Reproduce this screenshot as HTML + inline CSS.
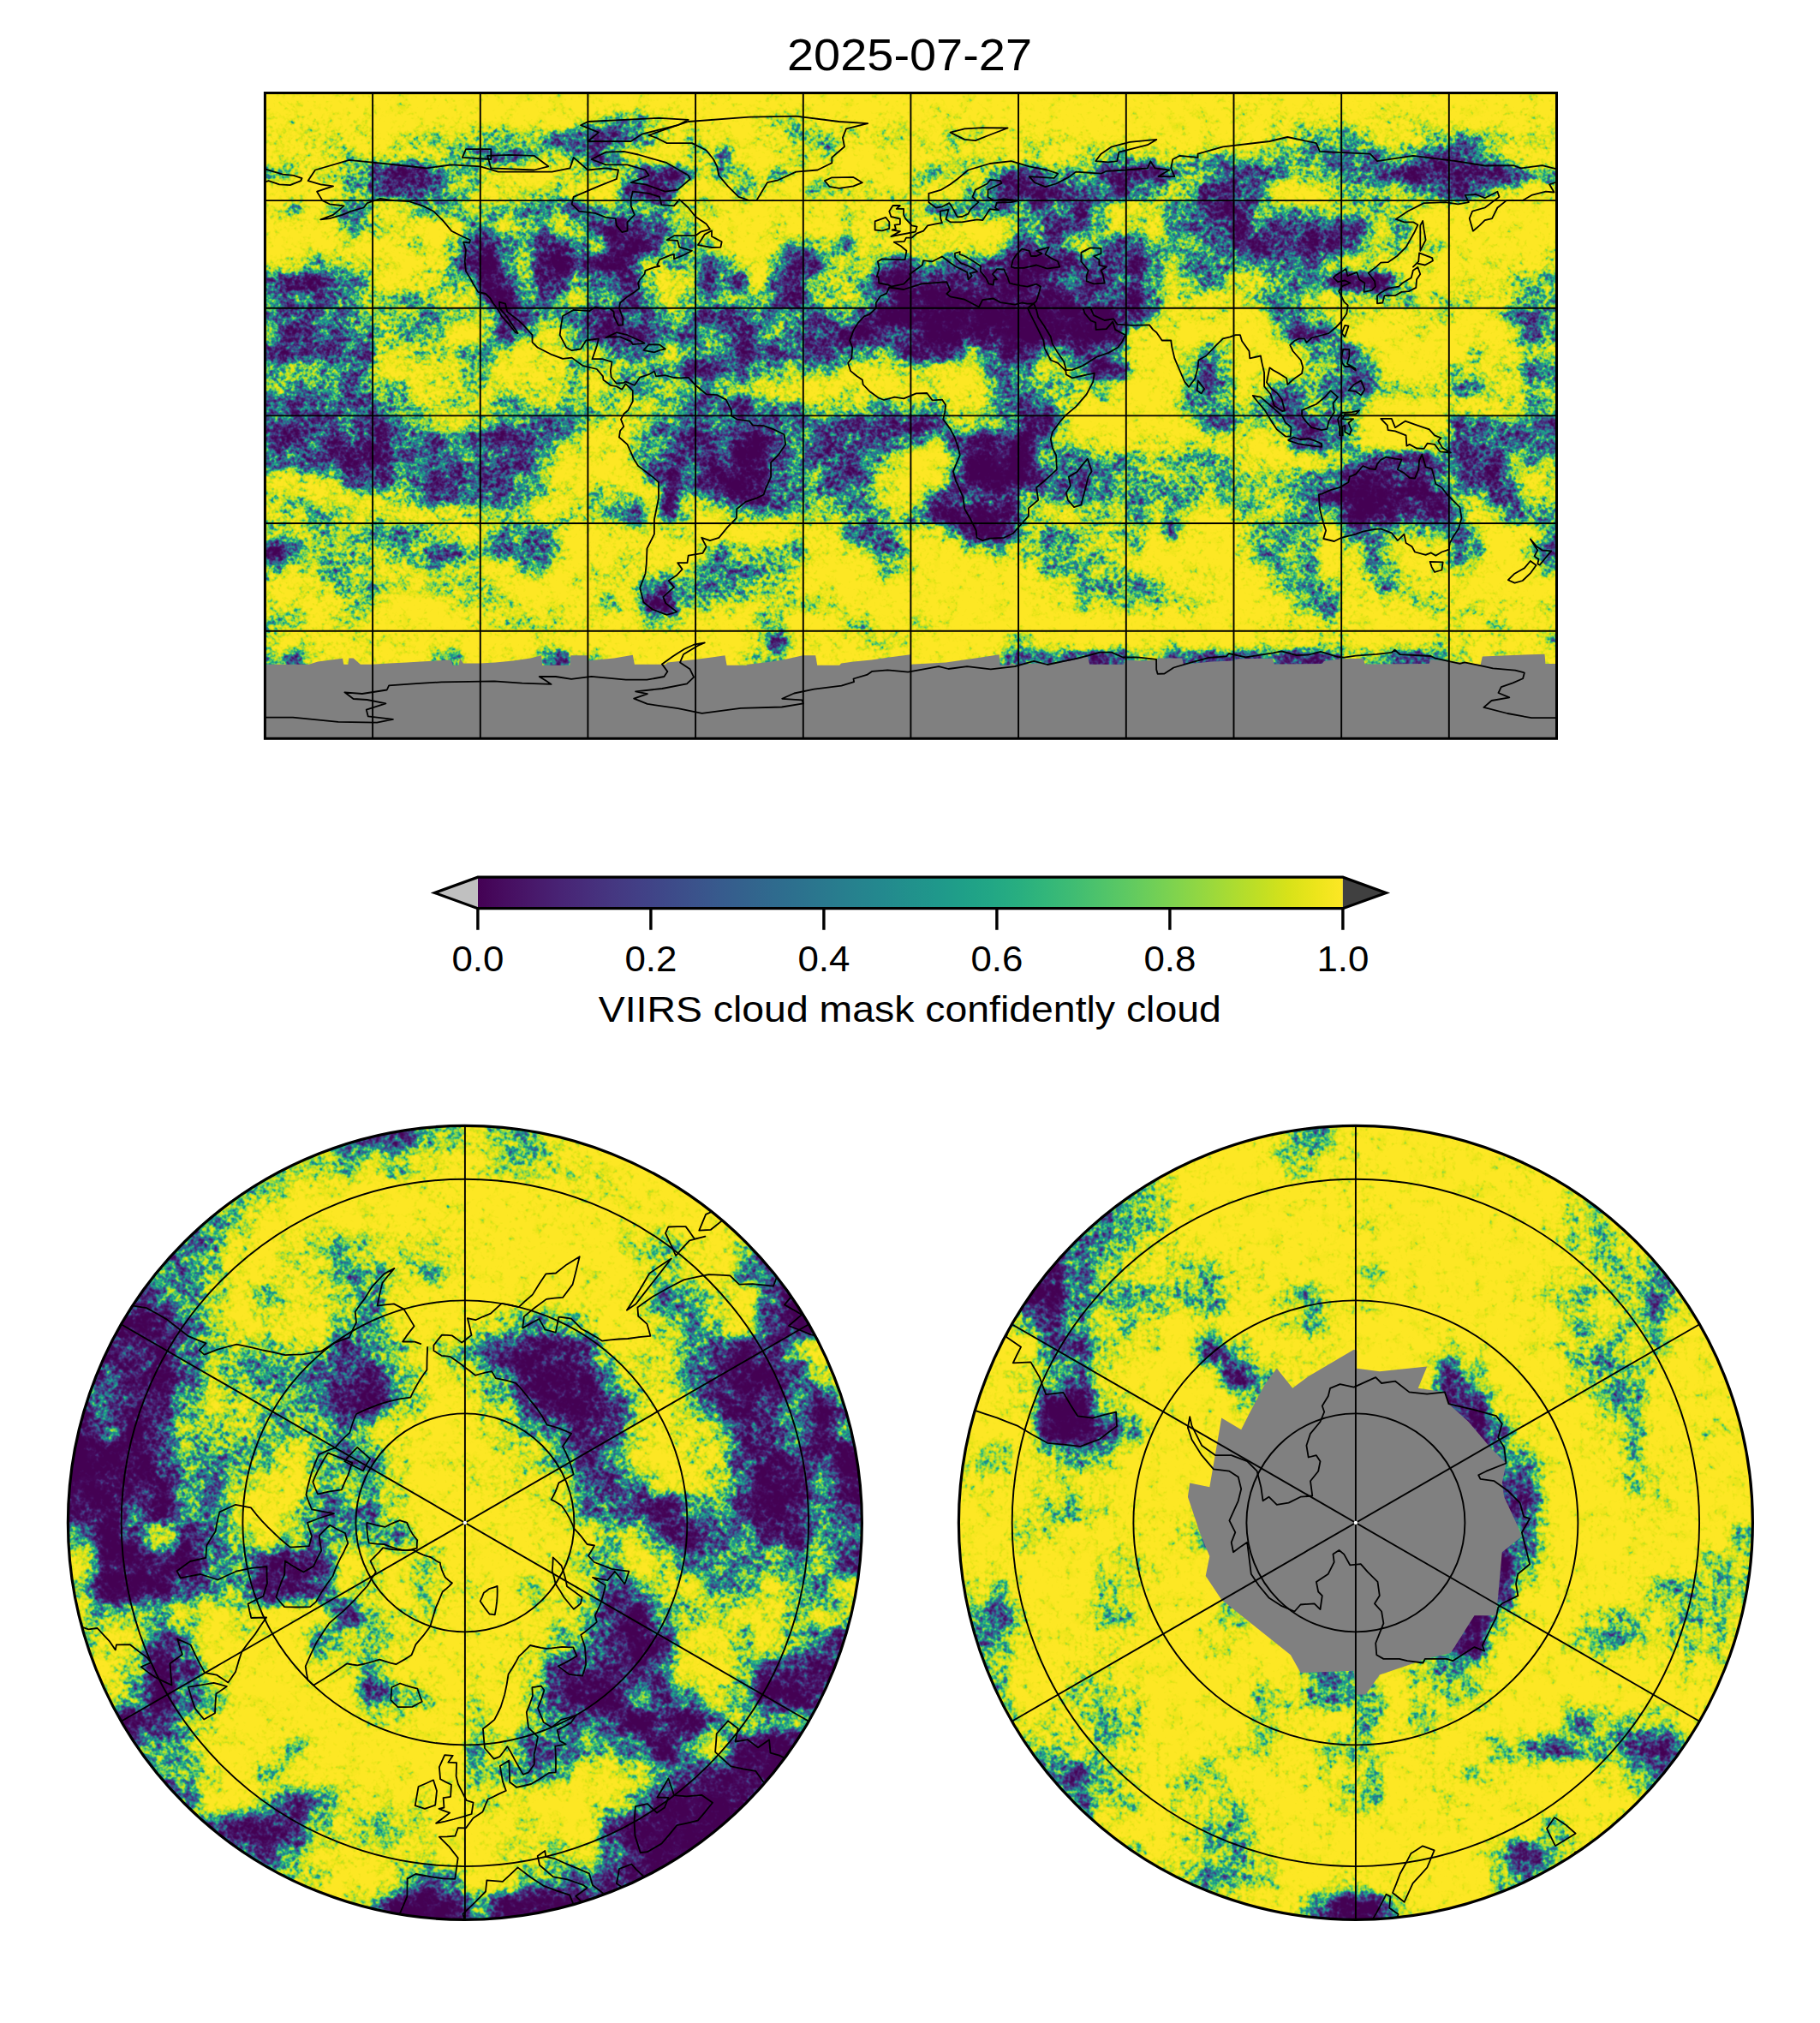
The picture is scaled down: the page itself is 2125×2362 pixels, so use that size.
<!DOCTYPE html>
<html><head><meta charset="utf-8"><title>2025-07-27</title>
<style>html,body{margin:0;padding:0;background:#fff}svg{display:block}text{font-family:"Liberation Sans",sans-serif;fill:#000}</style>
</head><body>
<svg width="2125" height="2362" viewBox="0 0 2125 2362">
<rect width="2125" height="2362" fill="#fff"/>
<defs>
<filter id="fw" filterUnits="userSpaceOnUse" x="249.39999999999998" y="48.5" width="1628.1" height="873.8" color-interpolation-filters="sRGB">
<feGaussianBlur in="SourceGraphic" stdDeviation="6" result="b"/>
<feTurbulence type="fractalNoise" baseFrequency="0.2" numOctaves="2" seed="7" result="t"/>
<feColorMatrix in="t" type="matrix" values="1 0 0 0 0 1 0 0 0 0 1 0 0 0 0 0 0 0 0 1" result="n"/>
<feTurbulence type="fractalNoise" baseFrequency="0.05" numOctaves="3" seed="12" result="t2"/>
<feColorMatrix in="t2" type="matrix" values="1 0 0 0 0 1 0 0 0 0 1 0 0 0 0 0 0 0 0 1" result="n2"/>
<feComposite in="b" in2="n" operator="arithmetic" k1="0" k2="1" k3="0.7" k4="-0.35" result="m1"/>
<feComposite in="m1" in2="n2" operator="arithmetic" k1="0" k2="1" k3="0.55" k4="-0.275" result="m"/>
<feComponentTransfer in="m"><feFuncR type="table" tableValues="0.267 0.267 0.267 0.267 0.267 0.269 0.269 0.269 0.270 0.270 0.271 0.271 0.273 0.273 0.274 0.275 0.276 0.277 0.278 0.279 0.280 0.281 0.281 0.282 0.283 0.283 0.283 0.283 0.282 0.280 0.278 0.274 0.271 0.265 0.259 0.250 0.243 0.234 0.222 0.212 0.201 0.191 0.181 0.171 0.161 0.150 0.142 0.132 0.124 0.120 0.121 0.130 0.150 0.176 0.208 0.246 0.289 0.328 0.378 0.422 0.459 0.506 0.546 0.586 0.616 0.658 0.689 0.720 0.741 0.773 0.794 0.815 0.835 0.856 0.866 0.886 0.896 0.906 0.916 0.926 0.936 0.946 0.955 0.955 0.965 0.965 0.974 0.974 0.984 0.984 0.984 0.993 0.993 0.993 0.993 0.993"/><feFuncG type="table" tableValues="0.005 0.005 0.005 0.005 0.005 0.010 0.010 0.010 0.015 0.015 0.020 0.020 0.026 0.026 0.031 0.038 0.044 0.050 0.056 0.062 0.068 0.079 0.084 0.095 0.105 0.116 0.126 0.141 0.151 0.166 0.180 0.200 0.214 0.233 0.252 0.274 0.292 0.314 0.339 0.360 0.384 0.407 0.430 0.453 0.479 0.504 0.526 0.552 0.578 0.604 0.626 0.651 0.677 0.698 0.719 0.739 0.758 0.774 0.792 0.806 0.816 0.829 0.838 0.847 0.853 0.860 0.865 0.870 0.873 0.878 0.881 0.883 0.886 0.889 0.890 0.892 0.894 0.895 0.896 0.897 0.899 0.900 0.901 0.901 0.902 0.902 0.904 0.904 0.905 0.905 0.905 0.906 0.906 0.906 0.906 0.906"/><feFuncB type="table" tableValues="0.329 0.329 0.329 0.329 0.329 0.335 0.335 0.335 0.341 0.341 0.347 0.347 0.353 0.353 0.359 0.365 0.370 0.376 0.381 0.387 0.392 0.402 0.407 0.417 0.427 0.436 0.445 0.458 0.465 0.476 0.487 0.499 0.507 0.517 0.525 0.533 0.539 0.544 0.549 0.552 0.554 0.556 0.557 0.558 0.558 0.557 0.556 0.553 0.548 0.541 0.533 0.522 0.507 0.491 0.473 0.452 0.428 0.407 0.378 0.352 0.330 0.300 0.276 0.250 0.230 0.203 0.183 0.163 0.150 0.131 0.120 0.110 0.103 0.097 0.096 0.095 0.096 0.098 0.101 0.104 0.108 0.113 0.118 0.118 0.124 0.124 0.130 0.130 0.137 0.137 0.137 0.144 0.144 0.144 0.144 0.144"/></feComponentTransfer>
</filter>
<filter id="fwm" filterUnits="userSpaceOnUse" x="249.39999999999998" y="48.5" width="1628.1" height="873.8" color-interpolation-filters="sRGB">
<feGaussianBlur in="SourceGraphic" stdDeviation="5" result="b"/>
<feTurbulence type="fractalNoise" baseFrequency="0.05" numOctaves="4" seed="11" result="t"/>
<feColorMatrix in="t" type="matrix" values="0 0 0 0 0 0 0 0 0 0 0 0 0 0 0 1 0 0 0 0" result="n"/>
<feComposite in="b" in2="n" operator="arithmetic" k1="0" k2="1" k3="0.6" k4="-0.3" result="m"/>
<feComponentTransfer in="m" result="a"><feFuncA type="linear" slope="40" intercept="-19.5"/></feComponentTransfer>
<feFlood flood-color="#808080"/><feComposite in2="a" operator="in"/>
</filter>
<filter id="fn" filterUnits="userSpaceOnUse" x="19.399999999999977" y="1254.4" width="1047.0" height="1047.0" color-interpolation-filters="sRGB">
<feGaussianBlur in="SourceGraphic" stdDeviation="8" result="b"/>
<feTurbulence type="fractalNoise" baseFrequency="0.18" numOctaves="2" seed="21" result="t"/>
<feColorMatrix in="t" type="matrix" values="1 0 0 0 0 1 0 0 0 0 1 0 0 0 0 0 0 0 0 1" result="n"/>
<feTurbulence type="fractalNoise" baseFrequency="0.05" numOctaves="3" seed="26" result="t2"/>
<feColorMatrix in="t2" type="matrix" values="1 0 0 0 0 1 0 0 0 0 1 0 0 0 0 0 0 0 0 1" result="n2"/>
<feComposite in="b" in2="n" operator="arithmetic" k1="0" k2="1" k3="0.7" k4="-0.35" result="m1"/>
<feComposite in="m1" in2="n2" operator="arithmetic" k1="0" k2="1" k3="0.55" k4="-0.275" result="m"/>
<feComponentTransfer in="m"><feFuncR type="table" tableValues="0.267 0.267 0.267 0.267 0.267 0.269 0.269 0.269 0.270 0.270 0.271 0.271 0.273 0.273 0.274 0.275 0.276 0.277 0.278 0.279 0.280 0.281 0.281 0.282 0.283 0.283 0.283 0.283 0.282 0.280 0.278 0.274 0.271 0.265 0.259 0.250 0.243 0.234 0.222 0.212 0.201 0.191 0.181 0.171 0.161 0.150 0.142 0.132 0.124 0.120 0.121 0.130 0.150 0.176 0.208 0.246 0.289 0.328 0.378 0.422 0.459 0.506 0.546 0.586 0.616 0.658 0.689 0.720 0.741 0.773 0.794 0.815 0.835 0.856 0.866 0.886 0.896 0.906 0.916 0.926 0.936 0.946 0.955 0.955 0.965 0.965 0.974 0.974 0.984 0.984 0.984 0.993 0.993 0.993 0.993 0.993"/><feFuncG type="table" tableValues="0.005 0.005 0.005 0.005 0.005 0.010 0.010 0.010 0.015 0.015 0.020 0.020 0.026 0.026 0.031 0.038 0.044 0.050 0.056 0.062 0.068 0.079 0.084 0.095 0.105 0.116 0.126 0.141 0.151 0.166 0.180 0.200 0.214 0.233 0.252 0.274 0.292 0.314 0.339 0.360 0.384 0.407 0.430 0.453 0.479 0.504 0.526 0.552 0.578 0.604 0.626 0.651 0.677 0.698 0.719 0.739 0.758 0.774 0.792 0.806 0.816 0.829 0.838 0.847 0.853 0.860 0.865 0.870 0.873 0.878 0.881 0.883 0.886 0.889 0.890 0.892 0.894 0.895 0.896 0.897 0.899 0.900 0.901 0.901 0.902 0.902 0.904 0.904 0.905 0.905 0.905 0.906 0.906 0.906 0.906 0.906"/><feFuncB type="table" tableValues="0.329 0.329 0.329 0.329 0.329 0.335 0.335 0.335 0.341 0.341 0.347 0.347 0.353 0.353 0.359 0.365 0.370 0.376 0.381 0.387 0.392 0.402 0.407 0.417 0.427 0.436 0.445 0.458 0.465 0.476 0.487 0.499 0.507 0.517 0.525 0.533 0.539 0.544 0.549 0.552 0.554 0.556 0.557 0.558 0.558 0.557 0.556 0.553 0.548 0.541 0.533 0.522 0.507 0.491 0.473 0.452 0.428 0.407 0.378 0.352 0.330 0.300 0.276 0.250 0.230 0.203 0.183 0.163 0.150 0.131 0.120 0.110 0.103 0.097 0.096 0.095 0.096 0.098 0.101 0.104 0.108 0.113 0.118 0.118 0.124 0.124 0.130 0.130 0.137 0.137 0.137 0.144 0.144 0.144 0.144 0.144"/></feComponentTransfer>
</filter>
<filter id="fnm" filterUnits="userSpaceOnUse" x="19.399999999999977" y="1254.4" width="1047.0" height="1047.0" color-interpolation-filters="sRGB">
<feGaussianBlur in="SourceGraphic" stdDeviation="6" result="b"/>
<feTurbulence type="fractalNoise" baseFrequency="0.05" numOctaves="4" seed="22" result="t"/>
<feColorMatrix in="t" type="matrix" values="0 0 0 0 0 0 0 0 0 0 0 0 0 0 0 1 0 0 0 0" result="n"/>
<feComposite in="b" in2="n" operator="arithmetic" k1="0" k2="1" k3="0.6" k4="-0.3" result="m"/>
<feComponentTransfer in="m" result="a"><feFuncA type="linear" slope="40" intercept="-19.5"/></feComponentTransfer>
<feFlood flood-color="#808080"/><feComposite in2="a" operator="in"/>
</filter>
<filter id="fs" filterUnits="userSpaceOnUse" x="1059.4" y="1254.4" width="1047.0" height="1047.0" color-interpolation-filters="sRGB">
<feGaussianBlur in="SourceGraphic" stdDeviation="8" result="b"/>
<feTurbulence type="fractalNoise" baseFrequency="0.18" numOctaves="2" seed="33" result="t"/>
<feColorMatrix in="t" type="matrix" values="1 0 0 0 0 1 0 0 0 0 1 0 0 0 0 0 0 0 0 1" result="n"/>
<feTurbulence type="fractalNoise" baseFrequency="0.05" numOctaves="3" seed="38" result="t2"/>
<feColorMatrix in="t2" type="matrix" values="1 0 0 0 0 1 0 0 0 0 1 0 0 0 0 0 0 0 0 1" result="n2"/>
<feComposite in="b" in2="n" operator="arithmetic" k1="0" k2="1" k3="0.7" k4="-0.35" result="m1"/>
<feComposite in="m1" in2="n2" operator="arithmetic" k1="0" k2="1" k3="0.55" k4="-0.275" result="m"/>
<feComponentTransfer in="m"><feFuncR type="table" tableValues="0.267 0.267 0.267 0.267 0.267 0.269 0.269 0.269 0.270 0.270 0.271 0.271 0.273 0.273 0.274 0.275 0.276 0.277 0.278 0.279 0.280 0.281 0.281 0.282 0.283 0.283 0.283 0.283 0.282 0.280 0.278 0.274 0.271 0.265 0.259 0.250 0.243 0.234 0.222 0.212 0.201 0.191 0.181 0.171 0.161 0.150 0.142 0.132 0.124 0.120 0.121 0.130 0.150 0.176 0.208 0.246 0.289 0.328 0.378 0.422 0.459 0.506 0.546 0.586 0.616 0.658 0.689 0.720 0.741 0.773 0.794 0.815 0.835 0.856 0.866 0.886 0.896 0.906 0.916 0.926 0.936 0.946 0.955 0.955 0.965 0.965 0.974 0.974 0.984 0.984 0.984 0.993 0.993 0.993 0.993 0.993"/><feFuncG type="table" tableValues="0.005 0.005 0.005 0.005 0.005 0.010 0.010 0.010 0.015 0.015 0.020 0.020 0.026 0.026 0.031 0.038 0.044 0.050 0.056 0.062 0.068 0.079 0.084 0.095 0.105 0.116 0.126 0.141 0.151 0.166 0.180 0.200 0.214 0.233 0.252 0.274 0.292 0.314 0.339 0.360 0.384 0.407 0.430 0.453 0.479 0.504 0.526 0.552 0.578 0.604 0.626 0.651 0.677 0.698 0.719 0.739 0.758 0.774 0.792 0.806 0.816 0.829 0.838 0.847 0.853 0.860 0.865 0.870 0.873 0.878 0.881 0.883 0.886 0.889 0.890 0.892 0.894 0.895 0.896 0.897 0.899 0.900 0.901 0.901 0.902 0.902 0.904 0.904 0.905 0.905 0.905 0.906 0.906 0.906 0.906 0.906"/><feFuncB type="table" tableValues="0.329 0.329 0.329 0.329 0.329 0.335 0.335 0.335 0.341 0.341 0.347 0.347 0.353 0.353 0.359 0.365 0.370 0.376 0.381 0.387 0.392 0.402 0.407 0.417 0.427 0.436 0.445 0.458 0.465 0.476 0.487 0.499 0.507 0.517 0.525 0.533 0.539 0.544 0.549 0.552 0.554 0.556 0.557 0.558 0.558 0.557 0.556 0.553 0.548 0.541 0.533 0.522 0.507 0.491 0.473 0.452 0.428 0.407 0.378 0.352 0.330 0.300 0.276 0.250 0.230 0.203 0.183 0.163 0.150 0.131 0.120 0.110 0.103 0.097 0.096 0.095 0.096 0.098 0.101 0.104 0.108 0.113 0.118 0.118 0.124 0.124 0.130 0.130 0.137 0.137 0.137 0.144 0.144 0.144 0.144 0.144"/></feComponentTransfer>
</filter>
<filter id="fsm" filterUnits="userSpaceOnUse" x="1059.4" y="1254.4" width="1047.0" height="1047.0" color-interpolation-filters="sRGB">
<feGaussianBlur in="SourceGraphic" stdDeviation="6" result="b"/>
<feTurbulence type="fractalNoise" baseFrequency="0.05" numOctaves="4" seed="34" result="t"/>
<feColorMatrix in="t" type="matrix" values="0 0 0 0 0 0 0 0 0 0 0 0 0 0 0 1 0 0 0 0" result="n"/>
<feComposite in="b" in2="n" operator="arithmetic" k1="0" k2="1" k3="0.6" k4="-0.3" result="m"/>
<feComponentTransfer in="m" result="a"><feFuncA type="linear" slope="40" intercept="-19.5"/></feComponentTransfer>
<feFlood flood-color="#808080"/><feComposite in2="a" operator="in"/>
</filter>
<clipPath id="cw"><rect x="309.4" y="108.5" width="1508.1" height="753.8"/></clipPath>
<clipPath id="cn"><circle cx="542.9" cy="1777.9" r="463.5"/></clipPath>
<clipPath id="cs"><circle cx="1582.9" cy="1777.9" r="463.5"/></clipPath>
<linearGradient id="vg" x1="0" x2="1" y1="0" y2="0"><stop offset="0.0000" stop-color="rgb(68,1,84)"/><stop offset="0.0312" stop-color="rgb(71,13,96)"/><stop offset="0.0625" stop-color="rgb(72,24,106)"/><stop offset="0.0938" stop-color="rgb(72,35,116)"/><stop offset="0.1250" stop-color="rgb(71,45,123)"/><stop offset="0.1562" stop-color="rgb(69,55,129)"/><stop offset="0.1875" stop-color="rgb(66,64,134)"/><stop offset="0.2188" stop-color="rgb(62,73,137)"/><stop offset="0.2500" stop-color="rgb(59,82,139)"/><stop offset="0.2812" stop-color="rgb(55,91,141)"/><stop offset="0.3125" stop-color="rgb(51,99,141)"/><stop offset="0.3438" stop-color="rgb(47,107,142)"/><stop offset="0.3750" stop-color="rgb(44,114,142)"/><stop offset="0.4062" stop-color="rgb(41,122,142)"/><stop offset="0.4375" stop-color="rgb(38,130,142)"/><stop offset="0.4688" stop-color="rgb(35,137,142)"/><stop offset="0.5000" stop-color="rgb(33,145,140)"/><stop offset="0.5312" stop-color="rgb(31,152,139)"/><stop offset="0.5625" stop-color="rgb(31,160,136)"/><stop offset="0.5938" stop-color="rgb(34,167,133)"/><stop offset="0.6250" stop-color="rgb(40,174,128)"/><stop offset="0.6562" stop-color="rgb(50,182,122)"/><stop offset="0.6875" stop-color="rgb(63,188,115)"/><stop offset="0.7188" stop-color="rgb(78,195,107)"/><stop offset="0.7500" stop-color="rgb(94,201,98)"/><stop offset="0.7812" stop-color="rgb(112,207,87)"/><stop offset="0.8125" stop-color="rgb(132,212,75)"/><stop offset="0.8438" stop-color="rgb(152,216,62)"/><stop offset="0.8750" stop-color="rgb(173,220,48)"/><stop offset="0.9062" stop-color="rgb(194,223,35)"/><stop offset="0.9375" stop-color="rgb(216,226,25)"/><stop offset="0.9688" stop-color="rgb(236,229,27)"/><stop offset="1.0000" stop-color="rgb(253,231,37)"/></linearGradient>
</defs>
<g clip-path="url(#cw)">
<g filter="url(#fw)"><path fill="rgb(0,0,0)" d="M1189.1 296.9h42.4v21.4h-42.4zM560.8 317.9h21.4v21.4h-21.4zM1042.5 317.9h21.4v21.4h-21.4zM1063.4 338.8h42.4v21.4h-42.4zM1168.2 338.8h21.4v21.4h-21.4zM1021.6 359.8h42.4v21.4h-42.4zM1105.3 359.8h189.0v21.4h-189.0zM1084.4 380.7h42.4v21.4h-42.4zM1168.2 380.7h42.4v21.4h-42.4zM1252.0 380.7h42.4v21.4h-42.4zM874.9 506.3h21.4v21.4h-21.4zM1126.3 527.3h63.3v21.4h-63.3zM1126.3 548.2h63.3v21.4h-63.3zM1566.2 569.2h42.4v21.4h-42.4zM1587.1 590.1h21.4v21.4h-21.4z"/>
<path fill="rgb(20,20,20)" d="M456.0 192.3h21.4v21.4h-21.4zM749.3 213.2h21.4v21.4h-21.4zM707.4 255.1h21.4v21.4h-21.4zM728.3 276.0h21.4v21.4h-21.4zM560.8 296.9h21.4v21.4h-21.4zM644.5 296.9h21.4v21.4h-21.4zM686.4 296.9h42.4v21.4h-42.4zM916.8 296.9h21.4v21.4h-21.4zM1168.2 296.9h21.4v21.4h-21.4zM1021.6 317.9h21.4v21.4h-21.4zM1189.1 317.9h21.4v21.4h-21.4zM1566.2 317.9h21.4v21.4h-21.4zM1608.0 317.9h21.4v21.4h-21.4zM560.8 338.8h42.4v21.4h-42.4zM1042.5 338.8h21.4v21.4h-21.4zM1105.3 338.8h21.4v21.4h-21.4zM1147.2 338.8h21.4v21.4h-21.4zM1210.1 338.8h42.4v21.4h-42.4zM1314.8 338.8h21.4v21.4h-21.4zM1063.4 359.8h42.4v21.4h-42.4zM1293.9 359.8h21.4v21.4h-21.4zM1000.6 380.7h21.4v21.4h-21.4zM1126.3 380.7h42.4v21.4h-42.4zM1210.1 380.7h42.4v21.4h-42.4zM1084.4 401.6h21.4v21.4h-21.4zM854.0 506.3h21.4v21.4h-21.4zM1189.1 506.3h21.4v21.4h-21.4zM854.0 527.3h42.4v21.4h-42.4zM1189.1 527.3h21.4v21.4h-21.4zM833.0 548.2h42.4v21.4h-42.4zM1189.1 548.2h21.4v21.4h-21.4zM1587.1 548.2h21.4v21.4h-21.4zM854.0 569.2h21.4v21.4h-21.4zM1545.2 569.2h21.4v21.4h-21.4zM1608.0 569.2h63.3v21.4h-63.3zM1084.4 590.1h105.2v21.4h-105.2zM1566.2 590.1h21.4v21.4h-21.4zM1608.0 590.1h21.4v21.4h-21.4zM1126.3 611.0h42.4v21.4h-42.4zM267.5 632.0h63.3v21.4h-63.3z"/>
<path fill="rgb(46,46,46)" d="M686.4 150.4h21.4v21.4h-21.4zM435.1 192.3h21.4v21.4h-21.4zM477.0 192.3h21.4v21.4h-21.4zM749.3 192.3h42.4v21.4h-42.4zM1293.9 192.3h63.3v21.4h-63.3zM1629.0 192.3h126.2v21.4h-126.2zM728.3 213.2h21.4v21.4h-21.4zM1168.2 213.2h63.3v21.4h-63.3zM1419.5 213.2h21.4v21.4h-21.4zM1252.0 234.1h21.4v21.4h-21.4zM1419.5 234.1h42.4v21.4h-42.4zM728.3 255.1h21.4v21.4h-21.4zM1231.0 255.1h21.4v21.4h-21.4zM560.8 276.0h21.4v21.4h-21.4zM623.6 276.0h42.4v21.4h-42.4zM707.4 276.0h21.4v21.4h-21.4zM1461.4 276.0h21.4v21.4h-21.4zM1524.3 276.0h42.4v21.4h-42.4zM539.8 296.9h21.4v21.4h-21.4zM623.6 296.9h21.4v21.4h-21.4zM1042.5 296.9h21.4v21.4h-21.4zM1231.0 296.9h21.4v21.4h-21.4zM351.3 317.9h21.4v21.4h-21.4zM644.5 317.9h21.4v21.4h-21.4zM916.8 317.9h21.4v21.4h-21.4zM1084.4 317.9h42.4v21.4h-42.4zM1147.2 317.9h42.4v21.4h-42.4zM1272.9 317.9h21.4v21.4h-21.4zM1587.1 317.9h21.4v21.4h-21.4zM728.3 338.8h21.4v21.4h-21.4zM1126.3 338.8h21.4v21.4h-21.4zM1189.1 338.8h21.4v21.4h-21.4zM581.7 359.8h21.4v21.4h-21.4zM707.4 359.8h21.4v21.4h-21.4zM707.4 380.7h21.4v21.4h-21.4zM979.7 380.7h21.4v21.4h-21.4zM1063.4 380.7h21.4v21.4h-21.4zM1293.9 380.7h21.4v21.4h-21.4zM1063.4 401.6h21.4v21.4h-21.4zM1168.2 401.6h42.4v21.4h-42.4zM1272.9 422.6h21.4v21.4h-21.4zM435.1 485.4h21.4v21.4h-21.4zM1042.5 485.4h42.4v21.4h-42.4zM1189.1 485.4h42.4v21.4h-42.4zM414.1 506.3h42.4v21.4h-42.4zM1126.3 506.3h63.3v21.4h-63.3zM393.2 527.3h63.3v21.4h-63.3zM1649.9 527.3h21.4v21.4h-21.4zM770.2 548.2h21.4v21.4h-21.4zM812.1 548.2h21.4v21.4h-21.4zM874.9 548.2h21.4v21.4h-21.4zM1566.2 548.2h21.4v21.4h-21.4zM1608.0 548.2h21.4v21.4h-21.4zM1649.9 548.2h21.4v21.4h-21.4zM1712.8 548.2h42.4v21.4h-42.4zM770.2 569.2h21.4v21.4h-21.4zM874.9 569.2h21.4v21.4h-21.4zM1670.9 569.2h21.4v21.4h-21.4zM770.2 590.1h21.4v21.4h-21.4zM1670.9 590.1h21.4v21.4h-21.4zM749.3 694.8h42.4v21.4h-42.4zM1272.9 757.6h21.4v21.4h-21.4zM1272.9 778.5h21.4v21.4h-21.4zM1272.9 799.5h21.4v21.4h-21.4zM1272.9 820.4h21.4v21.4h-21.4zM1272.9 841.4h21.4v63.3h-21.4z"/>
<path fill="rgb(76,76,76)" d="M707.4 150.4h21.4v21.4h-21.4zM581.7 171.3h21.4v21.4h-21.4zM686.4 171.3h21.4v21.4h-21.4zM1670.9 171.3h42.4v21.4h-42.4zM1168.2 192.3h42.4v21.4h-42.4zM1440.5 192.3h42.4v21.4h-42.4zM1608.0 192.3h21.4v21.4h-21.4zM1754.7 192.3h21.4v21.4h-21.4zM435.1 213.2h63.3v21.4h-63.3zM770.2 213.2h21.4v21.4h-21.4zM1231.0 213.2h21.4v21.4h-21.4zM1293.9 213.2h21.4v21.4h-21.4zM1398.6 213.2h21.4v21.4h-21.4zM1440.5 213.2h21.4v21.4h-21.4zM1691.8 213.2h21.4v21.4h-21.4zM665.5 234.1h21.4v21.4h-21.4zM1210.1 234.1h21.4v21.4h-21.4zM1398.6 234.1h21.4v21.4h-21.4zM686.4 255.1h21.4v21.4h-21.4zM749.3 255.1h21.4v21.4h-21.4zM1252.0 255.1h21.4v21.4h-21.4zM1419.5 255.1h42.4v21.4h-42.4zM1482.4 255.1h105.2v21.4h-105.2zM539.8 276.0h21.4v21.4h-21.4zM749.3 276.0h21.4v21.4h-21.4zM1189.1 276.0h21.4v21.4h-21.4zM1293.9 276.0h42.4v21.4h-42.4zM1419.5 276.0h42.4v21.4h-42.4zM1482.4 276.0h42.4v21.4h-42.4zM1566.2 276.0h21.4v21.4h-21.4zM665.5 296.9h21.4v21.4h-21.4zM728.3 296.9h21.4v21.4h-21.4zM937.8 296.9h21.4v21.4h-21.4zM1147.2 296.9h21.4v21.4h-21.4zM1252.0 296.9h21.4v21.4h-21.4zM1293.9 296.9h42.4v21.4h-42.4zM267.5 317.9h84.3v21.4h-84.3zM372.2 317.9h21.4v21.4h-21.4zM581.7 317.9h21.4v21.4h-21.4zM623.6 317.9h21.4v21.4h-21.4zM728.3 317.9h21.4v21.4h-21.4zM812.1 317.9h21.4v21.4h-21.4zM854.0 317.9h21.4v21.4h-21.4zM1063.4 317.9h21.4v21.4h-21.4zM1126.3 317.9h21.4v21.4h-21.4zM1210.1 317.9h21.4v21.4h-21.4zM1314.8 317.9h21.4v21.4h-21.4zM1545.2 317.9h21.4v21.4h-21.4zM330.3 338.8h21.4v21.4h-21.4zM623.6 338.8h21.4v21.4h-21.4zM895.9 338.8h42.4v21.4h-42.4zM1252.0 338.8h63.3v21.4h-63.3zM330.3 359.8h42.4v21.4h-42.4zM602.6 359.8h21.4v21.4h-21.4zM686.4 359.8h21.4v21.4h-21.4zM812.1 359.8h63.3v21.4h-63.3zM937.8 359.8h21.4v21.4h-21.4zM1000.6 359.8h21.4v21.4h-21.4zM1314.8 359.8h21.4v21.4h-21.4zM330.3 380.7h42.4v21.4h-42.4zM581.7 380.7h21.4v21.4h-21.4zM686.4 380.7h21.4v21.4h-21.4zM728.3 380.7h42.4v21.4h-42.4zM791.2 380.7h21.4v21.4h-21.4zM854.0 380.7h21.4v21.4h-21.4zM937.8 380.7h42.4v21.4h-42.4zM1021.6 380.7h42.4v21.4h-42.4zM1503.3 380.7h42.4v21.4h-42.4zM1775.6 380.7h21.4v21.4h-21.4zM267.5 401.6h126.2v21.4h-126.2zM414.1 401.6h21.4v21.4h-21.4zM854.0 401.6h63.3v21.4h-63.3zM937.8 401.6h42.4v21.4h-42.4zM1042.5 401.6h21.4v21.4h-21.4zM1105.3 401.6h21.4v21.4h-21.4zM1252.0 401.6h42.4v21.4h-42.4zM791.2 422.6h42.4v21.4h-42.4zM1293.9 422.6h21.4v21.4h-21.4zM1398.6 422.6h21.4v21.4h-21.4zM1566.2 422.6h21.4v21.4h-21.4zM330.3 464.5h21.4v21.4h-21.4zM854.0 464.5h21.4v21.4h-21.4zM1189.1 464.5h42.4v21.4h-42.4zM1482.4 464.5h21.4v21.4h-21.4zM267.5 485.4h105.2v21.4h-105.2zM414.1 485.4h21.4v21.4h-21.4zM623.6 485.4h21.4v21.4h-21.4zM812.1 485.4h21.4v21.4h-21.4zM854.0 485.4h42.4v21.4h-42.4zM958.7 485.4h84.3v21.4h-84.3zM1084.4 485.4h21.4v21.4h-21.4zM1503.3 485.4h42.4v21.4h-42.4zM1691.8 485.4h21.4v21.4h-21.4zM1796.6 485.4h63.3v21.4h-63.3zM267.5 506.3h84.3v21.4h-84.3zM372.2 506.3h42.4v21.4h-42.4zM497.9 506.3h21.4v21.4h-21.4zM560.8 506.3h63.3v21.4h-63.3zM791.2 506.3h42.4v21.4h-42.4zM895.9 506.3h21.4v21.4h-21.4zM958.7 506.3h42.4v21.4h-42.4zM1021.6 506.3h21.4v21.4h-21.4zM1105.3 506.3h21.4v21.4h-21.4zM1503.3 506.3h42.4v21.4h-42.4zM1691.8 506.3h21.4v21.4h-21.4zM351.3 527.3h42.4v21.4h-42.4zM581.7 527.3h42.4v21.4h-42.4zM791.2 527.3h63.3v21.4h-63.3zM979.7 527.3h21.4v21.4h-21.4zM1587.1 527.3h63.3v21.4h-63.3zM1712.8 527.3h42.4v21.4h-42.4zM414.1 548.2h42.4v21.4h-42.4zM497.9 548.2h84.3v21.4h-84.3zM979.7 548.2h21.4v21.4h-21.4zM1210.1 548.2h21.4v21.4h-21.4zM1252.0 548.2h21.4v21.4h-21.4zM1629.0 548.2h21.4v21.4h-21.4zM497.9 569.2h21.4v21.4h-21.4zM560.8 569.2h21.4v21.4h-21.4zM833.0 569.2h21.4v21.4h-21.4zM1084.4 569.2h42.4v21.4h-42.4zM1147.2 569.2h42.4v21.4h-42.4zM1524.3 569.2h21.4v21.4h-21.4zM1733.7 569.2h42.4v21.4h-42.4zM728.3 590.1h21.4v21.4h-21.4zM1629.0 590.1h42.4v21.4h-42.4zM1000.6 611.0h21.4v21.4h-21.4zM1168.2 611.0h21.4v21.4h-21.4zM623.6 632.0h21.4v21.4h-21.4zM1021.6 632.0h21.4v21.4h-21.4zM1796.6 632.0h63.3v21.4h-63.3zM770.2 673.8h21.4v21.4h-21.4zM895.9 736.7h21.4v21.4h-21.4zM644.5 757.6h21.4v21.4h-21.4zM1293.9 757.6h21.4v21.4h-21.4zM1398.6 757.6h42.4v21.4h-42.4zM1482.4 757.6h63.3v21.4h-63.3zM1629.0 757.6h42.4v21.4h-42.4zM644.5 778.5h21.4v21.4h-21.4zM1293.9 778.5h21.4v21.4h-21.4zM1398.6 778.5h42.4v21.4h-42.4zM1482.4 778.5h63.3v21.4h-63.3zM1629.0 778.5h42.4v21.4h-42.4zM644.5 799.5h21.4v21.4h-21.4zM1293.9 799.5h21.4v21.4h-21.4zM1398.6 799.5h42.4v21.4h-42.4zM1482.4 799.5h63.3v21.4h-63.3zM1629.0 799.5h42.4v21.4h-42.4zM644.5 820.4h21.4v21.4h-21.4zM1293.9 820.4h21.4v21.4h-21.4zM1398.6 820.4h42.4v21.4h-42.4zM1482.4 820.4h63.3v21.4h-63.3zM1629.0 820.4h42.4v21.4h-42.4zM644.5 841.4h21.4v63.3h-21.4zM1293.9 841.4h21.4v63.3h-21.4zM1398.6 841.4h42.4v63.3h-42.4zM1482.4 841.4h63.3v63.3h-63.3zM1629.0 841.4h42.4v63.3h-42.4z"/>
<path fill="rgb(110,110,110)" d="M644.5 150.4h42.4v21.4h-42.4zM728.3 150.4h21.4v21.4h-21.4zM560.8 171.3h21.4v21.4h-21.4zM602.6 171.3h21.4v21.4h-21.4zM833.0 171.3h21.4v21.4h-21.4zM1545.2 171.3h63.3v21.4h-63.3zM1649.9 171.3h21.4v21.4h-21.4zM1712.8 171.3h21.4v21.4h-21.4zM497.9 192.3h21.4v21.4h-21.4zM791.2 192.3h21.4v21.4h-21.4zM833.0 192.3h21.4v21.4h-21.4zM1210.1 192.3h21.4v21.4h-21.4zM1272.9 192.3h21.4v21.4h-21.4zM1356.7 192.3h21.4v21.4h-21.4zM1419.5 192.3h21.4v21.4h-21.4zM1482.4 192.3h21.4v21.4h-21.4zM1566.2 192.3h42.4v21.4h-42.4zM497.9 213.2h21.4v21.4h-21.4zM1147.2 213.2h21.4v21.4h-21.4zM1252.0 213.2h42.4v21.4h-42.4zM1314.8 213.2h21.4v21.4h-21.4zM1649.9 213.2h42.4v21.4h-42.4zM1712.8 213.2h21.4v21.4h-21.4zM414.1 234.1h21.4v21.4h-21.4zM623.6 234.1h42.4v21.4h-42.4zM1084.4 234.1h21.4v21.4h-21.4zM1126.3 234.1h63.3v21.4h-63.3zM1377.6 234.1h21.4v21.4h-21.4zM1210.1 255.1h21.4v21.4h-21.4zM1377.6 255.1h42.4v21.4h-42.4zM1461.4 255.1h21.4v21.4h-21.4zM581.7 276.0h42.4v21.4h-42.4zM791.2 276.0h21.4v21.4h-21.4zM916.8 276.0h21.4v21.4h-21.4zM979.7 276.0h21.4v21.4h-21.4zM1210.1 276.0h42.4v21.4h-42.4zM1398.6 276.0h21.4v21.4h-21.4zM812.1 296.9h21.4v21.4h-21.4zM1021.6 296.9h21.4v21.4h-21.4zM1105.3 296.9h42.4v21.4h-42.4zM1272.9 296.9h21.4v21.4h-21.4zM1335.7 296.9h21.4v21.4h-21.4zM1377.6 296.9h42.4v21.4h-42.4zM1461.4 296.9h84.3v21.4h-84.3zM393.2 317.9h21.4v21.4h-21.4zM539.8 317.9h21.4v21.4h-21.4zM707.4 317.9h21.4v21.4h-21.4zM833.0 317.9h21.4v21.4h-21.4zM895.9 317.9h21.4v21.4h-21.4zM1231.0 317.9h42.4v21.4h-42.4zM1293.9 317.9h21.4v21.4h-21.4zM1398.6 317.9h21.4v21.4h-21.4zM351.3 338.8h63.3v21.4h-63.3zM686.4 338.8h42.4v21.4h-42.4zM1021.6 338.8h21.4v21.4h-21.4zM1482.4 338.8h21.4v21.4h-21.4zM393.2 359.8h21.4v21.4h-21.4zM497.9 359.8h21.4v21.4h-21.4zM665.5 359.8h21.4v21.4h-21.4zM728.3 359.8h42.4v21.4h-42.4zM874.9 359.8h21.4v21.4h-21.4zM958.7 359.8h21.4v21.4h-21.4zM1482.4 359.8h42.4v21.4h-42.4zM1775.6 359.8h21.4v21.4h-21.4zM372.2 380.7h42.4v21.4h-42.4zM665.5 380.7h21.4v21.4h-21.4zM770.2 380.7h21.4v21.4h-21.4zM874.9 380.7h21.4v21.4h-21.4zM916.8 380.7h21.4v21.4h-21.4zM1545.2 380.7h21.4v21.4h-21.4zM393.2 401.6h21.4v21.4h-21.4zM728.3 401.6h21.4v21.4h-21.4zM812.1 401.6h42.4v21.4h-42.4zM916.8 401.6h21.4v21.4h-21.4zM979.7 401.6h42.4v21.4h-42.4zM1398.6 401.6h21.4v21.4h-21.4zM1566.2 401.6h21.4v21.4h-21.4zM393.2 422.6h42.4v21.4h-42.4zM770.2 422.6h21.4v21.4h-21.4zM833.0 422.6h63.3v21.4h-63.3zM1147.2 422.6h42.4v21.4h-42.4zM1587.1 422.6h21.4v21.4h-21.4zM1775.6 422.6h84.3v21.4h-84.3zM351.3 443.5h84.3v21.4h-84.3zM812.1 443.5h21.4v21.4h-21.4zM1168.2 443.5h42.4v21.4h-42.4zM1398.6 443.5h21.4v21.4h-21.4zM1482.4 443.5h42.4v21.4h-42.4zM1545.2 443.5h63.3v21.4h-63.3zM1691.8 443.5h21.4v21.4h-21.4zM267.5 464.5h63.3v21.4h-63.3zM351.3 464.5h105.2v21.4h-105.2zM791.2 464.5h63.3v21.4h-63.3zM874.9 464.5h63.3v21.4h-63.3zM1021.6 464.5h21.4v21.4h-21.4zM1168.2 464.5h21.4v21.4h-21.4zM1419.5 464.5h21.4v21.4h-21.4zM1503.3 464.5h21.4v21.4h-21.4zM372.2 485.4h42.4v21.4h-42.4zM456.0 485.4h21.4v21.4h-21.4zM560.8 485.4h63.3v21.4h-63.3zM644.5 485.4h21.4v21.4h-21.4zM770.2 485.4h42.4v21.4h-42.4zM895.9 485.4h21.4v21.4h-21.4zM937.8 485.4h21.4v21.4h-21.4zM1398.6 485.4h42.4v21.4h-42.4zM1545.2 485.4h21.4v21.4h-21.4zM1712.8 485.4h84.3v21.4h-84.3zM351.3 506.3h21.4v21.4h-21.4zM477.0 506.3h21.4v21.4h-21.4zM539.8 506.3h21.4v21.4h-21.4zM623.6 506.3h21.4v21.4h-21.4zM770.2 506.3h21.4v21.4h-21.4zM833.0 506.3h21.4v21.4h-21.4zM937.8 506.3h21.4v21.4h-21.4zM1000.6 506.3h21.4v21.4h-21.4zM1210.1 506.3h21.4v21.4h-21.4zM1545.2 506.3h21.4v21.4h-21.4zM1712.8 506.3h147.1v21.4h-147.1zM267.5 527.3h84.3v21.4h-84.3zM456.0 527.3h126.2v21.4h-126.2zM749.3 527.3h42.4v21.4h-42.4zM895.9 527.3h84.3v21.4h-84.3zM1000.6 527.3h21.4v21.4h-21.4zM1231.0 527.3h42.4v21.4h-42.4zM1670.9 527.3h42.4v21.4h-42.4zM393.2 548.2h21.4v21.4h-21.4zM456.0 548.2h42.4v21.4h-42.4zM581.7 548.2h21.4v21.4h-21.4zM749.3 548.2h21.4v21.4h-21.4zM791.2 548.2h21.4v21.4h-21.4zM895.9 548.2h42.4v21.4h-42.4zM958.7 548.2h21.4v21.4h-21.4zM1000.6 548.2h21.4v21.4h-21.4zM1105.3 548.2h21.4v21.4h-21.4zM1231.0 548.2h21.4v21.4h-21.4zM1524.3 548.2h21.4v21.4h-21.4zM477.0 569.2h21.4v21.4h-21.4zM518.9 569.2h42.4v21.4h-42.4zM581.7 569.2h21.4v21.4h-21.4zM895.9 569.2h42.4v21.4h-42.4zM979.7 569.2h21.4v21.4h-21.4zM1126.3 569.2h21.4v21.4h-21.4zM1231.0 569.2h42.4v21.4h-42.4zM1314.8 569.2h21.4v21.4h-21.4zM707.4 590.1h21.4v21.4h-21.4zM1691.8 590.1h21.4v21.4h-21.4zM1754.7 590.1h42.4v21.4h-42.4zM435.1 611.0h42.4v21.4h-42.4zM602.6 611.0h42.4v21.4h-42.4zM1021.6 611.0h21.4v21.4h-21.4zM1105.3 611.0h21.4v21.4h-21.4zM1356.7 611.0h21.4v21.4h-21.4zM1566.2 611.0h21.4v21.4h-21.4zM1691.8 611.0h21.4v21.4h-21.4zM330.3 632.0h21.4v21.4h-21.4zM497.9 632.0h42.4v21.4h-42.4zM560.8 632.0h63.3v21.4h-63.3zM833.0 632.0h21.4v21.4h-21.4zM1587.1 632.0h21.4v21.4h-21.4zM1691.8 632.0h21.4v21.4h-21.4zM833.0 652.9h21.4v21.4h-21.4zM1587.1 652.9h21.4v21.4h-21.4zM749.3 673.8h21.4v21.4h-21.4zM812.1 673.8h21.4v21.4h-21.4zM1314.8 673.8h21.4v21.4h-21.4zM1608.0 673.8h21.4v21.4h-21.4zM1545.2 694.8h21.4v21.4h-21.4zM330.3 757.6h21.4v21.4h-21.4zM1189.1 757.6h84.3v21.4h-84.3zM1356.7 757.6h42.4v21.4h-42.4zM1440.5 757.6h42.4v21.4h-42.4zM1545.2 757.6h21.4v21.4h-21.4zM1608.0 757.6h21.4v21.4h-21.4zM330.3 778.5h21.4v21.4h-21.4zM1189.1 778.5h84.3v21.4h-84.3zM1356.7 778.5h42.4v21.4h-42.4zM1440.5 778.5h42.4v21.4h-42.4zM1545.2 778.5h21.4v21.4h-21.4zM1608.0 778.5h21.4v21.4h-21.4zM330.3 799.5h21.4v21.4h-21.4zM1189.1 799.5h84.3v21.4h-84.3zM1356.7 799.5h42.4v21.4h-42.4zM1440.5 799.5h42.4v21.4h-42.4zM1545.2 799.5h21.4v21.4h-21.4zM1608.0 799.5h21.4v21.4h-21.4zM330.3 820.4h21.4v21.4h-21.4zM1189.1 820.4h84.3v21.4h-84.3zM1356.7 820.4h42.4v21.4h-42.4zM1440.5 820.4h42.4v21.4h-42.4zM1545.2 820.4h21.4v21.4h-21.4zM1608.0 820.4h21.4v21.4h-21.4zM330.3 841.4h21.4v63.3h-21.4zM1189.1 841.4h84.3v63.3h-84.3zM1356.7 841.4h42.4v63.3h-42.4zM1440.5 841.4h42.4v63.3h-42.4zM1545.2 841.4h21.4v63.3h-21.4zM1608.0 841.4h21.4v63.3h-21.4z"/>
<path fill="rgb(143,143,143)" d="M707.4 129.4h42.4v21.4h-42.4zM581.7 150.4h21.4v21.4h-21.4zM623.6 150.4h21.4v21.4h-21.4zM937.8 150.4h21.4v21.4h-21.4zM1524.3 150.4h21.4v21.4h-21.4zM1566.2 150.4h21.4v21.4h-21.4zM1670.9 150.4h63.3v21.4h-63.3zM539.8 171.3h21.4v21.4h-21.4zM665.5 171.3h21.4v21.4h-21.4zM707.4 171.3h21.4v21.4h-21.4zM1293.9 171.3h21.4v21.4h-21.4zM1419.5 171.3h21.4v21.4h-21.4zM1482.4 171.3h63.3v21.4h-63.3zM1608.0 171.3h42.4v21.4h-42.4zM267.5 192.3h84.3v21.4h-84.3zM414.1 192.3h21.4v21.4h-21.4zM518.9 192.3h42.4v21.4h-42.4zM728.3 192.3h21.4v21.4h-21.4zM895.9 192.3h21.4v21.4h-21.4zM1084.4 192.3h21.4v21.4h-21.4zM1231.0 192.3h42.4v21.4h-42.4zM1377.6 192.3h42.4v21.4h-42.4zM1503.3 192.3h21.4v21.4h-21.4zM1545.2 192.3h21.4v21.4h-21.4zM1775.6 192.3h84.3v21.4h-84.3zM414.1 213.2h21.4v21.4h-21.4zM854.0 213.2h21.4v21.4h-21.4zM937.8 213.2h21.4v21.4h-21.4zM1335.7 213.2h21.4v21.4h-21.4zM1461.4 213.2h21.4v21.4h-21.4zM1733.7 213.2h21.4v21.4h-21.4zM330.3 234.1h21.4v21.4h-21.4zM393.2 234.1h21.4v21.4h-21.4zM497.9 234.1h42.4v21.4h-42.4zM602.6 234.1h21.4v21.4h-21.4zM686.4 234.1h42.4v21.4h-42.4zM770.2 234.1h21.4v21.4h-21.4zM1105.3 234.1h21.4v21.4h-21.4zM1189.1 234.1h21.4v21.4h-21.4zM1231.0 234.1h21.4v21.4h-21.4zM1272.9 234.1h21.4v21.4h-21.4zM1356.7 234.1h21.4v21.4h-21.4zM1461.4 234.1h21.4v21.4h-21.4zM1587.1 234.1h21.4v21.4h-21.4zM393.2 255.1h42.4v21.4h-42.4zM539.8 255.1h42.4v21.4h-42.4zM623.6 255.1h21.4v21.4h-21.4zM770.2 255.1h21.4v21.4h-21.4zM1189.1 255.1h21.4v21.4h-21.4zM1356.7 255.1h21.4v21.4h-21.4zM1587.1 255.1h21.4v21.4h-21.4zM1629.0 255.1h21.4v21.4h-21.4zM665.5 276.0h21.4v21.4h-21.4zM770.2 276.0h21.4v21.4h-21.4zM937.8 276.0h21.4v21.4h-21.4zM1168.2 276.0h21.4v21.4h-21.4zM1272.9 276.0h21.4v21.4h-21.4zM1335.7 276.0h21.4v21.4h-21.4zM351.3 296.9h42.4v21.4h-42.4zM518.9 296.9h21.4v21.4h-21.4zM581.7 296.9h21.4v21.4h-21.4zM791.2 296.9h21.4v21.4h-21.4zM833.0 296.9h21.4v21.4h-21.4zM895.9 296.9h21.4v21.4h-21.4zM1084.4 296.9h21.4v21.4h-21.4zM1419.5 296.9h42.4v21.4h-42.4zM414.1 317.9h21.4v21.4h-21.4zM665.5 317.9h42.4v21.4h-42.4zM937.8 317.9h21.4v21.4h-21.4zM1000.6 317.9h21.4v21.4h-21.4zM1335.7 317.9h21.4v21.4h-21.4zM1377.6 317.9h21.4v21.4h-21.4zM1482.4 317.9h63.3v21.4h-63.3zM1775.6 317.9h84.3v21.4h-84.3zM267.5 338.8h63.3v21.4h-63.3zM477.0 338.8h21.4v21.4h-21.4zM602.6 338.8h21.4v21.4h-21.4zM644.5 338.8h21.4v21.4h-21.4zM749.3 338.8h21.4v21.4h-21.4zM812.1 338.8h63.3v21.4h-63.3zM937.8 338.8h21.4v21.4h-21.4zM1000.6 338.8h21.4v21.4h-21.4zM1335.7 338.8h21.4v21.4h-21.4zM1461.4 338.8h21.4v21.4h-21.4zM1503.3 338.8h21.4v21.4h-21.4zM1608.0 338.8h21.4v21.4h-21.4zM1775.6 338.8h84.3v21.4h-84.3zM267.5 359.8h63.3v21.4h-63.3zM372.2 359.8h21.4v21.4h-21.4zM414.1 359.8h21.4v21.4h-21.4zM456.0 359.8h42.4v21.4h-42.4zM623.6 359.8h42.4v21.4h-42.4zM770.2 359.8h42.4v21.4h-42.4zM895.9 359.8h42.4v21.4h-42.4zM979.7 359.8h21.4v21.4h-21.4zM1335.7 359.8h21.4v21.4h-21.4zM1524.3 359.8h21.4v21.4h-21.4zM1754.7 359.8h21.4v21.4h-21.4zM1796.6 359.8h63.3v21.4h-63.3zM267.5 380.7h63.3v21.4h-63.3zM414.1 380.7h21.4v21.4h-21.4zM456.0 380.7h21.4v21.4h-21.4zM560.8 380.7h21.4v21.4h-21.4zM602.6 380.7h21.4v21.4h-21.4zM812.1 380.7h42.4v21.4h-42.4zM895.9 380.7h21.4v21.4h-21.4zM1796.6 380.7h63.3v21.4h-63.3zM477.0 401.6h21.4v21.4h-21.4zM539.8 401.6h42.4v21.4h-42.4zM707.4 401.6h21.4v21.4h-21.4zM749.3 401.6h21.4v21.4h-21.4zM791.2 401.6h21.4v21.4h-21.4zM1147.2 401.6h21.4v21.4h-21.4zM1210.1 401.6h42.4v21.4h-42.4zM1293.9 401.6h21.4v21.4h-21.4zM1524.3 401.6h42.4v21.4h-42.4zM1775.6 401.6h21.4v21.4h-21.4zM267.5 422.6h63.3v21.4h-63.3zM372.2 422.6h21.4v21.4h-21.4zM539.8 422.6h21.4v21.4h-21.4zM728.3 422.6h42.4v21.4h-42.4zM895.9 422.6h21.4v21.4h-21.4zM937.8 422.6h21.4v21.4h-21.4zM1189.1 422.6h21.4v21.4h-21.4zM1252.0 422.6h21.4v21.4h-21.4zM1419.5 422.6h21.4v21.4h-21.4zM1545.2 422.6h21.4v21.4h-21.4zM267.5 443.5h84.3v21.4h-84.3zM456.0 443.5h21.4v21.4h-21.4zM728.3 443.5h42.4v21.4h-42.4zM791.2 443.5h21.4v21.4h-21.4zM833.0 443.5h21.4v21.4h-21.4zM1147.2 443.5h21.4v21.4h-21.4zM1272.9 443.5h21.4v21.4h-21.4zM1377.6 443.5h21.4v21.4h-21.4zM1419.5 443.5h21.4v21.4h-21.4zM1524.3 443.5h21.4v21.4h-21.4zM1608.0 443.5h21.4v21.4h-21.4zM1712.8 443.5h21.4v21.4h-21.4zM456.0 464.5h21.4v21.4h-21.4zM581.7 464.5h42.4v21.4h-42.4zM644.5 464.5h42.4v21.4h-42.4zM1063.4 464.5h42.4v21.4h-42.4zM1147.2 464.5h21.4v21.4h-21.4zM1377.6 464.5h42.4v21.4h-42.4zM1461.4 464.5h21.4v21.4h-21.4zM1545.2 464.5h42.4v21.4h-42.4zM1796.6 464.5h63.3v21.4h-63.3zM477.0 485.4h21.4v21.4h-21.4zM665.5 485.4h21.4v21.4h-21.4zM749.3 485.4h21.4v21.4h-21.4zM833.0 485.4h21.4v21.4h-21.4zM916.8 485.4h21.4v21.4h-21.4zM1168.2 485.4h21.4v21.4h-21.4zM1566.2 485.4h21.4v21.4h-21.4zM456.0 506.3h21.4v21.4h-21.4zM518.9 506.3h21.4v21.4h-21.4zM749.3 506.3h21.4v21.4h-21.4zM916.8 506.3h21.4v21.4h-21.4zM1042.5 506.3h42.4v21.4h-42.4zM1566.2 506.3h21.4v21.4h-21.4zM623.6 527.3h21.4v21.4h-21.4zM1021.6 527.3h21.4v21.4h-21.4zM1105.3 527.3h21.4v21.4h-21.4zM1272.9 527.3h63.3v21.4h-63.3zM1356.7 527.3h84.3v21.4h-84.3zM1566.2 527.3h21.4v21.4h-21.4zM1754.7 527.3h42.4v21.4h-42.4zM602.6 548.2h21.4v21.4h-21.4zM937.8 548.2h21.4v21.4h-21.4zM1272.9 548.2h84.3v21.4h-84.3zM1398.6 548.2h42.4v21.4h-42.4zM1503.3 548.2h21.4v21.4h-21.4zM1545.2 548.2h21.4v21.4h-21.4zM1670.9 548.2h42.4v21.4h-42.4zM1754.7 548.2h21.4v21.4h-21.4zM602.6 569.2h21.4v21.4h-21.4zM686.4 569.2h21.4v21.4h-21.4zM812.1 569.2h21.4v21.4h-21.4zM937.8 569.2h42.4v21.4h-42.4zM1000.6 569.2h21.4v21.4h-21.4zM1210.1 569.2h21.4v21.4h-21.4zM1272.9 569.2h42.4v21.4h-42.4zM1335.7 569.2h63.3v21.4h-63.3zM1440.5 569.2h21.4v21.4h-21.4zM1503.3 569.2h21.4v21.4h-21.4zM351.3 590.1h42.4v21.4h-42.4zM854.0 590.1h84.3v21.4h-84.3zM979.7 590.1h63.3v21.4h-63.3zM1063.4 590.1h21.4v21.4h-21.4zM1314.8 590.1h21.4v21.4h-21.4zM1356.7 590.1h21.4v21.4h-21.4zM1440.5 590.1h21.4v21.4h-21.4zM1503.3 590.1h42.4v21.4h-42.4zM1796.6 590.1h63.3v21.4h-63.3zM372.2 611.0h21.4v21.4h-21.4zM477.0 611.0h42.4v21.4h-42.4zM581.7 611.0h21.4v21.4h-21.4zM979.7 611.0h21.4v21.4h-21.4zM1210.1 611.0h42.4v21.4h-42.4zM1461.4 611.0h63.3v21.4h-63.3zM1587.1 611.0h42.4v21.4h-42.4zM1649.9 611.0h42.4v21.4h-42.4zM1712.8 611.0h21.4v21.4h-21.4zM1796.6 611.0h63.3v21.4h-63.3zM456.0 632.0h21.4v21.4h-21.4zM895.9 632.0h42.4v21.4h-42.4zM1000.6 632.0h21.4v21.4h-21.4zM1042.5 632.0h21.4v21.4h-21.4zM1147.2 632.0h21.4v21.4h-21.4zM1210.1 632.0h42.4v21.4h-42.4zM1461.4 632.0h63.3v21.4h-63.3zM1712.8 632.0h21.4v21.4h-21.4zM267.5 652.9h63.3v21.4h-63.3zM372.2 652.9h42.4v21.4h-42.4zM477.0 652.9h42.4v21.4h-42.4zM602.6 652.9h42.4v21.4h-42.4zM812.1 652.9h21.4v21.4h-21.4zM854.0 652.9h63.3v21.4h-63.3zM1210.1 652.9h63.3v21.4h-63.3zM1482.4 652.9h63.3v21.4h-63.3zM1608.0 652.9h21.4v21.4h-21.4zM1691.8 652.9h21.4v21.4h-21.4zM1796.6 652.9h63.3v21.4h-63.3zM393.2 673.8h21.4v21.4h-21.4zM435.1 673.8h21.4v21.4h-21.4zM791.2 673.8h21.4v21.4h-21.4zM833.0 673.8h42.4v21.4h-42.4zM1252.0 673.8h63.3v21.4h-63.3zM1335.7 673.8h21.4v21.4h-21.4zM1503.3 673.8h63.3v21.4h-63.3zM791.2 694.8h21.4v21.4h-21.4zM1293.9 694.8h21.4v21.4h-21.4zM1524.3 694.8h21.4v21.4h-21.4zM267.5 715.7h63.3v21.4h-63.3zM518.9 757.6h21.4v21.4h-21.4zM623.6 757.6h21.4v21.4h-21.4zM895.9 757.6h21.4v21.4h-21.4zM1168.2 757.6h21.4v21.4h-21.4zM1314.8 757.6h42.4v21.4h-42.4zM1587.1 757.6h21.4v21.4h-21.4zM1670.9 757.6h21.4v21.4h-21.4zM518.9 778.5h21.4v21.4h-21.4zM623.6 778.5h21.4v21.4h-21.4zM895.9 778.5h21.4v21.4h-21.4zM1168.2 778.5h21.4v21.4h-21.4zM1314.8 778.5h42.4v21.4h-42.4zM1587.1 778.5h21.4v21.4h-21.4zM1670.9 778.5h21.4v21.4h-21.4zM518.9 799.5h21.4v21.4h-21.4zM623.6 799.5h21.4v21.4h-21.4zM895.9 799.5h21.4v21.4h-21.4zM1168.2 799.5h21.4v21.4h-21.4zM1314.8 799.5h42.4v21.4h-42.4zM1587.1 799.5h21.4v21.4h-21.4zM1670.9 799.5h21.4v21.4h-21.4zM518.9 820.4h21.4v21.4h-21.4zM623.6 820.4h21.4v21.4h-21.4zM895.9 820.4h21.4v21.4h-21.4zM1168.2 820.4h21.4v21.4h-21.4zM1314.8 820.4h42.4v21.4h-42.4zM1587.1 820.4h21.4v21.4h-21.4zM1670.9 820.4h21.4v21.4h-21.4zM518.9 841.4h21.4v63.3h-21.4zM623.6 841.4h21.4v63.3h-21.4zM895.9 841.4h21.4v63.3h-21.4zM1168.2 841.4h21.4v63.3h-21.4zM1314.8 841.4h42.4v63.3h-42.4zM1587.1 841.4h21.4v63.3h-21.4zM1670.9 841.4h21.4v63.3h-21.4z"/>
<path fill="rgb(176,176,176)" d="M686.4 129.4h21.4v21.4h-21.4zM749.3 129.4h21.4v21.4h-21.4zM895.9 129.4h42.4v21.4h-42.4zM477.0 150.4h42.4v21.4h-42.4zM539.8 150.4h42.4v21.4h-42.4zM602.6 150.4h21.4v21.4h-21.4zM749.3 150.4h21.4v21.4h-21.4zM916.8 150.4h21.4v21.4h-21.4zM958.7 150.4h21.4v21.4h-21.4zM1105.3 150.4h42.4v21.4h-42.4zM1503.3 150.4h21.4v21.4h-21.4zM1545.2 150.4h21.4v21.4h-21.4zM1587.1 150.4h21.4v21.4h-21.4zM1733.7 150.4h42.4v21.4h-42.4zM393.2 171.3h21.4v21.4h-21.4zM518.9 171.3h21.4v21.4h-21.4zM623.6 171.3h42.4v21.4h-42.4zM812.1 171.3h21.4v21.4h-21.4zM937.8 171.3h21.4v21.4h-21.4zM1272.9 171.3h21.4v21.4h-21.4zM1314.8 171.3h42.4v21.4h-42.4zM1398.6 171.3h21.4v21.4h-21.4zM1461.4 171.3h21.4v21.4h-21.4zM1733.7 171.3h21.4v21.4h-21.4zM393.2 192.3h21.4v21.4h-21.4zM665.5 192.3h63.3v21.4h-63.3zM854.0 192.3h21.4v21.4h-21.4zM1063.4 192.3h21.4v21.4h-21.4zM1105.3 192.3h21.4v21.4h-21.4zM1147.2 192.3h21.4v21.4h-21.4zM1524.3 192.3h21.4v21.4h-21.4zM393.2 213.2h21.4v21.4h-21.4zM518.9 213.2h42.4v21.4h-42.4zM623.6 213.2h42.4v21.4h-42.4zM874.9 213.2h21.4v21.4h-21.4zM958.7 213.2h21.4v21.4h-21.4zM1126.3 213.2h21.4v21.4h-21.4zM1356.7 213.2h42.4v21.4h-42.4zM1545.2 213.2h105.2v21.4h-105.2zM1754.7 213.2h21.4v21.4h-21.4zM477.0 234.1h21.4v21.4h-21.4zM539.8 234.1h63.3v21.4h-63.3zM728.3 234.1h42.4v21.4h-42.4zM791.2 234.1h42.4v21.4h-42.4zM1063.4 234.1h21.4v21.4h-21.4zM1335.7 234.1h21.4v21.4h-21.4zM1482.4 234.1h105.2v21.4h-105.2zM1608.0 234.1h42.4v21.4h-42.4zM602.6 255.1h21.4v21.4h-21.4zM665.5 255.1h21.4v21.4h-21.4zM791.2 255.1h21.4v21.4h-21.4zM1272.9 255.1h21.4v21.4h-21.4zM1314.8 255.1h21.4v21.4h-21.4zM1608.0 255.1h21.4v21.4h-21.4zM518.9 276.0h21.4v21.4h-21.4zM686.4 276.0h21.4v21.4h-21.4zM812.1 276.0h21.4v21.4h-21.4zM958.7 276.0h21.4v21.4h-21.4zM1356.7 276.0h42.4v21.4h-42.4zM1587.1 276.0h63.3v21.4h-63.3zM1670.9 276.0h21.4v21.4h-21.4zM393.2 296.9h21.4v21.4h-21.4zM602.6 296.9h21.4v21.4h-21.4zM749.3 296.9h42.4v21.4h-42.4zM854.0 296.9h21.4v21.4h-21.4zM958.7 296.9h21.4v21.4h-21.4zM1000.6 296.9h21.4v21.4h-21.4zM1063.4 296.9h21.4v21.4h-21.4zM1356.7 296.9h21.4v21.4h-21.4zM1545.2 296.9h21.4v21.4h-21.4zM1587.1 296.9h21.4v21.4h-21.4zM497.9 317.9h42.4v21.4h-42.4zM602.6 317.9h21.4v21.4h-21.4zM749.3 317.9h21.4v21.4h-21.4zM958.7 317.9h42.4v21.4h-42.4zM1356.7 317.9h21.4v21.4h-21.4zM1419.5 317.9h21.4v21.4h-21.4zM1461.4 317.9h21.4v21.4h-21.4zM1629.0 317.9h21.4v21.4h-21.4zM414.1 338.8h63.3v21.4h-63.3zM497.9 338.8h21.4v21.4h-21.4zM791.2 338.8h21.4v21.4h-21.4zM874.9 338.8h21.4v21.4h-21.4zM958.7 338.8h42.4v21.4h-42.4zM1524.3 338.8h21.4v21.4h-21.4zM1566.2 338.8h42.4v21.4h-42.4zM1629.0 338.8h21.4v21.4h-21.4zM1670.9 338.8h63.3v21.4h-63.3zM1754.7 338.8h21.4v21.4h-21.4zM435.1 359.8h21.4v21.4h-21.4zM518.9 359.8h21.4v21.4h-21.4zM560.8 359.8h21.4v21.4h-21.4zM435.1 380.7h21.4v21.4h-21.4zM477.0 380.7h42.4v21.4h-42.4zM644.5 380.7h21.4v21.4h-21.4zM435.1 401.6h21.4v21.4h-21.4zM497.9 401.6h42.4v21.4h-42.4zM665.5 401.6h42.4v21.4h-42.4zM1021.6 401.6h21.4v21.4h-21.4zM1126.3 401.6h21.4v21.4h-21.4zM1377.6 401.6h21.4v21.4h-21.4zM1419.5 401.6h21.4v21.4h-21.4zM1587.1 401.6h21.4v21.4h-21.4zM1712.8 401.6h21.4v21.4h-21.4zM1796.6 401.6h63.3v21.4h-63.3zM330.3 422.6h42.4v21.4h-42.4zM518.9 422.6h21.4v21.4h-21.4zM560.8 422.6h21.4v21.4h-21.4zM665.5 422.6h21.4v21.4h-21.4zM707.4 422.6h21.4v21.4h-21.4zM916.8 422.6h21.4v21.4h-21.4zM958.7 422.6h21.4v21.4h-21.4zM1063.4 422.6h21.4v21.4h-21.4zM1231.0 422.6h21.4v21.4h-21.4zM1314.8 422.6h21.4v21.4h-21.4zM1377.6 422.6h21.4v21.4h-21.4zM1524.3 422.6h21.4v21.4h-21.4zM1691.8 422.6h42.4v21.4h-42.4zM435.1 443.5h21.4v21.4h-21.4zM539.8 443.5h21.4v21.4h-21.4zM644.5 443.5h42.4v21.4h-42.4zM707.4 443.5h21.4v21.4h-21.4zM770.2 443.5h21.4v21.4h-21.4zM854.0 443.5h21.4v21.4h-21.4zM1210.1 443.5h63.3v21.4h-63.3zM1629.0 443.5h63.3v21.4h-63.3zM1733.7 443.5h21.4v21.4h-21.4zM1775.6 443.5h84.3v21.4h-84.3zM477.0 464.5h42.4v21.4h-42.4zM560.8 464.5h21.4v21.4h-21.4zM623.6 464.5h21.4v21.4h-21.4zM686.4 464.5h63.3v21.4h-63.3zM770.2 464.5h21.4v21.4h-21.4zM937.8 464.5h84.3v21.4h-84.3zM1042.5 464.5h21.4v21.4h-21.4zM1231.0 464.5h21.4v21.4h-21.4zM1440.5 464.5h21.4v21.4h-21.4zM1524.3 464.5h21.4v21.4h-21.4zM1775.6 464.5h21.4v21.4h-21.4zM497.9 485.4h21.4v21.4h-21.4zM539.8 485.4h21.4v21.4h-21.4zM1105.3 485.4h63.3v21.4h-63.3zM1231.0 485.4h21.4v21.4h-21.4zM1440.5 485.4h63.3v21.4h-63.3zM644.5 506.3h21.4v21.4h-21.4zM728.3 506.3h21.4v21.4h-21.4zM1231.0 506.3h21.4v21.4h-21.4zM1670.9 506.3h21.4v21.4h-21.4zM728.3 527.3h21.4v21.4h-21.4zM1210.1 527.3h21.4v21.4h-21.4zM1335.7 527.3h21.4v21.4h-21.4zM1796.6 527.3h63.3v21.4h-63.3zM372.2 548.2h21.4v21.4h-21.4zM623.6 548.2h21.4v21.4h-21.4zM1356.7 548.2h42.4v21.4h-42.4zM1440.5 548.2h63.3v21.4h-63.3zM267.5 569.2h84.3v21.4h-84.3zM414.1 569.2h21.4v21.4h-21.4zM456.0 569.2h21.4v21.4h-21.4zM623.6 569.2h21.4v21.4h-21.4zM707.4 569.2h42.4v21.4h-42.4zM791.2 569.2h21.4v21.4h-21.4zM1063.4 569.2h21.4v21.4h-21.4zM1189.1 569.2h21.4v21.4h-21.4zM1398.6 569.2h42.4v21.4h-42.4zM1461.4 569.2h42.4v21.4h-42.4zM1691.8 569.2h42.4v21.4h-42.4zM1796.6 569.2h63.3v21.4h-63.3zM330.3 590.1h21.4v21.4h-21.4zM393.2 590.1h21.4v21.4h-21.4zM435.1 590.1h21.4v21.4h-21.4zM560.8 590.1h63.3v21.4h-63.3zM686.4 590.1h21.4v21.4h-21.4zM791.2 590.1h21.4v21.4h-21.4zM937.8 590.1h42.4v21.4h-42.4zM1042.5 590.1h21.4v21.4h-21.4zM1189.1 590.1h21.4v21.4h-21.4zM1252.0 590.1h63.3v21.4h-63.3zM1335.7 590.1h21.4v21.4h-21.4zM1482.4 590.1h21.4v21.4h-21.4zM1545.2 590.1h21.4v21.4h-21.4zM267.5 611.0h105.2v21.4h-105.2zM393.2 611.0h42.4v21.4h-42.4zM560.8 611.0h21.4v21.4h-21.4zM1042.5 611.0h21.4v21.4h-21.4zM1189.1 611.0h21.4v21.4h-21.4zM1252.0 611.0h84.3v21.4h-84.3zM1524.3 611.0h21.4v21.4h-21.4zM1629.0 611.0h21.4v21.4h-21.4zM351.3 632.0h105.2v21.4h-105.2zM477.0 632.0h21.4v21.4h-21.4zM539.8 632.0h21.4v21.4h-21.4zM812.1 632.0h21.4v21.4h-21.4zM854.0 632.0h42.4v21.4h-42.4zM1126.3 632.0h21.4v21.4h-21.4zM1189.1 632.0h21.4v21.4h-21.4zM1252.0 632.0h42.4v21.4h-42.4zM1314.8 632.0h21.4v21.4h-21.4zM1524.3 632.0h21.4v21.4h-21.4zM1608.0 632.0h21.4v21.4h-21.4zM1775.6 632.0h21.4v21.4h-21.4zM351.3 652.9h21.4v21.4h-21.4zM414.1 652.9h21.4v21.4h-21.4zM518.9 652.9h21.4v21.4h-21.4zM916.8 652.9h21.4v21.4h-21.4zM1021.6 652.9h42.4v21.4h-42.4zM1272.9 652.9h42.4v21.4h-42.4zM1461.4 652.9h21.4v21.4h-21.4zM372.2 673.8h21.4v21.4h-21.4zM414.1 673.8h21.4v21.4h-21.4zM497.9 673.8h84.3v21.4h-84.3zM874.9 673.8h42.4v21.4h-42.4zM1482.4 673.8h21.4v21.4h-21.4zM1629.0 673.8h21.4v21.4h-21.4zM414.1 694.8h21.4v21.4h-21.4zM539.8 694.8h63.3v21.4h-63.3zM686.4 694.8h42.4v21.4h-42.4zM812.1 694.8h63.3v21.4h-63.3zM895.9 694.8h63.3v21.4h-63.3zM1252.0 694.8h21.4v21.4h-21.4zM1314.8 694.8h84.3v21.4h-84.3zM1503.3 694.8h21.4v21.4h-21.4zM1649.9 694.8h42.4v21.4h-42.4zM330.3 715.7h21.4v21.4h-21.4zM393.2 715.7h42.4v21.4h-42.4zM602.6 715.7h42.4v21.4h-42.4zM749.3 715.7h42.4v21.4h-42.4zM874.9 715.7h42.4v21.4h-42.4zM1000.6 715.7h21.4v21.4h-21.4zM1063.4 715.7h21.4v21.4h-21.4zM1524.3 715.7h42.4v21.4h-42.4zM916.8 736.7h21.4v21.4h-21.4zM1021.6 736.7h21.4v21.4h-21.4zM1168.2 736.7h42.4v21.4h-42.4zM1670.9 736.7h21.4v21.4h-21.4zM1796.6 736.7h63.3v21.4h-63.3zM267.5 757.6h63.3v21.4h-63.3zM351.3 757.6h21.4v21.4h-21.4zM497.9 757.6h21.4v21.4h-21.4zM686.4 757.6h21.4v21.4h-21.4zM874.9 757.6h21.4v21.4h-21.4zM1566.2 757.6h21.4v21.4h-21.4zM267.5 778.5h63.3v21.4h-63.3zM351.3 778.5h21.4v21.4h-21.4zM497.9 778.5h21.4v21.4h-21.4zM686.4 778.5h21.4v21.4h-21.4zM874.9 778.5h21.4v21.4h-21.4zM1566.2 778.5h21.4v21.4h-21.4zM267.5 799.5h63.3v21.4h-63.3zM351.3 799.5h21.4v21.4h-21.4zM497.9 799.5h21.4v21.4h-21.4zM686.4 799.5h21.4v21.4h-21.4zM874.9 799.5h21.4v21.4h-21.4zM1566.2 799.5h21.4v21.4h-21.4zM267.5 820.4h63.3v21.4h-63.3zM351.3 820.4h21.4v21.4h-21.4zM497.9 820.4h21.4v21.4h-21.4zM686.4 820.4h21.4v21.4h-21.4zM874.9 820.4h21.4v21.4h-21.4zM1566.2 820.4h21.4v21.4h-21.4zM267.5 841.4h63.3v63.3h-63.3zM351.3 841.4h21.4v63.3h-21.4zM497.9 841.4h21.4v63.3h-21.4zM686.4 841.4h21.4v63.3h-21.4zM874.9 841.4h21.4v63.3h-21.4zM1566.2 841.4h21.4v63.3h-21.4z"/>
<path fill="rgb(207,207,207)" d="M330.3 129.4h21.4v21.4h-21.4zM665.5 129.4h21.4v21.4h-21.4zM770.2 129.4h21.4v21.4h-21.4zM874.9 129.4h21.4v21.4h-21.4zM958.7 129.4h21.4v21.4h-21.4zM1503.3 129.4h63.3v21.4h-63.3zM1608.0 129.4h63.3v21.4h-63.3zM351.3 150.4h63.3v21.4h-63.3zM456.0 150.4h21.4v21.4h-21.4zM518.9 150.4h21.4v21.4h-21.4zM770.2 150.4h63.3v21.4h-63.3zM895.9 150.4h21.4v21.4h-21.4zM979.7 150.4h105.2v21.4h-105.2zM1189.1 150.4h63.3v21.4h-63.3zM1335.7 150.4h21.4v21.4h-21.4zM1482.4 150.4h21.4v21.4h-21.4zM1608.0 150.4h21.4v21.4h-21.4zM1649.9 150.4h21.4v21.4h-21.4zM1775.6 150.4h84.3v21.4h-84.3zM351.3 171.3h42.4v21.4h-42.4zM414.1 171.3h105.2v21.4h-105.2zM791.2 171.3h21.4v21.4h-21.4zM916.8 171.3h21.4v21.4h-21.4zM958.7 171.3h21.4v21.4h-21.4zM1105.3 171.3h63.3v21.4h-63.3zM1189.1 171.3h21.4v21.4h-21.4zM1252.0 171.3h21.4v21.4h-21.4zM1356.7 171.3h42.4v21.4h-42.4zM1440.5 171.3h21.4v21.4h-21.4zM372.2 192.3h21.4v21.4h-21.4zM560.8 192.3h21.4v21.4h-21.4zM812.1 192.3h21.4v21.4h-21.4zM874.9 192.3h21.4v21.4h-21.4zM916.8 192.3h21.4v21.4h-21.4zM1126.3 192.3h21.4v21.4h-21.4zM560.8 213.2h63.3v21.4h-63.3zM707.4 213.2h21.4v21.4h-21.4zM979.7 213.2h105.2v21.4h-105.2zM372.2 234.1h21.4v21.4h-21.4zM1042.5 234.1h21.4v21.4h-21.4zM1649.9 234.1h21.4v21.4h-21.4zM435.1 255.1h63.3v21.4h-63.3zM518.9 255.1h21.4v21.4h-21.4zM581.7 255.1h21.4v21.4h-21.4zM644.5 255.1h21.4v21.4h-21.4zM895.9 255.1h21.4v21.4h-21.4zM979.7 255.1h21.4v21.4h-21.4zM1021.6 255.1h42.4v21.4h-42.4zM1084.4 255.1h42.4v21.4h-42.4zM1168.2 255.1h21.4v21.4h-21.4zM1293.9 255.1h21.4v21.4h-21.4zM1335.7 255.1h21.4v21.4h-21.4zM477.0 276.0h21.4v21.4h-21.4zM833.0 276.0h21.4v21.4h-21.4zM895.9 276.0h21.4v21.4h-21.4zM1000.6 276.0h21.4v21.4h-21.4zM1063.4 276.0h21.4v21.4h-21.4zM1105.3 276.0h21.4v21.4h-21.4zM1252.0 276.0h21.4v21.4h-21.4zM1649.9 276.0h21.4v21.4h-21.4zM330.3 296.9h21.4v21.4h-21.4zM414.1 296.9h21.4v21.4h-21.4zM497.9 296.9h21.4v21.4h-21.4zM979.7 296.9h21.4v21.4h-21.4zM1566.2 296.9h21.4v21.4h-21.4zM1733.7 296.9h21.4v21.4h-21.4zM1796.6 296.9h63.3v21.4h-63.3zM435.1 317.9h21.4v21.4h-21.4zM477.0 317.9h21.4v21.4h-21.4zM791.2 317.9h21.4v21.4h-21.4zM1754.7 317.9h21.4v21.4h-21.4zM518.9 338.8h42.4v21.4h-42.4zM665.5 338.8h21.4v21.4h-21.4zM770.2 338.8h21.4v21.4h-21.4zM1356.7 338.8h105.2v21.4h-105.2zM1545.2 338.8h21.4v21.4h-21.4zM1649.9 338.8h21.4v21.4h-21.4zM1733.7 338.8h21.4v21.4h-21.4zM539.8 359.8h21.4v21.4h-21.4zM1356.7 359.8h21.4v21.4h-21.4zM1545.2 359.8h42.4v21.4h-42.4zM1649.9 359.8h42.4v21.4h-42.4zM1419.5 380.7h21.4v21.4h-21.4zM1482.4 380.7h21.4v21.4h-21.4zM1566.2 380.7h21.4v21.4h-21.4zM1649.9 380.7h21.4v21.4h-21.4zM1754.7 380.7h21.4v21.4h-21.4zM456.0 401.6h21.4v21.4h-21.4zM581.7 401.6h21.4v21.4h-21.4zM644.5 401.6h21.4v21.4h-21.4zM1503.3 401.6h21.4v21.4h-21.4zM497.9 422.6h21.4v21.4h-21.4zM644.5 422.6h21.4v21.4h-21.4zM686.4 422.6h21.4v21.4h-21.4zM1042.5 422.6h21.4v21.4h-21.4zM1084.4 422.6h21.4v21.4h-21.4zM1210.1 422.6h21.4v21.4h-21.4zM1754.7 422.6h21.4v21.4h-21.4zM477.0 443.5h21.4v21.4h-21.4zM518.9 443.5h21.4v21.4h-21.4zM560.8 443.5h84.3v21.4h-84.3zM686.4 443.5h21.4v21.4h-21.4zM874.9 443.5h21.4v21.4h-21.4zM979.7 443.5h21.4v21.4h-21.4zM1293.9 443.5h21.4v21.4h-21.4zM1461.4 443.5h21.4v21.4h-21.4zM1754.7 443.5h21.4v21.4h-21.4zM518.9 464.5h42.4v21.4h-42.4zM749.3 464.5h21.4v21.4h-21.4zM1105.3 464.5h42.4v21.4h-42.4zM1356.7 464.5h21.4v21.4h-21.4zM1587.1 464.5h21.4v21.4h-21.4zM1691.8 464.5h21.4v21.4h-21.4zM1754.7 464.5h21.4v21.4h-21.4zM518.9 485.4h21.4v21.4h-21.4zM686.4 485.4h63.3v21.4h-63.3zM665.5 506.3h21.4v21.4h-21.4zM1084.4 506.3h21.4v21.4h-21.4zM1252.0 506.3h42.4v21.4h-42.4zM1356.7 506.3h84.3v21.4h-84.3zM1440.5 527.3h42.4v21.4h-42.4zM1545.2 527.3h21.4v21.4h-21.4zM267.5 548.2h63.3v21.4h-63.3zM351.3 548.2h21.4v21.4h-21.4zM1021.6 548.2h21.4v21.4h-21.4zM1796.6 548.2h63.3v21.4h-63.3zM351.3 569.2h21.4v21.4h-21.4zM435.1 569.2h21.4v21.4h-21.4zM644.5 569.2h21.4v21.4h-21.4zM1021.6 569.2h21.4v21.4h-21.4zM1775.6 569.2h21.4v21.4h-21.4zM267.5 590.1h63.3v21.4h-63.3zM414.1 590.1h21.4v21.4h-21.4zM497.9 590.1h63.3v21.4h-63.3zM644.5 590.1h42.4v21.4h-42.4zM749.3 590.1h21.4v21.4h-21.4zM833.0 590.1h21.4v21.4h-21.4zM1210.1 590.1h42.4v21.4h-42.4zM1377.6 590.1h21.4v21.4h-21.4zM1461.4 590.1h21.4v21.4h-21.4zM1733.7 590.1h21.4v21.4h-21.4zM518.9 611.0h21.4v21.4h-21.4zM644.5 611.0h21.4v21.4h-21.4zM728.3 611.0h84.3v21.4h-84.3zM937.8 611.0h21.4v21.4h-21.4zM1063.4 611.0h21.4v21.4h-21.4zM1335.7 611.0h21.4v21.4h-21.4zM1377.6 611.0h21.4v21.4h-21.4zM1440.5 611.0h21.4v21.4h-21.4zM644.5 632.0h21.4v21.4h-21.4zM937.8 632.0h21.4v21.4h-21.4zM1168.2 632.0h21.4v21.4h-21.4zM1293.9 632.0h21.4v21.4h-21.4zM1440.5 632.0h21.4v21.4h-21.4zM1566.2 632.0h21.4v21.4h-21.4zM330.3 652.9h21.4v21.4h-21.4zM435.1 652.9h42.4v21.4h-42.4zM539.8 652.9h42.4v21.4h-42.4zM707.4 652.9h42.4v21.4h-42.4zM770.2 652.9h42.4v21.4h-42.4zM1189.1 652.9h21.4v21.4h-21.4zM1670.9 652.9h21.4v21.4h-21.4zM1712.8 652.9h21.4v21.4h-21.4zM456.0 673.8h21.4v21.4h-21.4zM665.5 673.8h84.3v21.4h-84.3zM916.8 673.8h21.4v21.4h-21.4zM1231.0 673.8h21.4v21.4h-21.4zM1356.7 673.8h21.4v21.4h-21.4zM1587.1 673.8h21.4v21.4h-21.4zM1649.9 673.8h21.4v21.4h-21.4zM267.5 694.8h84.3v21.4h-84.3zM393.2 694.8h21.4v21.4h-21.4zM435.1 694.8h21.4v21.4h-21.4zM518.9 694.8h21.4v21.4h-21.4zM728.3 694.8h21.4v21.4h-21.4zM874.9 694.8h21.4v21.4h-21.4zM958.7 694.8h21.4v21.4h-21.4zM1272.9 694.8h21.4v21.4h-21.4zM1398.6 694.8h21.4v21.4h-21.4zM1608.0 694.8h42.4v21.4h-42.4zM1691.8 694.8h42.4v21.4h-42.4zM1796.6 694.8h63.3v21.4h-63.3zM351.3 715.7h21.4v21.4h-21.4zM581.7 715.7h21.4v21.4h-21.4zM644.5 715.7h21.4v21.4h-21.4zM979.7 715.7h21.4v21.4h-21.4zM1670.9 715.7h42.4v21.4h-42.4zM1733.7 715.7h21.4v21.4h-21.4zM267.5 736.7h63.3v21.4h-63.3zM414.1 736.7h21.4v21.4h-21.4zM623.6 736.7h21.4v21.4h-21.4zM874.9 736.7h21.4v21.4h-21.4zM1000.6 736.7h21.4v21.4h-21.4zM1042.5 736.7h21.4v21.4h-21.4zM1482.4 736.7h21.4v21.4h-21.4zM1524.3 736.7h42.4v21.4h-42.4zM1733.7 736.7h42.4v21.4h-42.4zM372.2 757.6h21.4v21.4h-21.4zM1691.8 757.6h21.4v21.4h-21.4zM372.2 778.5h21.4v21.4h-21.4zM1691.8 778.5h21.4v21.4h-21.4zM372.2 799.5h21.4v21.4h-21.4zM1691.8 799.5h21.4v21.4h-21.4zM372.2 820.4h21.4v21.4h-21.4zM1691.8 820.4h21.4v21.4h-21.4zM372.2 841.4h21.4v63.3h-21.4zM1691.8 841.4h21.4v63.3h-21.4z"/>
<path fill="rgb(237,237,237)" d="M1419.5 66.6h63.3v63.3h-63.3zM267.5 129.4h63.3v21.4h-63.3zM351.3 129.4h84.3v21.4h-84.3zM518.9 129.4h42.4v21.4h-42.4zM791.2 129.4h21.4v21.4h-21.4zM937.8 129.4h21.4v21.4h-21.4zM1021.6 129.4h126.2v21.4h-126.2zM1377.6 129.4h126.2v21.4h-126.2zM1566.2 129.4h42.4v21.4h-42.4zM1670.9 129.4h21.4v21.4h-21.4zM1754.7 129.4h105.2v21.4h-105.2zM267.5 150.4h84.3v21.4h-84.3zM414.1 150.4h42.4v21.4h-42.4zM833.0 150.4h21.4v21.4h-21.4zM874.9 150.4h21.4v21.4h-21.4zM1084.4 150.4h21.4v21.4h-21.4zM1147.2 150.4h42.4v21.4h-42.4zM1252.0 150.4h21.4v21.4h-21.4zM1293.9 150.4h42.4v21.4h-42.4zM1398.6 150.4h84.3v21.4h-84.3zM1629.0 150.4h21.4v21.4h-21.4zM267.5 171.3h84.3v21.4h-84.3zM728.3 171.3h63.3v21.4h-63.3zM854.0 171.3h21.4v21.4h-21.4zM895.9 171.3h21.4v21.4h-21.4zM1042.5 171.3h63.3v21.4h-63.3zM1168.2 171.3h21.4v21.4h-21.4zM1210.1 171.3h42.4v21.4h-42.4zM1754.7 171.3h105.2v21.4h-105.2zM351.3 192.3h21.4v21.4h-21.4zM581.7 192.3h21.4v21.4h-21.4zM644.5 192.3h21.4v21.4h-21.4zM937.8 192.3h63.3v21.4h-63.3zM1042.5 192.3h21.4v21.4h-21.4zM372.2 213.2h21.4v21.4h-21.4zM665.5 213.2h42.4v21.4h-42.4zM791.2 213.2h21.4v21.4h-21.4zM833.0 213.2h21.4v21.4h-21.4zM1084.4 213.2h42.4v21.4h-42.4zM1482.4 213.2h21.4v21.4h-21.4zM1524.3 213.2h21.4v21.4h-21.4zM1775.6 213.2h84.3v21.4h-84.3zM267.5 234.1h63.3v21.4h-63.3zM351.3 234.1h21.4v21.4h-21.4zM435.1 234.1h42.4v21.4h-42.4zM833.0 234.1h21.4v21.4h-21.4zM979.7 234.1h63.3v21.4h-63.3zM1293.9 234.1h42.4v21.4h-42.4zM1670.9 234.1h63.3v21.4h-63.3zM1796.6 234.1h63.3v21.4h-63.3zM267.5 255.1h84.3v21.4h-84.3zM372.2 255.1h21.4v21.4h-21.4zM812.1 255.1h21.4v21.4h-21.4zM916.8 255.1h21.4v21.4h-21.4zM958.7 255.1h21.4v21.4h-21.4zM1000.6 255.1h21.4v21.4h-21.4zM1063.4 255.1h21.4v21.4h-21.4zM1649.9 255.1h21.4v21.4h-21.4zM351.3 276.0h21.4v21.4h-21.4zM393.2 276.0h84.3v21.4h-84.3zM854.0 276.0h21.4v21.4h-21.4zM1021.6 276.0h42.4v21.4h-42.4zM1084.4 276.0h21.4v21.4h-21.4zM1147.2 276.0h21.4v21.4h-21.4zM1754.7 276.0h21.4v21.4h-21.4zM1796.6 276.0h63.3v21.4h-63.3zM267.5 296.9h63.3v21.4h-63.3zM435.1 296.9h21.4v21.4h-21.4zM1608.0 296.9h126.2v21.4h-126.2zM1754.7 296.9h42.4v21.4h-42.4zM456.0 317.9h21.4v21.4h-21.4zM770.2 317.9h21.4v21.4h-21.4zM874.9 317.9h21.4v21.4h-21.4zM1440.5 317.9h21.4v21.4h-21.4zM1712.8 317.9h42.4v21.4h-42.4zM1398.6 359.8h42.4v21.4h-42.4zM1461.4 359.8h21.4v21.4h-21.4zM1587.1 359.8h21.4v21.4h-21.4zM1629.0 359.8h21.4v21.4h-21.4zM1691.8 359.8h21.4v21.4h-21.4zM1733.7 359.8h21.4v21.4h-21.4zM518.9 380.7h42.4v21.4h-42.4zM623.6 380.7h21.4v21.4h-21.4zM1314.8 380.7h42.4v21.4h-42.4zM1398.6 380.7h21.4v21.4h-21.4zM1712.8 380.7h21.4v21.4h-21.4zM602.6 401.6h42.4v21.4h-42.4zM770.2 401.6h21.4v21.4h-21.4zM1314.8 401.6h21.4v21.4h-21.4zM1356.7 401.6h21.4v21.4h-21.4zM1733.7 401.6h42.4v21.4h-42.4zM435.1 422.6h21.4v21.4h-21.4zM477.0 422.6h21.4v21.4h-21.4zM581.7 422.6h63.3v21.4h-63.3zM979.7 422.6h63.3v21.4h-63.3zM1105.3 422.6h42.4v21.4h-42.4zM1440.5 422.6h42.4v21.4h-42.4zM1503.3 422.6h21.4v21.4h-21.4zM1608.0 422.6h21.4v21.4h-21.4zM1670.9 422.6h21.4v21.4h-21.4zM1733.7 422.6h21.4v21.4h-21.4zM497.9 443.5h21.4v21.4h-21.4zM895.9 443.5h84.3v21.4h-84.3zM1000.6 443.5h105.2v21.4h-105.2zM1126.3 443.5h21.4v21.4h-21.4zM1356.7 443.5h21.4v21.4h-21.4zM1440.5 443.5h21.4v21.4h-21.4zM1252.0 464.5h21.4v21.4h-21.4zM1608.0 464.5h21.4v21.4h-21.4zM1670.9 464.5h21.4v21.4h-21.4zM1712.8 464.5h42.4v21.4h-42.4zM1377.6 485.4h21.4v21.4h-21.4zM1587.1 485.4h21.4v21.4h-21.4zM1670.9 485.4h21.4v21.4h-21.4zM686.4 506.3h42.4v21.4h-42.4zM1293.9 506.3h63.3v21.4h-63.3zM1440.5 506.3h21.4v21.4h-21.4zM1482.4 506.3h21.4v21.4h-21.4zM1587.1 506.3h21.4v21.4h-21.4zM1649.9 506.3h21.4v21.4h-21.4zM644.5 527.3h63.3v21.4h-63.3zM1042.5 527.3h21.4v21.4h-21.4zM1482.4 527.3h21.4v21.4h-21.4zM1524.3 527.3h21.4v21.4h-21.4zM330.3 548.2h21.4v21.4h-21.4zM644.5 548.2h63.3v21.4h-63.3zM728.3 548.2h21.4v21.4h-21.4zM1063.4 548.2h42.4v21.4h-42.4zM1775.6 548.2h21.4v21.4h-21.4zM372.2 569.2h42.4v21.4h-42.4zM665.5 569.2h21.4v21.4h-21.4zM749.3 569.2h21.4v21.4h-21.4zM1042.5 569.2h21.4v21.4h-21.4zM456.0 590.1h42.4v21.4h-42.4zM623.6 590.1h21.4v21.4h-21.4zM812.1 590.1h21.4v21.4h-21.4zM1398.6 590.1h42.4v21.4h-42.4zM1712.8 590.1h21.4v21.4h-21.4zM539.8 611.0h21.4v21.4h-21.4zM686.4 611.0h42.4v21.4h-42.4zM916.8 611.0h21.4v21.4h-21.4zM958.7 611.0h21.4v21.4h-21.4zM1084.4 611.0h21.4v21.4h-21.4zM1775.6 611.0h21.4v21.4h-21.4zM686.4 632.0h105.2v21.4h-105.2zM979.7 632.0h21.4v21.4h-21.4zM1105.3 632.0h21.4v21.4h-21.4zM1335.7 632.0h21.4v21.4h-21.4zM1629.0 632.0h21.4v21.4h-21.4zM1670.9 632.0h21.4v21.4h-21.4zM581.7 652.9h21.4v21.4h-21.4zM644.5 652.9h21.4v21.4h-21.4zM686.4 652.9h21.4v21.4h-21.4zM749.3 652.9h21.4v21.4h-21.4zM937.8 652.9h21.4v21.4h-21.4zM1000.6 652.9h21.4v21.4h-21.4zM1063.4 652.9h21.4v21.4h-21.4zM1314.8 652.9h21.4v21.4h-21.4zM1398.6 652.9h21.4v21.4h-21.4zM1440.5 652.9h21.4v21.4h-21.4zM1545.2 652.9h42.4v21.4h-42.4zM1629.0 652.9h21.4v21.4h-21.4zM267.5 673.8h63.3v21.4h-63.3zM351.3 673.8h21.4v21.4h-21.4zM477.0 673.8h21.4v21.4h-21.4zM581.7 673.8h21.4v21.4h-21.4zM937.8 673.8h21.4v21.4h-21.4zM1021.6 673.8h63.3v21.4h-63.3zM1210.1 673.8h21.4v21.4h-21.4zM1377.6 673.8h63.3v21.4h-63.3zM1461.4 673.8h21.4v21.4h-21.4zM1670.9 673.8h21.4v21.4h-21.4zM351.3 694.8h42.4v21.4h-42.4zM602.6 694.8h42.4v21.4h-42.4zM979.7 694.8h21.4v21.4h-21.4zM1210.1 694.8h42.4v21.4h-42.4zM1419.5 694.8h21.4v21.4h-21.4zM1482.4 694.8h21.4v21.4h-21.4zM1566.2 694.8h21.4v21.4h-21.4zM1733.7 694.8h63.3v21.4h-63.3zM372.2 715.7h21.4v21.4h-21.4zM539.8 715.7h21.4v21.4h-21.4zM665.5 715.7h84.3v21.4h-84.3zM791.2 715.7h42.4v21.4h-42.4zM958.7 715.7h21.4v21.4h-21.4zM1021.6 715.7h42.4v21.4h-42.4zM1084.4 715.7h21.4v21.4h-21.4zM1335.7 715.7h21.4v21.4h-21.4zM1482.4 715.7h42.4v21.4h-42.4zM1566.2 715.7h21.4v21.4h-21.4zM1712.8 715.7h21.4v21.4h-21.4zM1754.7 715.7h105.2v21.4h-105.2zM330.3 736.7h84.3v21.4h-84.3zM456.0 736.7h84.3v21.4h-84.3zM581.7 736.7h21.4v21.4h-21.4zM644.5 736.7h21.4v21.4h-21.4zM686.4 736.7h21.4v21.4h-21.4zM791.2 736.7h42.4v21.4h-42.4zM958.7 736.7h42.4v21.4h-42.4zM1147.2 736.7h21.4v21.4h-21.4zM1210.1 736.7h21.4v21.4h-21.4zM1356.7 736.7h42.4v21.4h-42.4zM1461.4 736.7h21.4v21.4h-21.4zM1503.3 736.7h21.4v21.4h-21.4zM1566.2 736.7h21.4v21.4h-21.4zM1649.9 736.7h21.4v21.4h-21.4zM1691.8 736.7h42.4v21.4h-42.4zM1775.6 736.7h21.4v21.4h-21.4zM393.2 757.6h21.4v21.4h-21.4zM435.1 757.6h63.3v21.4h-63.3zM581.7 757.6h21.4v21.4h-21.4zM665.5 757.6h21.4v21.4h-21.4zM833.0 757.6h42.4v21.4h-42.4zM916.8 757.6h21.4v21.4h-21.4zM958.7 757.6h84.3v21.4h-84.3zM1147.2 757.6h21.4v21.4h-21.4zM1712.8 757.6h147.1v21.4h-147.1zM393.2 778.5h21.4v21.4h-21.4zM435.1 778.5h63.3v21.4h-63.3zM581.7 778.5h21.4v21.4h-21.4zM665.5 778.5h21.4v21.4h-21.4zM833.0 778.5h42.4v21.4h-42.4zM916.8 778.5h21.4v21.4h-21.4zM958.7 778.5h84.3v21.4h-84.3zM1147.2 778.5h21.4v21.4h-21.4zM1712.8 778.5h147.1v21.4h-147.1zM393.2 799.5h21.4v21.4h-21.4zM435.1 799.5h63.3v21.4h-63.3zM581.7 799.5h21.4v21.4h-21.4zM665.5 799.5h21.4v21.4h-21.4zM833.0 799.5h42.4v21.4h-42.4zM916.8 799.5h21.4v21.4h-21.4zM958.7 799.5h84.3v21.4h-84.3zM1147.2 799.5h21.4v21.4h-21.4zM1712.8 799.5h147.1v21.4h-147.1zM393.2 820.4h21.4v21.4h-21.4zM435.1 820.4h63.3v21.4h-63.3zM581.7 820.4h21.4v21.4h-21.4zM665.5 820.4h21.4v21.4h-21.4zM833.0 820.4h42.4v21.4h-42.4zM916.8 820.4h21.4v21.4h-21.4zM958.7 820.4h84.3v21.4h-84.3zM1147.2 820.4h21.4v21.4h-21.4zM1712.8 820.4h147.1v21.4h-147.1zM393.2 841.4h21.4v63.3h-21.4zM435.1 841.4h63.3v63.3h-63.3zM581.7 841.4h21.4v63.3h-21.4zM665.5 841.4h21.4v63.3h-21.4zM833.0 841.4h42.4v63.3h-42.4zM916.8 841.4h21.4v63.3h-21.4zM958.7 841.4h84.3v63.3h-84.3zM1147.2 841.4h21.4v63.3h-21.4zM1712.8 841.4h147.1v63.3h-147.1z"/>
<path fill="rgb(255,255,255)" d="M267.5 66.6h1152.5v63.3h-1152.5zM1482.4 66.6h377.5v63.3h-377.5zM435.1 129.4h84.3v21.4h-84.3zM560.8 129.4h105.2v21.4h-105.2zM812.1 129.4h63.3v21.4h-63.3zM979.7 129.4h42.4v21.4h-42.4zM1147.2 129.4h230.9v21.4h-230.9zM1691.8 129.4h63.3v21.4h-63.3zM854.0 150.4h21.4v21.4h-21.4zM1272.9 150.4h21.4v21.4h-21.4zM1356.7 150.4h42.4v21.4h-42.4zM874.9 171.3h21.4v21.4h-21.4zM979.7 171.3h63.3v21.4h-63.3zM602.6 192.3h42.4v21.4h-42.4zM1000.6 192.3h42.4v21.4h-42.4zM267.5 213.2h105.2v21.4h-105.2zM812.1 213.2h21.4v21.4h-21.4zM895.9 213.2h42.4v21.4h-42.4zM1503.3 213.2h21.4v21.4h-21.4zM854.0 234.1h126.2v21.4h-126.2zM1733.7 234.1h63.3v21.4h-63.3zM351.3 255.1h21.4v21.4h-21.4zM497.9 255.1h21.4v21.4h-21.4zM833.0 255.1h63.3v21.4h-63.3zM937.8 255.1h21.4v21.4h-21.4zM1126.3 255.1h42.4v21.4h-42.4zM1670.9 255.1h189.0v21.4h-189.0zM267.5 276.0h84.3v21.4h-84.3zM372.2 276.0h21.4v21.4h-21.4zM497.9 276.0h21.4v21.4h-21.4zM874.9 276.0h21.4v21.4h-21.4zM1126.3 276.0h21.4v21.4h-21.4zM1691.8 276.0h63.3v21.4h-63.3zM1775.6 276.0h21.4v21.4h-21.4zM456.0 296.9h42.4v21.4h-42.4zM874.9 296.9h21.4v21.4h-21.4zM1649.9 317.9h63.3v21.4h-63.3zM1377.6 359.8h21.4v21.4h-21.4zM1440.5 359.8h21.4v21.4h-21.4zM1608.0 359.8h21.4v21.4h-21.4zM1712.8 359.8h21.4v21.4h-21.4zM1356.7 380.7h42.4v21.4h-42.4zM1440.5 380.7h42.4v21.4h-42.4zM1587.1 380.7h63.3v21.4h-63.3zM1670.9 380.7h42.4v21.4h-42.4zM1733.7 380.7h21.4v21.4h-21.4zM1335.7 401.6h21.4v21.4h-21.4zM1440.5 401.6h63.3v21.4h-63.3zM1608.0 401.6h105.2v21.4h-105.2zM456.0 422.6h21.4v21.4h-21.4zM1335.7 422.6h42.4v21.4h-42.4zM1482.4 422.6h21.4v21.4h-21.4zM1629.0 422.6h42.4v21.4h-42.4zM1105.3 443.5h21.4v21.4h-21.4zM1314.8 443.5h42.4v21.4h-42.4zM1272.9 464.5h84.3v21.4h-84.3zM1629.0 464.5h42.4v21.4h-42.4zM1252.0 485.4h126.2v21.4h-126.2zM1608.0 485.4h63.3v21.4h-63.3zM1461.4 506.3h21.4v21.4h-21.4zM1608.0 506.3h42.4v21.4h-42.4zM707.4 527.3h21.4v21.4h-21.4zM1063.4 527.3h42.4v21.4h-42.4zM1503.3 527.3h21.4v21.4h-21.4zM707.4 548.2h21.4v21.4h-21.4zM1042.5 548.2h21.4v21.4h-21.4zM665.5 611.0h21.4v21.4h-21.4zM812.1 611.0h105.2v21.4h-105.2zM1398.6 611.0h42.4v21.4h-42.4zM1545.2 611.0h21.4v21.4h-21.4zM1733.7 611.0h42.4v21.4h-42.4zM665.5 632.0h21.4v21.4h-21.4zM791.2 632.0h21.4v21.4h-21.4zM958.7 632.0h21.4v21.4h-21.4zM1063.4 632.0h42.4v21.4h-42.4zM1356.7 632.0h84.3v21.4h-84.3zM1545.2 632.0h21.4v21.4h-21.4zM1649.9 632.0h21.4v21.4h-21.4zM1733.7 632.0h42.4v21.4h-42.4zM665.5 652.9h21.4v21.4h-21.4zM958.7 652.9h42.4v21.4h-42.4zM1084.4 652.9h105.2v21.4h-105.2zM1335.7 652.9h63.3v21.4h-63.3zM1419.5 652.9h21.4v21.4h-21.4zM1649.9 652.9h21.4v21.4h-21.4zM1733.7 652.9h63.3v21.4h-63.3zM330.3 673.8h21.4v21.4h-21.4zM602.6 673.8h63.3v21.4h-63.3zM958.7 673.8h63.3v21.4h-63.3zM1084.4 673.8h126.2v21.4h-126.2zM1440.5 673.8h21.4v21.4h-21.4zM1566.2 673.8h21.4v21.4h-21.4zM1691.8 673.8h168.1v21.4h-168.1zM456.0 694.8h63.3v21.4h-63.3zM644.5 694.8h42.4v21.4h-42.4zM1000.6 694.8h210.0v21.4h-210.0zM1440.5 694.8h42.4v21.4h-42.4zM1587.1 694.8h21.4v21.4h-21.4zM435.1 715.7h105.2v21.4h-105.2zM560.8 715.7h21.4v21.4h-21.4zM833.0 715.7h42.4v21.4h-42.4zM916.8 715.7h42.4v21.4h-42.4zM1105.3 715.7h230.9v21.4h-230.9zM1356.7 715.7h126.2v21.4h-126.2zM1587.1 715.7h84.3v21.4h-84.3zM435.1 736.7h21.4v21.4h-21.4zM539.8 736.7h42.4v21.4h-42.4zM602.6 736.7h21.4v21.4h-21.4zM665.5 736.7h21.4v21.4h-21.4zM707.4 736.7h84.3v21.4h-84.3zM833.0 736.7h42.4v21.4h-42.4zM937.8 736.7h21.4v21.4h-21.4zM1063.4 736.7h84.3v21.4h-84.3zM1231.0 736.7h126.2v21.4h-126.2zM1398.6 736.7h63.3v21.4h-63.3zM1587.1 736.7h63.3v21.4h-63.3zM414.1 757.6h21.4v21.4h-21.4zM539.8 757.6h42.4v21.4h-42.4zM602.6 757.6h21.4v21.4h-21.4zM707.4 757.6h126.2v21.4h-126.2zM937.8 757.6h21.4v21.4h-21.4zM1042.5 757.6h105.2v21.4h-105.2zM414.1 778.5h21.4v21.4h-21.4zM539.8 778.5h42.4v21.4h-42.4zM602.6 778.5h21.4v21.4h-21.4zM707.4 778.5h126.2v21.4h-126.2zM937.8 778.5h21.4v21.4h-21.4zM1042.5 778.5h105.2v21.4h-105.2zM414.1 799.5h21.4v21.4h-21.4zM539.8 799.5h42.4v21.4h-42.4zM602.6 799.5h21.4v21.4h-21.4zM707.4 799.5h126.2v21.4h-126.2zM937.8 799.5h21.4v21.4h-21.4zM1042.5 799.5h105.2v21.4h-105.2zM414.1 820.4h21.4v21.4h-21.4zM539.8 820.4h42.4v21.4h-42.4zM602.6 820.4h21.4v21.4h-21.4zM707.4 820.4h126.2v21.4h-126.2zM937.8 820.4h21.4v21.4h-21.4zM1042.5 820.4h105.2v21.4h-105.2zM414.1 841.4h21.4v63.3h-21.4zM539.8 841.4h42.4v63.3h-42.4zM602.6 841.4h21.4v63.3h-21.4zM707.4 841.4h126.2v63.3h-126.2zM937.8 841.4h21.4v63.3h-21.4zM1042.5 841.4h105.2v63.3h-105.2z"/></g>
<path fill="#808080" d="M304.4 775.7L309.0 775.7L360.8 775.7L371.1 772.6L400.1 768.8L401.2 775.7L406.4 775.7L407.4 768.4L412.6 768.4L420.9 775.7L434.5 775.7L454.0 774.6L474.7 773.6L495.4 772.2L526.5 770.5L528.6 776.7L535.8 776.7L536.9 768.4L541.0 774.6L560.3 774.6L578.3 773.6L599.0 771.5L619.7 768.4L632.1 765.3L633.2 776.7L665.3 776.7L666.3 765.3L686.0 765.3L686.0 771.5L717.1 768.4L738.8 764.7L740.9 775.7L777.1 775.7L779.2 773.6L811.5 770.1L831.0 767.4L846.5 765.3L848.6 776.7L871.4 776.7L873.5 775.7L893.1 773.6L913.9 770.5L937.3 765.3L952.2 765.3L954.2 776.7L980.1 776.7L982.2 774.6L996.7 772.6L1017.4 770.5L1038.1 767.4L1063.0 764.3L1063.0 775.7L1104.4 773.6L1125.1 770.5L1145.9 767.4L1166.6 764.3L1167.6 776.7L1179.0 776.7L1180.0 774.6L1188.5 776.7L1208.0 774.6L1228.7 775.1L1249.4 771.5L1270.1 766.8L1272.2 775.7L1311.6 775.7L1314.3 770.5L1332.3 771.5L1350.9 770.5L1352.0 768.4L1379.9 768.4L1382.0 775.7L1394.4 774.6L1415.1 772.6L1440.0 771.5L1440.0 770.9L1446.2 769.3L1485.7 768.8L1487.8 775.5L1543.8 775.1L1545.9 772.0L1565.9 769.3L1591.6 768.8L1593.7 775.5L1668.5 775.1L1670.5 769.9L1691.9 772.0L1710.0 774.0L1728.7 776.1L1730.8 766.4L1772.3 764.7L1803.5 763.7L1804.5 775.1L1818.0 775.1L1822.5 775.1L1822.5 867.3L304.4 867.3z"/>
</g>
<g clip-path="url(#cw)" fill="none" stroke="#000" stroke-width="1.8" stroke-linejoin="round"><path d="M359.7 211.1L368.0 198.5L407.8 186.8L472.8 193.5L497.9 196.4L527.2 192.3L560.8 194.3L581.7 200.6L611.0 200.6L644.5 200.6L665.5 196.4L669.7 183.9L686.4 198.5L707.4 196.4L722.0 198.5L719.9 209.0L699.0 217.4L669.7 229.9L667.6 238.3L676.0 246.7L694.8 248.8L707.4 253.8L718.7 255.1L719.9 263.4L726.2 271.0L732.5 269.7L732.5 259.3L740.9 250.9L736.7 240.4L736.7 232.0L738.8 223.7L757.6 225.8L770.2 229.9L772.3 239.2L787.0 240.4L793.2 232.9L803.7 242.5L812.1 253.0L824.7 261.4L828.9 267.6L818.4 270.6L812.1 275.2L787.0 275.2L778.6 280.2L791.2 281.0L793.2 288.6L807.9 292.8L797.4 298.2L787.0 302.4L787.0 296.9L782.8 297.8L770.2 303.2L767.3 309.5L770.2 310.8L763.9 312.0L753.5 315.8L752.6 320.0L747.2 326.3L745.1 330.5L746.3 336.7L740.9 340.9L732.5 346.4L724.1 353.5L722.9 359.8L727.5 372.3L727.1 379.4L722.0 379.9L717.0 369.4L716.6 364.0L711.6 359.8L705.3 360.6L694.8 358.5L688.5 363.1L682.2 362.7L669.7 361.9L657.1 369.0L655.0 380.7L653.7 391.2L661.3 405.8L667.6 409.2L678.0 407.5L684.3 397.5L699.0 395.4L696.9 403.7L694.0 412.1L691.5 419.2L703.2 419.2L714.5 422.6L712.8 433.1L713.7 440.2L719.9 447.7L728.3 446.9L730.4 445.6L738.8 449.0L740.9 449.8L747.2 440.6L757.6 437.2L763.9 433.5L766.0 439.3L776.5 438.1L787.0 441.0L795.3 441.4L803.7 440.6L812.1 449.8L824.7 460.3L837.2 461.1L847.7 466.6L854.0 479.1L854.0 485.4L860.3 489.6L874.9 491.7L879.1 496.7L891.7 497.1L902.2 500.9L915.6 507.2L917.2 518.9L908.5 531.5L900.1 539.8L900.1 556.6L893.8 571.2L891.7 577.5L883.3 581.7L870.7 585.9L860.3 594.3L859.9 604.8L849.8 615.2L839.3 627.8L828.9 631.1L819.2 627.8L824.7 638.3L820.5 645.8L803.7 648.7L802.5 657.1L791.2 657.1L796.6 664.6L789.9 671.8L780.7 678.0L787.0 685.6L774.4 696.9L777.3 704.4L790.3 714.5L778.6 717.8L761.8 711.5L751.4 703.2L747.2 686.4L753.5 669.7L754.7 659.2L755.5 640.3L763.9 623.6L763.9 606.8L769.0 581.7L769.0 562.9L761.8 556.6L745.1 544.0L740.0 535.7L732.5 518.9L722.9 510.5L724.1 503.0L728.3 498.0L725.0 489.6L728.3 483.3L733.3 479.1L738.8 468.6L738.8 456.1L730.4 448.1L726.2 454.8L719.9 451.1L712.8 449.8L704.4 443.5L704.0 439.3L696.9 431.0L680.1 426.8L667.6 417.6L657.1 418.8L644.5 414.2L627.8 405.8L621.5 399.6L621.5 391.2L611.0 379.4L604.7 373.6L592.2 364.0L590.1 354.7L583.0 352.6L583.4 359.8L592.2 370.2L600.5 382.8L604.7 389.1L601.4 387.8L594.3 378.6L585.9 369.4L581.7 361.9L575.4 353.5L572.5 348.5L567.0 343.0L558.2 340.9L552.4 331.3L550.3 327.1L544.0 316.6L542.7 305.3L544.0 291.9L541.1 282.7L548.2 283.5L549.0 280.2L539.8 276.0L527.2 269.7L516.8 257.2L506.3 246.7L493.7 240.4L477.0 235.0L460.2 234.1L443.5 232.0L428.8 237.1L424.6 242.5L409.9 246.7L399.5 250.9L384.8 255.1L374.3 256.3L389.0 250.9L401.6 240.4L384.8 238.3L376.4 234.1L370.1 223.7L389.0 217.4L374.3 215.3z"/><path d="M757.6 157.9L778.6 150.4L803.7 142.0L874.9 136.6L929.4 135.7L979.7 142.0L1013.2 144.1L988.0 150.4L983.9 160.8L986.0 171.3L971.3 183.9L971.3 190.2L954.5 198.5L929.4 200.6L908.5 210.3L895.9 213.2L883.3 234.1L874.9 234.1L862.4 229.9L849.8 217.4L839.3 204.8L837.2 194.3L833.0 186.0L824.7 175.5L807.9 167.1L778.6 167.1L766.0 160.8z"/><path d="M1038.3 335.5L1055.1 338.0L1076.0 331.3L1105.3 329.2L1109.5 338.8L1105.3 343.0L1109.5 346.4L1126.3 349.7L1143.0 358.5L1147.2 350.1L1159.8 348.5L1168.2 353.1L1184.9 355.6L1193.3 353.5L1199.6 354.7L1207.1 354.3L1200.0 359.8L1203.8 368.1L1212.2 384.9L1218.4 397.5L1219.7 406.7L1226.8 420.5L1235.2 423.8L1244.4 433.1L1244.8 437.2L1252.0 441.4L1264.5 438.5L1277.9 435.6L1276.3 445.6L1268.7 460.3L1256.2 474.9L1243.6 485.4L1237.3 492.9L1228.9 504.2L1226.8 512.6L1228.9 523.1L1233.1 531.5L1233.9 548.2L1222.6 558.7L1210.1 569.2L1212.2 583.8L1200.9 593.4L1200.9 602.7L1193.3 611.0L1182.8 622.8L1172.4 627.8L1155.6 628.6L1147.2 631.1L1140.5 627.8L1139.7 619.4L1132.6 605.2L1126.3 594.3L1124.2 579.6L1115.8 560.8L1112.9 550.3L1120.8 531.5L1118.7 522.3L1114.6 510.5L1109.5 500.9L1101.2 489.6L1103.2 481.2L1104.1 472.8L1099.9 466.6L1088.6 467.4L1082.3 459.0L1069.7 459.4L1055.1 465.3L1044.6 463.6L1032.0 467.0L1025.7 464.5L1015.3 456.9L1007.7 449.0L1006.9 443.5L1000.6 439.3L993.1 433.1L990.1 423.8L994.3 418.4L995.2 405.8L992.2 397.5L996.4 386.1L1001.5 377.4L1009.0 369.4L1015.3 366.9L1022.8 359.8L1022.8 353.5L1027.8 345.9L1035.0 342.6z"/><path d="M1270.0 535.7L1274.6 550.3L1270.8 556.6L1262.4 589.3L1254.1 592.2L1246.9 583.8L1244.8 575.4L1249.9 567.1L1247.8 556.6L1257.4 551.1L1264.5 541.9z"/><path d="M1025.7 323.3L1026.2 330.5L1037.1 332.5L1040.4 334.6L1055.1 331.7L1063.4 323.3L1062.2 320.0L1076.9 309.5L1078.1 304.1L1088.6 305.3L1099.9 299.5L1107.4 305.3L1115.0 310.8L1129.2 317.9L1130.5 326.3L1134.7 322.1L1132.6 319.1L1140.9 317.1L1138.9 315.0L1130.5 310.4L1122.1 307.4L1115.0 300.3L1115.0 295.7L1120.8 294.0L1120.4 296.9L1126.3 299.0L1136.8 305.3L1145.1 310.8L1144.7 316.6L1151.4 325.0L1154.4 331.3L1159.8 332.5L1160.6 326.3L1164.0 326.3L1159.0 320.0L1161.9 316.6L1164.0 314.1L1172.4 314.5L1173.6 317.9L1176.6 324.2L1178.7 330.5L1182.8 331.7L1191.2 333.4L1199.6 334.6L1210.1 331.7L1215.1 334.6L1213.4 340.9L1210.1 351.4L1207.1 354.3L1210.1 361.9L1212.2 370.2L1219.3 380.7L1226.8 393.3L1228.9 401.6L1235.2 412.1L1242.3 422.6L1244.8 432.2L1252.0 431.8L1264.5 426.8L1281.3 416.3L1293.9 412.1L1305.2 405.8L1309.8 399.6L1314.0 391.2L1302.2 384.9L1299.3 375.7L1291.8 384.1L1279.6 384.9L1279.2 376.5L1273.7 374.4L1266.6 366.0L1264.5 359.8L1272.9 358.9L1277.1 368.1L1289.7 374.0L1300.1 372.3L1304.3 378.6L1321.1 379.9L1342.0 379.4L1346.2 384.9L1350.4 388.2L1356.7 397.5L1367.2 397.5L1368.4 405.8L1371.4 418.4L1376.8 431.0L1383.1 445.6L1388.1 451.9L1391.0 447.7L1395.2 442.3L1398.6 428.9L1399.4 420.5L1408.2 415.5L1419.5 403.7L1427.9 395.4L1436.3 393.3L1442.6 391.2L1448.0 391.2L1450.1 398.3L1458.5 410.0L1459.3 418.4L1471.9 415.5L1473.2 422.6L1476.1 435.1L1476.1 451.1L1483.6 460.3L1487.8 473.7L1497.0 480.0L1500.0 479.5L1496.6 466.6L1491.6 459.4L1484.5 454.0L1479.0 446.5L1482.4 429.3L1486.6 432.2L1494.1 436.4L1502.1 441.4L1503.3 449.0L1510.9 442.3L1520.1 436.0L1521.3 428.9L1518.8 420.5L1509.6 410.0L1506.2 402.9L1510.9 398.3L1516.7 395.4L1523.0 395.4L1525.5 400.0L1531.4 394.5L1541.0 392.0L1551.5 389.1L1559.9 382.0L1565.3 376.5L1572.4 366.0L1573.7 356.4L1569.5 352.6L1563.2 340.1L1567.4 333.8L1576.6 330.5L1570.3 327.5L1562.0 329.2L1556.9 324.2L1559.9 321.2L1571.6 314.1L1573.3 322.1L1584.2 317.9L1587.1 326.3L1593.4 330.5L1592.5 340.9L1601.8 338.8L1605.9 334.6L1605.1 328.4L1597.6 318.7L1606.8 311.6L1612.2 306.6L1620.6 306.2L1631.1 299.0L1641.6 288.6L1651.2 271.8L1655.4 262.6L1649.9 259.3L1639.5 259.3L1629.8 255.9L1643.6 246.7L1662.5 237.1L1687.6 236.2L1702.3 238.3L1714.9 236.2L1710.7 227.9L1723.2 227.0L1733.7 231.2L1748.4 223.7L1750.5 229.9L1733.7 242.5L1719.1 246.7L1715.7 255.1L1719.9 269.7L1727.4 263.4L1733.7 257.2L1742.1 255.1L1748.4 242.5L1758.9 234.1L1777.7 234.1L1788.2 227.9L1804.9 223.7L1814.6 224.5L1809.1 215.3L1821.7 211.1L1834.3 215.3L1846.8 216.1L1859.4 211.1L1860.6 208.2L1851.0 204.8L1838.4 203.6L1817.5 197.3L1800.7 193.1L1775.6 196.4L1767.2 193.1L1733.7 193.5L1700.2 188.1L1649.9 181.8L1608.0 188.1L1599.7 179.7L1541.0 176.8L1536.8 167.1L1503.3 160.0L1482.4 165.0L1427.9 171.3L1398.6 179.7L1398.6 183.9L1377.6 181.8L1369.3 186.0L1367.2 196.4L1371.4 206.1L1352.5 206.1L1365.1 198.5L1348.3 196.4L1343.3 188.1L1339.9 196.4L1314.8 198.5L1291.8 199.8L1285.5 202.7L1256.2 200.6L1247.8 206.9L1233.1 214.5L1220.5 218.2L1208.0 213.2L1201.7 206.1L1231.0 207.8L1235.2 202.7L1222.6 198.5L1201.7 194.3L1180.7 188.1L1155.6 191.0L1130.5 198.5L1117.9 209.0L1109.5 215.3L1099.1 221.6L1084.4 225.8L1084.4 236.2L1092.8 242.5L1099.1 241.7L1108.3 237.1L1110.8 240.4L1115.8 249.6L1117.9 253.4L1123.4 253.0L1130.5 249.6L1133.0 244.6L1142.2 236.2L1135.5 229.9L1138.9 221.6L1152.7 214.5L1156.4 209.8L1168.2 211.1L1169.4 214.0L1153.5 221.6L1153.5 229.9L1159.8 234.1L1172.4 232.5L1189.1 234.1L1180.7 236.2L1164.0 236.6L1161.9 242.5L1166.1 245.4L1155.6 244.2L1151.4 250.9L1147.2 257.2L1140.9 256.3L1122.9 259.3L1109.5 259.3L1104.5 255.9L1107.4 244.6L1097.8 246.7L1098.2 255.1L1099.9 260.1L1092.8 261.4L1083.1 263.4L1078.1 269.7L1070.2 272.7L1064.3 277.7L1058.0 277.7L1055.9 281.9L1043.8 282.7L1051.7 287.3L1058.4 292.8L1056.7 303.2L1048.8 303.2L1029.9 302.4L1024.9 305.3L1026.6 313.7L1023.7 322.9z"/><path d="M-482.4 323.3L-481.9 330.5L-471.0 332.5L-467.7 334.6L-453.0 331.7L-444.6 323.3L-445.9 320.0L-431.2 309.5L-430.0 304.1L-419.5 305.3L-408.2 299.5L-400.7 305.3L-393.1 310.8L-378.9 317.9L-377.6 326.3L-373.4 322.1L-375.5 319.1L-367.2 317.1L-369.2 315.0L-377.6 310.4L-386.0 307.4L-393.1 300.3L-393.1 295.7L-387.3 294.0L-387.7 296.9L-381.8 299.0L-371.3 305.3L-363.0 310.8L-363.4 316.6L-356.7 325.0L-353.7 331.3L-348.3 332.5L-347.5 326.3L-344.1 326.3L-349.1 320.0L-346.2 316.6L-344.1 314.1L-335.7 314.5L-334.5 317.9L-331.5 324.2L-329.4 330.5L-325.3 331.7L-316.9 333.4L-308.5 334.6L-298.0 331.7L-293.0 334.6L-294.7 340.9L-298.0 351.4L-301.0 354.3L-298.0 361.9L-295.9 370.2L-288.8 380.7L-281.3 393.3L-279.2 401.6L-272.9 412.1L-265.8 422.6L-263.3 432.2L-256.1 431.8L-243.6 426.8L-226.8 416.3L-214.2 412.1L-202.9 405.8L-198.3 399.6L-194.1 391.2L-205.9 384.9L-208.8 375.7L-216.3 384.1L-228.5 384.9L-228.9 376.5L-234.4 374.4L-241.5 366.0L-243.6 359.8L-235.2 358.9L-231.0 368.1L-218.4 374.0L-208.0 372.3L-203.8 378.6L-187.0 379.9L-166.1 379.4L-161.9 384.9L-157.7 388.2L-151.4 397.5L-140.9 397.5L-139.7 405.8L-136.7 418.4L-131.3 431.0L-125.0 445.6L-120.0 451.9L-117.1 447.7L-112.9 442.3L-109.5 428.9L-108.7 420.5L-99.9 415.5L-88.6 403.7L-80.2 395.4L-71.8 393.3L-65.5 391.2L-60.1 391.2L-58.0 398.3L-49.6 410.0L-48.8 418.4L-36.2 415.5L-34.9 422.6L-32.0 435.1L-32.0 451.1L-24.5 460.3L-20.3 473.7L-11.1 480.0L-8.1 479.5L-11.5 466.6L-16.5 459.4L-23.6 454.0L-29.1 446.5L-25.7 429.3L-21.5 432.2L-14.0 436.4L-6.0 441.4L-4.8 449.0L2.8 442.3L12.0 436.0L13.2 428.9L10.7 420.5L1.5 410.0L-1.9 402.9L2.8 398.3L8.6 395.4L14.9 395.4L17.4 400.0L23.3 394.5L32.9 392.0L43.4 389.1L51.8 382.0L57.2 376.5L64.3 366.0L65.6 356.4L61.4 352.6L55.1 340.1L59.3 333.8L68.5 330.5L62.2 327.5L53.9 329.2L48.8 324.2L51.8 321.2L63.5 314.1L65.2 322.1L76.1 317.9L79.0 326.3L85.3 330.5L84.4 340.9L93.7 338.8L97.8 334.6L97.0 328.4L89.5 318.7L98.7 311.6L104.1 306.6L112.5 306.2L123.0 299.0L133.5 288.6L143.1 271.8L147.3 262.6L141.8 259.3L131.4 259.3L121.7 255.9L135.5 246.7L154.4 237.1L179.5 236.2L194.2 238.3L206.8 236.2L202.6 227.9L215.1 227.0L225.6 231.2L240.3 223.7L242.4 229.9L225.6 242.5L211.0 246.7L207.6 255.1L211.8 269.7L219.3 263.4L225.6 257.2L234.0 255.1L240.3 242.5L250.8 234.1L269.6 234.1L280.1 227.9L296.8 223.7L306.5 224.5L301.0 215.3L313.6 211.1L326.2 215.3L338.7 216.1L351.3 211.1L352.5 208.2L342.9 204.8L330.3 203.6L309.4 197.3L292.6 193.1L267.5 196.4L259.1 193.1L225.6 193.5L192.1 188.1L141.8 181.8L99.9 188.1L91.6 179.7L32.9 176.8L28.7 167.1L-4.8 160.0L-25.7 165.0L-80.2 171.3L-109.5 179.7L-109.5 183.9L-130.5 181.8L-138.8 186.0L-140.9 196.4L-136.7 206.1L-155.6 206.1L-143.0 198.5L-159.8 196.4L-164.8 188.1L-168.2 196.4L-193.3 198.5L-216.3 199.8L-222.6 202.7L-251.9 200.6L-260.3 206.9L-275.0 214.5L-287.6 218.2L-300.1 213.2L-306.4 206.1L-277.1 207.8L-272.9 202.7L-285.5 198.5L-306.4 194.3L-327.4 188.1L-352.5 191.0L-377.6 198.5L-390.2 209.0L-398.6 215.3L-409.0 221.6L-423.7 225.8L-423.7 236.2L-415.3 242.5L-409.0 241.7L-399.8 237.1L-397.3 240.4L-392.3 249.6L-390.2 253.4L-384.7 253.0L-377.6 249.6L-375.1 244.6L-365.9 236.2L-372.6 229.9L-369.2 221.6L-355.4 214.5L-351.7 209.8L-339.9 211.1L-338.7 214.0L-354.6 221.6L-354.6 229.9L-348.3 234.1L-335.7 232.5L-319.0 234.1L-327.4 236.2L-344.1 236.6L-346.2 242.5L-342.0 245.4L-352.5 244.2L-356.7 250.9L-360.9 257.2L-367.2 256.3L-385.2 259.3L-398.6 259.3L-403.6 255.9L-400.7 244.6L-410.3 246.7L-409.9 255.1L-408.2 260.1L-415.3 261.4L-425.0 263.4L-430.0 269.7L-437.9 272.7L-443.8 277.7L-450.1 277.7L-452.2 281.9L-464.3 282.7L-456.4 287.3L-449.7 292.8L-451.4 303.2L-459.3 303.2L-478.2 302.4L-483.2 305.3L-481.5 313.7L-484.4 322.9z"/><path d="M1180.7 311.6L1184.9 312.9L1195.4 312.9L1210.1 309.5L1222.6 313.7L1237.3 311.6L1235.2 305.3L1226.8 301.1L1220.5 296.9L1224.7 288.6L1210.1 292.8L1216.4 296.1L1210.1 299.0L1203.8 299.0L1201.7 292.8L1193.3 290.7L1187.0 296.9L1182.8 303.2z"/><path d="M1268.7 328.4L1277.1 331.3L1289.7 330.5L1287.6 320.0L1285.5 315.8L1291.8 311.6L1283.4 309.5L1283.4 303.2L1277.1 299.0L1285.5 296.1L1285.5 289.8L1272.9 289.4L1262.4 294.9L1262.4 305.3L1270.8 315.8L1268.7 322.1z"/><path d="M1040.4 276.0L1068.9 270.6L1070.6 264.7L1064.7 263.4L1057.2 255.1L1055.1 250.9L1055.1 243.8L1046.7 243.8L1050.9 240.0L1042.5 240.0L1038.3 246.7L1040.4 253.0L1050.9 255.5L1050.9 261.8L1044.6 262.6L1045.9 267.6L1041.7 268.5L1050.9 270.1z"/><path d="M1038.3 266.8L1038.3 259.3L1034.1 253.8L1021.6 258.4L1021.6 268.5L1029.9 269.3z"/><path d="M962.9 211.1L971.3 207.3L996.4 206.9L1006.9 213.2L996.4 217.4L979.7 219.9L968.4 217.8z"/><path d="M1608.0 354.3L1614.3 353.5L1616.4 345.1L1629.0 345.1L1636.5 340.9L1644.9 340.1L1653.3 335.9L1654.1 326.3L1658.3 320.0L1655.4 312.0L1649.9 315.8L1647.8 324.2L1637.4 330.5L1633.2 334.6L1620.6 336.7L1612.2 341.8L1608.0 345.1z"/><path d="M1649.9 311.6L1656.2 305.3L1657.1 295.3L1672.1 301.1L1673.0 304.5L1663.8 309.5L1654.1 307.4z"/><path d="M1658.3 292.8L1664.6 280.2L1662.5 267.6L1661.2 258.0L1658.3 263.4L1658.3 276.0z"/><path d="M1539.8 577.5L1541.0 594.3L1545.2 611.0L1548.1 619.4L1545.2 629.0L1557.8 632.0L1566.2 627.8L1582.9 623.6L1591.3 620.7L1603.9 618.2L1612.2 617.3L1624.8 622.3L1631.9 631.1L1639.5 623.6L1641.6 634.1L1648.7 638.3L1652.0 644.5L1664.6 647.9L1670.9 645.4L1676.3 648.7L1683.4 644.5L1691.8 641.6L1692.7 634.1L1697.3 625.7L1703.1 617.3L1706.5 604.8L1704.4 592.2L1696.0 583.8L1689.7 577.5L1683.4 569.2L1676.3 565.0L1673.8 554.5L1671.7 547.4L1664.6 545.3L1660.4 530.6L1657.1 537.7L1656.2 548.2L1652.0 558.7L1645.7 557.8L1639.5 552.4L1631.9 548.2L1636.5 536.5L1629.0 535.7L1618.5 533.6L1612.2 536.9L1608.0 541.9L1605.9 548.2L1599.7 547.4L1591.3 544.0L1582.9 553.7L1575.8 556.6L1574.5 562.9L1564.1 569.2L1553.6 572.1L1543.9 576.3z"/><path d="M1669.6 655.8L1684.7 656.3L1683.4 665.5L1675.1 668.0L1671.7 662.1z"/><path d="M1786.9 629.5L1794.5 638.3L1800.7 642.4L1811.2 643.3L1804.9 650.8L1797.8 659.6L1795.3 658.4L1796.6 652.9L1791.5 649.6L1795.3 642.4z"/><path d="M1786.9 655.0L1793.6 660.0L1787.3 668.8L1777.7 678.0L1768.5 680.6L1760.9 677.2L1768.5 669.7L1779.8 663.4z"/><path d="M1612.2 488.8L1624.8 488.8L1629.0 499.2L1640.7 491.7L1654.1 496.3L1668.8 501.3L1675.1 508.4L1682.6 511.4L1679.3 514.7L1684.3 523.1L1693.9 528.5L1681.4 527.3L1675.1 518.9L1666.7 517.6L1662.5 523.9L1654.1 523.5L1645.7 518.9L1642.4 520.6L1641.6 508.4L1629.0 503.4L1620.6 502.2L1619.8 496.7z"/><path d="M1520.1 479.1L1529.7 474.9L1536.8 472.0L1547.3 463.2L1553.6 456.1L1562.0 463.6L1556.5 470.7L1557.8 481.2L1551.5 491.7L1549.4 500.9L1543.1 502.2L1531.4 499.2L1524.3 491.7L1520.1 485.4z"/><path d="M1462.7 461.9L1471.9 463.6L1483.6 473.7L1497.0 485.4L1501.2 493.8L1507.5 498.8L1506.7 509.7L1501.2 509.7L1490.7 501.3L1484.5 491.7L1476.9 479.1L1469.8 470.7z"/><path d="M1504.2 513.9L1510.4 510.5L1518.0 513.0L1527.6 512.2L1535.6 514.7L1543.1 518.1L1543.1 521.8L1528.4 520.2L1515.9 518.1L1505.4 514.7z"/><path d="M1564.1 508.4L1564.1 499.2L1562.0 489.6L1566.2 482.0L1578.7 481.2L1587.1 479.1L1582.9 483.7L1570.3 483.3L1567.4 489.2L1572.4 489.6L1580.0 489.2L1574.5 493.8L1577.9 502.2L1575.8 507.6L1570.3 504.2L1570.3 496.7L1567.4 498.0L1567.8 508.4z"/><path d="M1568.2 407.9L1575.4 407.9L1575.4 416.3L1572.9 424.7L1582.1 430.1L1582.9 432.6L1576.6 428.0L1570.3 428.0L1567.0 423.4L1566.2 417.6z"/><path d="M1574.5 456.1L1580.8 449.0L1589.2 444.4L1593.4 454.8L1589.2 461.5L1582.9 456.9z"/><path d="M1570.3 379.9L1574.5 380.7L1570.3 393.3L1566.6 389.1z"/><path d="M1398.6 444.4L1406.1 454.0L1402.8 459.4L1397.7 456.1z"/><path d="M707.4 394.1L719.9 388.2L732.5 391.2L749.3 398.7L752.6 400.8L738.8 402.1L736.7 398.7L724.1 393.3L711.6 393.3z"/><path d="M751.4 408.8L757.6 402.1L770.2 402.5L776.9 407.5L770.2 408.8L763.9 411.3z"/><path d="M1279.2 188.1L1285.5 179.7L1298.0 171.3L1319.0 165.9L1350.4 162.9L1339.9 169.2L1306.4 177.6L1304.3 188.1L1293.9 189.3z"/><path d="M1109.5 154.6L1126.3 150.4L1147.2 149.1L1176.6 149.5L1155.6 157.5L1138.9 164.2L1126.3 162.9z"/><path d="M728.3 176.8L745.1 180.5L778.6 190.2L803.7 204.8L805.8 209.0L791.2 221.6L776.5 223.7L753.5 215.3L736.7 213.2L757.6 204.8L753.5 198.5L732.5 192.3L707.4 192.3L690.6 186.0L707.4 177.6z"/><path d="M686.4 165.0L736.7 165.0L749.3 156.7L791.2 146.2L803.7 139.9L770.2 137.8L686.4 142.0L678.0 146.2L699.0 154.6z"/><path d="M573.3 196.4L623.6 198.5L640.3 194.3L623.6 181.8L594.3 180.9L569.1 181.8z"/><path d="M539.8 183.9L573.3 186.0L573.3 174.2L544.0 174.2z"/><path d="M815.0 286.1L831.0 289.0L841.4 288.6L842.7 282.3L831.0 276.0L831.0 269.3L822.6 273.9z"/><path d="M309.4 837.6L342.0 837.6L394.9 842.9L440.1 843.7L458.9 839.9L429.8 836.4L427.8 828.7L450.4 821.3L428.6 817.0L412.6 816.0L402.4 808.3L422.9 810.0L451.8 805.5L454.1 800.3L485.9 798.1L515.5 796.4L547.7 795.9L577.1 795.4L609.5 797.7L643.6 798.9L637.8 795.1L629.7 790.0L648.9 790.0L667.1 792.9L690.5 789.8L730.7 793.7L755.3 793.7L775.4 790.0L779.4 784.1L772.9 775.4L785.4 766.4L799.2 757.7L810.1 752.7L822.8 750.5L814.7 754.0L798.0 764.0L794.0 773.4L805.6 781.3L810.1 790.7L802.0 798.3L773.1 804.0L742.1 807.4L755.9 810.1L740.2 815.6L755.8 821.9L791.6 827.1L819.6 832.8L864.9 826.8L912.8 825.5L937.9 821.4L936.5 817.3L913.2 815.8L927.2 809.5L950.6 804.7L982.5 800.7L997.1 796.1L996.5 792.5L1012.1 787.9L1018.4 783.8L1036.4 782.4L1060.2 784.6L1096.1 778.2L1107.4 781.0L1129.1 778.2L1156.8 781.4L1184.9 778.1L1207.1 771.9L1223.0 776.0L1258.1 768.7L1284.3 761.7L1297.8 761.6L1311.1 767.5L1327.8 767.3L1350.1 769.9L1350.2 781.8L1351.6 786.8L1359.6 786.5L1370.3 779.5L1391.1 773.3L1411.5 767.9L1431.8 766.3L1434.8 763.0L1454.5 767.3L1486.5 762.4L1496.4 760.4L1513.9 765.2L1527.9 764.5L1541.9 760.9L1561.6 766.8L1569.4 767.6L1582.8 765.6L1607.3 763.9L1624.9 761.9L1628.7 758.8L1634.5 764.2L1670.6 766.0L1676.0 768.7L1704.5 774.9L1710.0 773.4L1731.8 777.9L1743.1 780.4L1769.1 782.6L1779.9 785.5L1778.1 792.2L1766.4 797.3L1752.8 802.2L1749.5 809.0L1762.3 814.4L1741.6 818.0L1732.4 825.9L1760.1 833.0L1788.1 838.2L1817.5 838.2"/></g>
<path d="M435.1 108.5V862.3M560.8 108.5V862.3M686.4 108.5V862.3M812.1 108.5V862.3M937.8 108.5V862.3M1063.4 108.5V862.3M1189.1 108.5V862.3M1314.8 108.5V862.3M1440.5 108.5V862.3M1566.2 108.5V862.3M1691.8 108.5V862.3M309.4 234.1H1817.5M309.4 359.8H1817.5M309.4 485.4H1817.5M309.4 611.0H1817.5M309.4 736.7H1817.5" stroke="#000" stroke-width="1.9" fill="none"/>
<rect x="309.4" y="108.5" width="1508.1" height="753.8" fill="none" stroke="#000" stroke-width="3"/>
<g clip-path="url(#cn)">
<g filter="url(#fn)"><path fill="rgb(0,0,0)" d="M17.6 1685.2h93.2v31.4h-93.2zM17.6 1716.1h93.2v31.4h-93.2zM882.8 2025.1h31.4v31.4h-31.4zM790.1 2086.9h62.3v31.4h-62.3zM759.2 2117.8h62.3v31.4h-62.3zM759.2 2148.7h62.3v31.4h-62.3zM975.5 2148.7h93.2v31.4h-93.2zM944.6 2179.6h124.1v31.4h-124.1zM481.1 2210.5h31.4v93.2h-31.4zM882.8 2210.5h62.3v93.2h-62.3z"/>
<path fill="rgb(14,14,14)" d="M913.7 1499.8h31.4v31.4h-31.4zM17.6 1530.7h93.2v31.4h-93.2zM141.2 1530.7h31.4v31.4h-31.4zM913.7 1530.7h62.3v31.4h-62.3zM172.1 1592.5h31.4v31.4h-31.4zM604.7 1592.5h62.3v31.4h-62.3zM851.9 1592.5h62.3v31.4h-62.3zM419.3 1623.4h31.4v31.4h-31.4zM635.6 1623.4h62.3v31.4h-62.3zM17.6 1654.3h93.2v31.4h-93.2zM141.2 1654.3h31.4v31.4h-31.4zM944.6 1654.3h31.4v31.4h-31.4zM110.3 1685.2h62.3v31.4h-62.3zM975.5 1685.2h93.2v31.4h-93.2zM110.3 1716.1h31.4v31.4h-31.4zM882.8 1716.1h62.3v31.4h-62.3zM975.5 1716.1h93.2v31.4h-93.2zM110.3 1747.0h31.4v31.4h-31.4zM172.1 1747.0h31.4v31.4h-31.4zM759.2 1747.0h31.4v31.4h-31.4zM882.8 1747.0h31.4v31.4h-31.4zM110.3 1777.9h31.4v31.4h-31.4zM110.3 1808.8h62.3v31.4h-62.3zM203.0 1808.8h31.4v31.4h-31.4zM110.3 1839.7h62.3v31.4h-62.3zM728.3 1870.6h31.4v31.4h-31.4zM728.3 1901.5h31.4v31.4h-31.4zM172.1 1932.4h31.4v31.4h-31.4zM172.1 1963.3h31.4v31.4h-31.4zM666.5 1963.3h62.3v31.4h-62.3zM882.8 1963.3h62.3v31.4h-62.3zM728.3 1994.2h31.4v31.4h-31.4zM790.1 1994.2h31.4v31.4h-31.4zM759.2 2025.1h31.4v31.4h-31.4zM851.9 2025.1h31.4v31.4h-31.4zM913.7 2025.1h31.4v31.4h-31.4zM882.8 2056.0h31.4v31.4h-31.4zM172.1 2086.9h31.4v31.4h-31.4zM295.7 2117.8h31.4v31.4h-31.4zM728.3 2117.8h31.4v31.4h-31.4zM821.0 2117.8h31.4v31.4h-31.4zM975.5 2117.8h93.2v31.4h-93.2zM728.3 2179.6h31.4v31.4h-31.4zM882.8 2179.6h62.3v31.4h-62.3zM450.2 2210.5h31.4v93.2h-31.4zM512.0 2210.5h31.4v93.2h-31.4zM573.8 2210.5h124.1v93.2h-124.1zM851.9 2210.5h31.4v93.2h-31.4zM944.6 2210.5h124.1v93.2h-124.1z"/>
<path fill="rgb(28,28,28)" d="M882.8 2148.7h31.4v31.4h-31.4zM944.6 2148.7h31.4v31.4h-31.4zM790.1 2179.6h31.4v31.4h-31.4zM851.9 2179.6h31.4v31.4h-31.4zM759.2 2210.5h62.3v93.2h-62.3z"/>
<path fill="rgb(42,42,42)" d="M110.3 1530.7h31.4v31.4h-31.4zM172.1 1530.7h31.4v31.4h-31.4zM17.6 1561.6h93.2v31.4h-93.2zM172.1 1561.6h31.4v31.4h-31.4zM604.7 1561.6h62.3v31.4h-62.3zM851.9 1561.6h31.4v31.4h-31.4zM419.3 1592.5h31.4v31.4h-31.4zM666.5 1592.5h31.4v31.4h-31.4zM141.2 1623.4h31.4v31.4h-31.4zM388.4 1623.4h31.4v31.4h-31.4zM851.9 1623.4h31.4v31.4h-31.4zM944.6 1623.4h31.4v31.4h-31.4zM666.5 1654.3h31.4v31.4h-31.4zM882.8 1685.2h31.4v31.4h-31.4zM141.2 1716.1h62.3v31.4h-62.3zM17.6 1747.0h93.2v31.4h-93.2zM851.9 1747.0h31.4v31.4h-31.4zM203.0 1777.9h31.4v31.4h-31.4zM790.1 1777.9h31.4v31.4h-31.4zM913.7 1777.9h31.4v31.4h-31.4zM172.1 1808.8h31.4v31.4h-31.4zM295.7 1808.8h62.3v31.4h-62.3zM172.1 1839.7h31.4v31.4h-31.4zM295.7 1839.7h62.3v31.4h-62.3zM759.2 1901.5h31.4v31.4h-31.4zM975.5 1901.5h93.2v31.4h-93.2zM728.3 1932.4h31.4v31.4h-31.4zM944.6 1932.4h124.1v31.4h-124.1zM110.3 1994.2h62.3v31.4h-62.3zM821.0 2056.0h62.3v31.4h-62.3zM759.2 2086.9h31.4v31.4h-31.4zM851.9 2086.9h31.4v31.4h-31.4zM975.5 2086.9h93.2v31.4h-93.2zM264.8 2117.8h31.4v31.4h-31.4zM728.3 2148.7h31.4v31.4h-31.4zM913.7 2148.7h31.4v31.4h-31.4zM759.2 2179.6h31.4v31.4h-31.4zM821.0 2179.6h31.4v31.4h-31.4zM728.3 2210.5h31.4v93.2h-31.4zM821.0 2210.5h31.4v93.2h-31.4z"/>
<path fill="rgb(57,57,57)" d="M913.7 1468.9h31.4v31.4h-31.4zM975.5 1994.2h93.2v31.4h-93.2zM975.5 2025.1h93.2v31.4h-93.2zM913.7 2056.0h31.4v31.4h-31.4zM944.6 2117.8h31.4v31.4h-31.4zM851.9 2148.7h31.4v31.4h-31.4zM264.8 2179.6h31.4v31.4h-31.4zM697.4 2210.5h31.4v93.2h-31.4z"/>
<path fill="rgb(71,71,71)" d="M450.2 1252.6h31.4v93.2h-31.4zM882.8 1438.0h31.4v31.4h-31.4zM882.8 1468.9h31.4v31.4h-31.4zM141.2 1499.8h31.4v31.4h-31.4zM944.6 1499.8h31.4v31.4h-31.4zM882.8 1530.7h31.4v31.4h-31.4zM110.3 1561.6h62.3v31.4h-62.3zM388.4 1561.6h31.4v31.4h-31.4zM573.8 1561.6h31.4v31.4h-31.4zM666.5 1561.6h31.4v31.4h-31.4zM821.0 1561.6h31.4v31.4h-31.4zM882.8 1561.6h31.4v31.4h-31.4zM110.3 1592.5h62.3v31.4h-62.3zM388.4 1592.5h31.4v31.4h-31.4zM821.0 1592.5h31.4v31.4h-31.4zM913.7 1592.5h31.4v31.4h-31.4zM17.6 1623.4h93.2v31.4h-93.2zM172.1 1623.4h31.4v31.4h-31.4zM604.7 1623.4h31.4v31.4h-31.4zM697.4 1623.4h31.4v31.4h-31.4zM821.0 1623.4h31.4v31.4h-31.4zM882.8 1623.4h31.4v31.4h-31.4zM172.1 1654.3h31.4v31.4h-31.4zM697.4 1654.3h31.4v31.4h-31.4zM851.9 1654.3h62.3v31.4h-62.3zM172.1 1685.2h31.4v31.4h-31.4zM666.5 1685.2h31.4v31.4h-31.4zM851.9 1685.2h31.4v31.4h-31.4zM913.7 1685.2h62.3v31.4h-62.3zM697.4 1716.1h31.4v31.4h-31.4zM728.3 1747.0h31.4v31.4h-31.4zM913.7 1747.0h31.4v31.4h-31.4zM975.5 1747.0h93.2v31.4h-93.2zM141.2 1777.9h31.4v31.4h-31.4zM759.2 1777.9h31.4v31.4h-31.4zM821.0 1777.9h31.4v31.4h-31.4zM882.8 1777.9h31.4v31.4h-31.4zM357.5 1808.8h31.4v31.4h-31.4zM975.5 1808.8h93.2v31.4h-93.2zM203.0 1839.7h31.4v31.4h-31.4zM357.5 1839.7h31.4v31.4h-31.4zM697.4 1839.7h31.4v31.4h-31.4zM388.4 1870.6h31.4v31.4h-31.4zM697.4 1870.6h31.4v31.4h-31.4zM172.1 1901.5h31.4v31.4h-31.4zM697.4 1901.5h31.4v31.4h-31.4zM203.0 1932.4h31.4v31.4h-31.4zM635.6 1932.4h93.2v31.4h-93.2zM882.8 1932.4h62.3v31.4h-62.3zM419.3 1963.3h31.4v31.4h-31.4zM635.6 1963.3h31.4v31.4h-31.4zM759.2 1963.3h31.4v31.4h-31.4zM944.6 1963.3h31.4v31.4h-31.4zM172.1 1994.2h31.4v31.4h-31.4zM697.4 1994.2h31.4v31.4h-31.4zM759.2 1994.2h31.4v31.4h-31.4zM604.7 2025.1h31.4v31.4h-31.4zM790.1 2056.0h31.4v31.4h-31.4zM944.6 2056.0h124.1v31.4h-124.1zM326.6 2086.9h31.4v31.4h-31.4zM913.7 2086.9h62.3v31.4h-62.3zM233.9 2117.8h31.4v31.4h-31.4zM326.6 2117.8h31.4v31.4h-31.4zM697.4 2117.8h31.4v31.4h-31.4zM295.7 2148.7h31.4v31.4h-31.4zM821.0 2148.7h31.4v31.4h-31.4zM233.9 2179.6h31.4v31.4h-31.4zM481.1 2179.6h31.4v31.4h-31.4zM697.4 2179.6h31.4v31.4h-31.4z"/>
<path fill="rgb(85,85,85)" d="M882.8 2117.8h62.3v31.4h-62.3zM17.6 2148.7h93.2v31.4h-93.2zM17.6 2179.6h93.2v31.4h-93.2zM203.0 2179.6h31.4v31.4h-31.4zM233.9 2210.5h31.4v93.2h-31.4z"/>
<path fill="rgb(99,99,99)" d="M913.7 1438.0h31.4v31.4h-31.4zM110.3 2025.1h31.4v31.4h-31.4zM944.6 2025.1h31.4v31.4h-31.4zM882.8 2086.9h31.4v31.4h-31.4zM17.6 2117.8h93.2v31.4h-93.2zM851.9 2117.8h31.4v31.4h-31.4zM110.3 2148.7h31.4v31.4h-31.4zM233.9 2148.7h31.4v31.4h-31.4zM110.3 2179.6h31.4v31.4h-31.4zM17.6 2210.5h93.2v93.2h-93.2zM203.0 2210.5h31.4v93.2h-31.4zM264.8 2210.5h31.4v93.2h-31.4z"/>
<path fill="rgb(113,113,113)" d="M388.4 1252.6h62.3v93.2h-62.3zM172.1 1438.0h62.3v31.4h-62.3zM203.0 1468.9h31.4v31.4h-31.4zM944.6 1468.9h31.4v31.4h-31.4zM17.6 1499.8h93.2v31.4h-93.2zM172.1 1499.8h31.4v31.4h-31.4zM419.3 1499.8h31.4v31.4h-31.4zM759.2 1499.8h31.4v31.4h-31.4zM882.8 1499.8h31.4v31.4h-31.4zM203.0 1530.7h31.4v31.4h-31.4zM604.7 1530.7h31.4v31.4h-31.4zM203.0 1561.6h31.4v31.4h-31.4zM542.9 1561.6h31.4v31.4h-31.4zM17.6 1592.5h93.2v31.4h-93.2zM203.0 1592.5h31.4v31.4h-31.4zM295.7 1592.5h31.4v31.4h-31.4zM357.5 1592.5h31.4v31.4h-31.4zM573.8 1592.5h31.4v31.4h-31.4zM790.1 1592.5h31.4v31.4h-31.4zM110.3 1623.4h31.4v31.4h-31.4zM357.5 1623.4h31.4v31.4h-31.4zM110.3 1654.3h31.4v31.4h-31.4zM388.4 1654.3h31.4v31.4h-31.4zM635.6 1654.3h31.4v31.4h-31.4zM233.9 1685.2h31.4v31.4h-31.4zM388.4 1685.2h31.4v31.4h-31.4zM697.4 1685.2h31.4v31.4h-31.4zM233.9 1716.1h31.4v31.4h-31.4zM666.5 1716.1h31.4v31.4h-31.4zM728.3 1716.1h31.4v31.4h-31.4zM851.9 1716.1h31.4v31.4h-31.4zM141.2 1747.0h31.4v31.4h-31.4zM233.9 1747.0h31.4v31.4h-31.4zM357.5 1747.0h31.4v31.4h-31.4zM419.3 1747.0h31.4v31.4h-31.4zM666.5 1747.0h62.3v31.4h-62.3zM790.1 1747.0h31.4v31.4h-31.4zM233.9 1777.9h31.4v31.4h-31.4zM357.5 1777.9h31.4v31.4h-31.4zM450.2 1777.9h31.4v31.4h-31.4zM975.5 1777.9h93.2v31.4h-93.2zM233.9 1808.8h31.4v31.4h-31.4zM790.1 1808.8h31.4v31.4h-31.4zM851.9 1808.8h31.4v31.4h-31.4zM913.7 1808.8h31.4v31.4h-31.4zM728.3 1839.7h31.4v31.4h-31.4zM944.6 1839.7h31.4v31.4h-31.4zM17.6 1901.5h93.2v31.4h-93.2zM203.0 1901.5h31.4v31.4h-31.4zM944.6 1901.5h31.4v31.4h-31.4zM759.2 1932.4h31.4v31.4h-31.4zM203.0 1963.3h31.4v31.4h-31.4zM975.5 1963.3h93.2v31.4h-93.2zM635.6 1994.2h62.3v31.4h-62.3zM821.0 1994.2h31.4v31.4h-31.4zM944.6 1994.2h31.4v31.4h-31.4zM635.6 2025.1h31.4v31.4h-31.4zM728.3 2025.1h31.4v31.4h-31.4zM141.2 2056.0h62.3v31.4h-62.3zM604.7 2056.0h31.4v31.4h-31.4zM17.6 2086.9h93.2v31.4h-93.2zM141.2 2086.9h31.4v31.4h-31.4zM203.0 2086.9h31.4v31.4h-31.4zM357.5 2086.9h31.4v31.4h-31.4zM264.8 2148.7h31.4v31.4h-31.4zM635.6 2179.6h62.3v31.4h-62.3zM110.3 2210.5h31.4v93.2h-31.4z"/>
<path fill="rgb(128,128,128)" d="M326.6 1252.6h31.4v93.2h-31.4zM110.3 1345.3h31.4v31.4h-31.4zM110.3 1376.2h31.4v31.4h-31.4zM882.8 1407.1h62.3v31.4h-62.3zM110.3 1499.8h31.4v31.4h-31.4zM110.3 2056.0h31.4v31.4h-31.4zM110.3 2117.8h31.4v31.4h-31.4zM141.2 2179.6h62.3v31.4h-62.3zM141.2 2210.5h62.3v93.2h-62.3z"/>
<path fill="rgb(142,142,142)" d="M141.2 1252.6h31.4v93.2h-31.4zM357.5 1252.6h31.4v93.2h-31.4zM481.1 1252.6h31.4v93.2h-31.4zM573.8 1252.6h62.3v93.2h-62.3zM17.6 1345.3h93.2v31.4h-93.2zM141.2 1345.3h31.4v31.4h-31.4zM388.4 1345.3h31.4v31.4h-31.4zM17.6 1376.2h93.2v31.4h-93.2zM264.8 1376.2h31.4v31.4h-31.4zM203.0 1407.1h62.3v31.4h-62.3zM233.9 1438.0h31.4v31.4h-31.4zM388.4 1438.0h31.4v31.4h-31.4zM759.2 1438.0h31.4v31.4h-31.4zM172.1 1468.9h31.4v31.4h-31.4zM388.4 1468.9h62.3v31.4h-62.3zM481.1 1468.9h31.4v31.4h-31.4zM851.9 1468.9h31.4v31.4h-31.4zM203.0 1499.8h31.4v31.4h-31.4zM295.7 1499.8h31.4v31.4h-31.4zM790.1 1499.8h31.4v31.4h-31.4zM388.4 1530.7h62.3v31.4h-62.3zM635.6 1530.7h31.4v31.4h-31.4zM790.1 1530.7h31.4v31.4h-31.4zM975.5 1530.7h93.2v31.4h-93.2zM233.9 1561.6h31.4v31.4h-31.4zM419.3 1561.6h31.4v31.4h-31.4zM512.0 1561.6h31.4v31.4h-31.4zM790.1 1561.6h31.4v31.4h-31.4zM975.5 1561.6h93.2v31.4h-93.2zM264.8 1592.5h31.4v31.4h-31.4zM326.6 1592.5h31.4v31.4h-31.4zM450.2 1592.5h31.4v31.4h-31.4zM697.4 1592.5h31.4v31.4h-31.4zM203.0 1623.4h31.4v31.4h-31.4zM326.6 1623.4h31.4v31.4h-31.4zM450.2 1623.4h31.4v31.4h-31.4zM913.7 1623.4h31.4v31.4h-31.4zM975.5 1623.4h93.2v31.4h-93.2zM295.7 1654.3h31.4v31.4h-31.4zM604.7 1654.3h31.4v31.4h-31.4zM913.7 1654.3h31.4v31.4h-31.4zM975.5 1654.3h93.2v31.4h-93.2zM264.8 1685.2h31.4v31.4h-31.4zM419.3 1685.2h31.4v31.4h-31.4zM635.6 1685.2h31.4v31.4h-31.4zM203.0 1716.1h31.4v31.4h-31.4zM357.5 1716.1h31.4v31.4h-31.4zM419.3 1716.1h31.4v31.4h-31.4zM944.6 1716.1h31.4v31.4h-31.4zM203.0 1747.0h31.4v31.4h-31.4zM388.4 1747.0h31.4v31.4h-31.4zM944.6 1747.0h31.4v31.4h-31.4zM17.6 1777.9h93.2v31.4h-93.2zM388.4 1777.9h62.3v31.4h-62.3zM851.9 1777.9h31.4v31.4h-31.4zM944.6 1777.9h31.4v31.4h-31.4zM264.8 1808.8h31.4v31.4h-31.4zM697.4 1808.8h31.4v31.4h-31.4zM821.0 1808.8h31.4v31.4h-31.4zM233.9 1839.7h31.4v31.4h-31.4zM821.0 1839.7h62.3v31.4h-62.3zM110.3 1870.6h31.4v31.4h-31.4zM759.2 1870.6h31.4v31.4h-31.4zM913.7 1870.6h31.4v31.4h-31.4zM975.5 1870.6h93.2v31.4h-93.2zM357.5 1901.5h31.4v31.4h-31.4zM666.5 1901.5h31.4v31.4h-31.4zM419.3 1932.4h31.4v31.4h-31.4zM141.2 1963.3h31.4v31.4h-31.4zM233.9 1963.3h31.4v31.4h-31.4zM450.2 1963.3h31.4v31.4h-31.4zM728.3 1963.3h31.4v31.4h-31.4zM790.1 1963.3h31.4v31.4h-31.4zM851.9 1963.3h31.4v31.4h-31.4zM203.0 1994.2h31.4v31.4h-31.4zM882.8 1994.2h62.3v31.4h-62.3zM141.2 2025.1h62.3v31.4h-62.3zM326.6 2025.1h31.4v31.4h-31.4zM542.9 2025.1h31.4v31.4h-31.4zM666.5 2025.1h62.3v31.4h-62.3zM790.1 2025.1h31.4v31.4h-31.4zM17.6 2056.0h93.2v31.4h-93.2zM203.0 2056.0h31.4v31.4h-31.4zM542.9 2056.0h31.4v31.4h-31.4zM635.6 2056.0h31.4v31.4h-31.4zM759.2 2056.0h31.4v31.4h-31.4zM110.3 2086.9h31.4v31.4h-31.4zM728.3 2086.9h31.4v31.4h-31.4zM141.2 2117.8h31.4v31.4h-31.4zM419.3 2117.8h31.4v31.4h-31.4zM141.2 2148.7h31.4v31.4h-31.4zM326.6 2148.7h31.4v31.4h-31.4zM697.4 2148.7h31.4v31.4h-31.4zM512.0 2179.6h31.4v31.4h-31.4zM604.7 2179.6h31.4v31.4h-31.4zM295.7 2210.5h31.4v93.2h-31.4zM419.3 2210.5h31.4v93.2h-31.4zM542.9 2210.5h31.4v93.2h-31.4z"/>
<path fill="rgb(156,156,156)" d="M110.3 1252.6h31.4v93.2h-31.4zM172.1 1252.6h31.4v93.2h-31.4zM295.7 1252.6h31.4v93.2h-31.4zM172.1 1345.3h31.4v31.4h-31.4zM141.2 1376.2h62.3v31.4h-62.3zM975.5 1499.8h93.2v31.4h-93.2zM17.6 2025.1h93.2v31.4h-93.2zM172.1 2117.8h31.4v31.4h-31.4zM203.0 2148.7h31.4v31.4h-31.4z"/>
<path fill="rgb(170,170,170)" d="M17.6 1252.6h93.2v93.2h-93.2zM203.0 1252.6h93.2v93.2h-93.2zM512.0 1252.6h31.4v93.2h-31.4zM203.0 1345.3h31.4v31.4h-31.4zM295.7 1345.3h93.2v31.4h-93.2zM450.2 1345.3h31.4v31.4h-31.4zM573.8 1345.3h62.3v31.4h-62.3zM295.7 1376.2h31.4v31.4h-31.4zM882.8 1376.2h31.4v31.4h-31.4zM17.6 1407.1h185.9v31.4h-185.9zM264.8 1407.1h31.4v31.4h-31.4zM357.5 1438.0h31.4v31.4h-31.4zM728.3 1438.0h31.4v31.4h-31.4zM851.9 1438.0h31.4v31.4h-31.4zM944.6 1438.0h31.4v31.4h-31.4zM233.9 1468.9h31.4v31.4h-31.4zM759.2 1468.9h31.4v31.4h-31.4zM233.9 1499.8h31.4v31.4h-31.4zM388.4 1499.8h31.4v31.4h-31.4zM821.0 1499.8h31.4v31.4h-31.4zM233.9 1530.7h31.4v31.4h-31.4zM573.8 1530.7h31.4v31.4h-31.4zM666.5 1530.7h31.4v31.4h-31.4zM759.2 1530.7h31.4v31.4h-31.4zM821.0 1530.7h31.4v31.4h-31.4zM264.8 1561.6h124.1v31.4h-124.1zM450.2 1561.6h31.4v31.4h-31.4zM913.7 1561.6h31.4v31.4h-31.4zM233.9 1592.5h31.4v31.4h-31.4zM542.9 1592.5h31.4v31.4h-31.4zM944.6 1592.5h31.4v31.4h-31.4zM295.7 1623.4h31.4v31.4h-31.4zM573.8 1623.4h31.4v31.4h-31.4zM728.3 1623.4h31.4v31.4h-31.4zM790.1 1623.4h31.4v31.4h-31.4zM203.0 1654.3h93.2v31.4h-93.2zM326.6 1654.3h62.3v31.4h-62.3zM728.3 1654.3h31.4v31.4h-31.4zM821.0 1654.3h31.4v31.4h-31.4zM203.0 1685.2h31.4v31.4h-31.4zM295.7 1685.2h31.4v31.4h-31.4zM357.5 1685.2h31.4v31.4h-31.4zM264.8 1716.1h31.4v31.4h-31.4zM388.4 1716.1h31.4v31.4h-31.4zM821.0 1716.1h31.4v31.4h-31.4zM821.0 1747.0h31.4v31.4h-31.4zM264.8 1777.9h31.4v31.4h-31.4zM326.6 1777.9h31.4v31.4h-31.4zM697.4 1777.9h31.4v31.4h-31.4zM481.1 1808.8h31.4v31.4h-31.4zM666.5 1808.8h31.4v31.4h-31.4zM882.8 1808.8h31.4v31.4h-31.4zM944.6 1808.8h31.4v31.4h-31.4zM17.6 1839.7h93.2v31.4h-93.2zM264.8 1839.7h31.4v31.4h-31.4zM419.3 1839.7h31.4v31.4h-31.4zM481.1 1839.7h31.4v31.4h-31.4zM604.7 1839.7h31.4v31.4h-31.4zM913.7 1839.7h31.4v31.4h-31.4zM141.2 1870.6h62.3v31.4h-62.3zM264.8 1870.6h31.4v31.4h-31.4zM419.3 1870.6h31.4v31.4h-31.4zM481.1 1870.6h31.4v31.4h-31.4zM666.5 1870.6h31.4v31.4h-31.4zM790.1 1870.6h62.3v31.4h-62.3zM388.4 1901.5h62.3v31.4h-62.3zM635.6 1901.5h31.4v31.4h-31.4zM851.9 1901.5h31.4v31.4h-31.4zM913.7 1901.5h31.4v31.4h-31.4zM141.2 1932.4h31.4v31.4h-31.4zM851.9 1932.4h31.4v31.4h-31.4zM481.1 1963.3h31.4v31.4h-31.4zM604.7 1963.3h31.4v31.4h-31.4zM542.9 1994.2h31.4v31.4h-31.4zM604.7 1994.2h31.4v31.4h-31.4zM203.0 2025.1h31.4v31.4h-31.4zM295.7 2056.0h31.4v31.4h-31.4zM573.8 2056.0h31.4v31.4h-31.4zM295.7 2086.9h31.4v31.4h-31.4zM357.5 2117.8h31.4v31.4h-31.4zM450.2 2117.8h31.4v31.4h-31.4zM635.6 2148.7h31.4v31.4h-31.4zM295.7 2179.6h62.3v31.4h-62.3zM326.6 2210.5h31.4v93.2h-31.4z"/>
<path fill="rgb(184,184,184)" d="M821.0 1252.6h31.4v93.2h-31.4zM203.0 1376.2h31.4v31.4h-31.4zM913.7 1376.2h31.4v31.4h-31.4zM944.6 1407.1h31.4v31.4h-31.4zM141.2 1438.0h31.4v31.4h-31.4zM110.3 1468.9h62.3v31.4h-62.3zM975.5 1468.9h93.2v31.4h-93.2zM172.1 2148.7h31.4v31.4h-31.4z"/>
<path fill="rgb(198,198,198)" d="M790.1 1252.6h31.4v93.2h-31.4zM851.9 1252.6h31.4v93.2h-31.4zM233.9 1345.3h62.3v31.4h-62.3zM882.8 1345.3h31.4v31.4h-31.4zM851.9 1376.2h31.4v31.4h-31.4zM17.6 1438.0h124.1v31.4h-124.1zM975.5 1438.0h93.2v31.4h-93.2zM17.6 1994.2h93.2v31.4h-93.2z"/>
<path fill="rgb(212,212,212)" d="M542.9 1252.6h31.4v93.2h-31.4zM635.6 1252.6h31.4v93.2h-31.4zM759.2 1252.6h31.4v93.2h-31.4zM882.8 1252.6h31.4v93.2h-31.4zM419.3 1345.3h31.4v31.4h-31.4zM481.1 1345.3h31.4v31.4h-31.4zM635.6 1345.3h62.3v31.4h-62.3zM821.0 1345.3h62.3v31.4h-62.3zM913.7 1345.3h31.4v31.4h-31.4zM326.6 1376.2h31.4v31.4h-31.4zM666.5 1376.2h62.3v31.4h-62.3zM944.6 1376.2h31.4v31.4h-31.4zM264.8 1438.0h31.4v31.4h-31.4zM326.6 1438.0h31.4v31.4h-31.4zM419.3 1438.0h124.1v31.4h-124.1zM790.1 1438.0h31.4v31.4h-31.4zM17.6 1468.9h93.2v31.4h-93.2zM326.6 1468.9h62.3v31.4h-62.3zM450.2 1468.9h31.4v31.4h-31.4zM512.0 1468.9h31.4v31.4h-31.4zM790.1 1468.9h31.4v31.4h-31.4zM326.6 1499.8h62.3v31.4h-62.3zM728.3 1499.8h31.4v31.4h-31.4zM295.7 1530.7h31.4v31.4h-31.4zM450.2 1530.7h31.4v31.4h-31.4zM542.9 1530.7h31.4v31.4h-31.4zM697.4 1561.6h93.2v31.4h-93.2zM481.1 1592.5h31.4v31.4h-31.4zM728.3 1592.5h62.3v31.4h-62.3zM975.5 1592.5h93.2v31.4h-93.2zM233.9 1623.4h62.3v31.4h-62.3zM481.1 1623.4h31.4v31.4h-31.4zM542.9 1623.4h31.4v31.4h-31.4zM419.3 1654.3h31.4v31.4h-31.4zM542.9 1654.3h62.3v31.4h-62.3zM790.1 1654.3h31.4v31.4h-31.4zM326.6 1685.2h31.4v31.4h-31.4zM450.2 1685.2h31.4v31.4h-31.4zM573.8 1685.2h62.3v31.4h-62.3zM790.1 1685.2h62.3v31.4h-62.3zM295.7 1716.1h31.4v31.4h-31.4zM450.2 1716.1h31.4v31.4h-31.4zM542.9 1716.1h124.1v31.4h-124.1zM759.2 1716.1h31.4v31.4h-31.4zM264.8 1747.0h31.4v31.4h-31.4zM326.6 1747.0h31.4v31.4h-31.4zM450.2 1747.0h31.4v31.4h-31.4zM635.6 1747.0h31.4v31.4h-31.4zM666.5 1777.9h31.4v31.4h-31.4zM728.3 1777.9h31.4v31.4h-31.4zM17.6 1808.8h93.2v31.4h-93.2zM419.3 1808.8h31.4v31.4h-31.4zM635.6 1808.8h31.4v31.4h-31.4zM759.2 1808.8h31.4v31.4h-31.4zM388.4 1839.7h31.4v31.4h-31.4zM512.0 1839.7h62.3v31.4h-62.3zM666.5 1839.7h31.4v31.4h-31.4zM759.2 1839.7h62.3v31.4h-62.3zM882.8 1839.7h31.4v31.4h-31.4zM975.5 1839.7h93.2v31.4h-93.2zM17.6 1870.6h93.2v31.4h-93.2zM203.0 1870.6h31.4v31.4h-31.4zM295.7 1870.6h31.4v31.4h-31.4zM357.5 1870.6h31.4v31.4h-31.4zM450.2 1870.6h31.4v31.4h-31.4zM635.6 1870.6h31.4v31.4h-31.4zM851.9 1870.6h31.4v31.4h-31.4zM944.6 1870.6h31.4v31.4h-31.4zM141.2 1901.5h31.4v31.4h-31.4zM450.2 1901.5h31.4v31.4h-31.4zM604.7 1901.5h31.4v31.4h-31.4zM882.8 1901.5h31.4v31.4h-31.4zM17.6 1932.4h93.2v31.4h-93.2zM357.5 1932.4h62.3v31.4h-62.3zM542.9 1932.4h31.4v31.4h-31.4zM604.7 1932.4h31.4v31.4h-31.4zM17.6 1963.3h124.1v31.4h-124.1zM542.9 1963.3h31.4v31.4h-31.4zM821.0 1963.3h31.4v31.4h-31.4zM233.9 1994.2h31.4v31.4h-31.4zM419.3 1994.2h62.3v31.4h-62.3zM851.9 1994.2h31.4v31.4h-31.4zM573.8 2025.1h31.4v31.4h-31.4zM233.9 2056.0h31.4v31.4h-31.4zM728.3 2056.0h31.4v31.4h-31.4zM388.4 2086.9h62.3v31.4h-62.3zM481.1 2086.9h31.4v31.4h-31.4zM542.9 2086.9h62.3v31.4h-62.3zM697.4 2086.9h31.4v31.4h-31.4zM388.4 2117.8h31.4v31.4h-31.4zM481.1 2117.8h31.4v31.4h-31.4zM604.7 2117.8h31.4v31.4h-31.4zM357.5 2148.7h31.4v31.4h-31.4zM419.3 2148.7h93.2v31.4h-93.2zM573.8 2148.7h62.3v31.4h-62.3zM666.5 2148.7h31.4v31.4h-31.4zM357.5 2179.6h31.4v31.4h-31.4zM450.2 2179.6h31.4v31.4h-31.4zM388.4 2210.5h31.4v93.2h-31.4z"/>
<path fill="rgb(227,227,227)" d="M728.3 1252.6h31.4v93.2h-31.4zM913.7 1252.6h31.4v93.2h-31.4zM790.1 1345.3h31.4v31.4h-31.4zM233.9 1376.2h31.4v31.4h-31.4zM975.5 1407.1h93.2v31.4h-93.2zM203.0 2117.8h31.4v31.4h-31.4z"/>
<path fill="rgb(241,241,241)" d="M666.5 1252.6h31.4v93.2h-31.4zM944.6 1252.6h31.4v93.2h-31.4zM512.0 1345.3h62.3v31.4h-62.3zM944.6 1345.3h31.4v31.4h-31.4zM357.5 1376.2h31.4v31.4h-31.4zM481.1 1376.2h62.3v31.4h-62.3zM604.7 1376.2h62.3v31.4h-62.3zM728.3 1376.2h31.4v31.4h-31.4zM821.0 1376.2h31.4v31.4h-31.4zM295.7 1407.1h31.4v31.4h-31.4zM357.5 1407.1h31.4v31.4h-31.4zM419.3 1407.1h124.1v31.4h-124.1zM697.4 1407.1h62.3v31.4h-62.3zM542.9 1438.0h31.4v31.4h-31.4zM821.0 1438.0h31.4v31.4h-31.4zM264.8 1468.9h62.3v31.4h-62.3zM542.9 1468.9h31.4v31.4h-31.4zM666.5 1468.9h31.4v31.4h-31.4zM728.3 1468.9h31.4v31.4h-31.4zM264.8 1499.8h31.4v31.4h-31.4zM450.2 1499.8h93.2v31.4h-93.2zM604.7 1499.8h93.2v31.4h-93.2zM851.9 1499.8h31.4v31.4h-31.4zM326.6 1530.7h62.3v31.4h-62.3zM512.0 1530.7h31.4v31.4h-31.4zM851.9 1530.7h31.4v31.4h-31.4zM481.1 1561.6h31.4v31.4h-31.4zM944.6 1561.6h31.4v31.4h-31.4zM512.0 1592.5h31.4v31.4h-31.4zM759.2 1623.4h31.4v31.4h-31.4zM450.2 1654.3h62.3v31.4h-62.3zM759.2 1654.3h31.4v31.4h-31.4zM481.1 1685.2h62.3v31.4h-62.3zM728.3 1685.2h31.4v31.4h-31.4zM326.6 1716.1h31.4v31.4h-31.4zM790.1 1716.1h31.4v31.4h-31.4zM573.8 1747.0h62.3v31.4h-62.3zM172.1 1777.9h31.4v31.4h-31.4zM295.7 1777.9h31.4v31.4h-31.4zM481.1 1777.9h31.4v31.4h-31.4zM573.8 1777.9h62.3v31.4h-62.3zM388.4 1808.8h31.4v31.4h-31.4zM450.2 1808.8h31.4v31.4h-31.4zM512.0 1808.8h31.4v31.4h-31.4zM604.7 1808.8h31.4v31.4h-31.4zM728.3 1808.8h31.4v31.4h-31.4zM573.8 1839.7h31.4v31.4h-31.4zM635.6 1839.7h31.4v31.4h-31.4zM233.9 1870.6h31.4v31.4h-31.4zM512.0 1870.6h62.3v31.4h-62.3zM604.7 1870.6h31.4v31.4h-31.4zM882.8 1870.6h31.4v31.4h-31.4zM110.3 1901.5h31.4v31.4h-31.4zM264.8 1901.5h31.4v31.4h-31.4zM481.1 1901.5h31.4v31.4h-31.4zM573.8 1901.5h31.4v31.4h-31.4zM790.1 1901.5h62.3v31.4h-62.3zM110.3 1932.4h31.4v31.4h-31.4zM233.9 1932.4h62.3v31.4h-62.3zM450.2 1932.4h31.4v31.4h-31.4zM573.8 1932.4h31.4v31.4h-31.4zM821.0 1932.4h31.4v31.4h-31.4zM357.5 1994.2h31.4v31.4h-31.4zM233.9 2025.1h31.4v31.4h-31.4zM295.7 2025.1h31.4v31.4h-31.4zM357.5 2025.1h31.4v31.4h-31.4zM821.0 2025.1h31.4v31.4h-31.4zM326.6 2056.0h93.2v31.4h-93.2zM450.2 2056.0h31.4v31.4h-31.4zM666.5 2056.0h62.3v31.4h-62.3zM233.9 2086.9h31.4v31.4h-31.4zM450.2 2086.9h31.4v31.4h-31.4zM604.7 2086.9h31.4v31.4h-31.4zM573.8 2117.8h31.4v31.4h-31.4zM388.4 2148.7h31.4v31.4h-31.4zM542.9 2148.7h31.4v31.4h-31.4zM419.3 2179.6h31.4v31.4h-31.4zM573.8 2179.6h31.4v31.4h-31.4zM357.5 2210.5h31.4v93.2h-31.4z"/>
<path fill="rgb(255,255,255)" d="M697.4 1252.6h31.4v93.2h-31.4zM975.5 1252.6h93.2v93.2h-93.2zM697.4 1345.3h93.2v31.4h-93.2zM975.5 1345.3h93.2v31.4h-93.2zM388.4 1376.2h93.2v31.4h-93.2zM542.9 1376.2h62.3v31.4h-62.3zM759.2 1376.2h62.3v31.4h-62.3zM975.5 1376.2h93.2v31.4h-93.2zM326.6 1407.1h31.4v31.4h-31.4zM388.4 1407.1h31.4v31.4h-31.4zM542.9 1407.1h155.0v31.4h-155.0zM759.2 1407.1h124.1v31.4h-124.1zM295.7 1438.0h31.4v31.4h-31.4zM573.8 1438.0h155.0v31.4h-155.0zM573.8 1468.9h93.2v31.4h-93.2zM697.4 1468.9h31.4v31.4h-31.4zM821.0 1468.9h31.4v31.4h-31.4zM542.9 1499.8h62.3v31.4h-62.3zM697.4 1499.8h31.4v31.4h-31.4zM264.8 1530.7h31.4v31.4h-31.4zM481.1 1530.7h31.4v31.4h-31.4zM697.4 1530.7h62.3v31.4h-62.3zM512.0 1623.4h31.4v31.4h-31.4zM512.0 1654.3h31.4v31.4h-31.4zM542.9 1685.2h31.4v31.4h-31.4zM759.2 1685.2h31.4v31.4h-31.4zM481.1 1716.1h62.3v31.4h-62.3zM295.7 1747.0h31.4v31.4h-31.4zM481.1 1747.0h93.2v31.4h-93.2zM512.0 1777.9h62.3v31.4h-62.3zM635.6 1777.9h31.4v31.4h-31.4zM542.9 1808.8h62.3v31.4h-62.3zM450.2 1839.7h31.4v31.4h-31.4zM326.6 1870.6h31.4v31.4h-31.4zM573.8 1870.6h31.4v31.4h-31.4zM233.9 1901.5h31.4v31.4h-31.4zM295.7 1901.5h62.3v31.4h-62.3zM512.0 1901.5h62.3v31.4h-62.3zM295.7 1932.4h62.3v31.4h-62.3zM481.1 1932.4h62.3v31.4h-62.3zM790.1 1932.4h31.4v31.4h-31.4zM264.8 1963.3h155.0v31.4h-155.0zM512.0 1963.3h31.4v31.4h-31.4zM573.8 1963.3h31.4v31.4h-31.4zM264.8 1994.2h93.2v31.4h-93.2zM388.4 1994.2h31.4v31.4h-31.4zM481.1 1994.2h62.3v31.4h-62.3zM573.8 1994.2h31.4v31.4h-31.4zM264.8 2025.1h31.4v31.4h-31.4zM388.4 2025.1h155.0v31.4h-155.0zM264.8 2056.0h31.4v31.4h-31.4zM419.3 2056.0h31.4v31.4h-31.4zM481.1 2056.0h62.3v31.4h-62.3zM264.8 2086.9h31.4v31.4h-31.4zM512.0 2086.9h31.4v31.4h-31.4zM635.6 2086.9h62.3v31.4h-62.3zM512.0 2117.8h62.3v31.4h-62.3zM635.6 2117.8h62.3v31.4h-62.3zM512.0 2148.7h31.4v31.4h-31.4zM388.4 2179.6h31.4v31.4h-31.4zM542.9 2179.6h31.4v31.4h-31.4z"/></g>
</g>
<g clip-path="url(#cn)" fill="none" stroke="#000" stroke-width="1.8" stroke-linejoin="round"><path d="M499.2 1572.2L498.6 1585.9L498.4 1599.5L493.9 1605.8L489.7 1612.1L485.9 1618.6L482.4 1625.1L479.3 1631.6L473.7 1632.3L468.0 1633.2L462.3 1634.3L456.6 1635.6L450.8 1637.2L445.1 1638.9L439.4 1640.9L433.8 1643.1L427.8 1645.5L421.9 1648.1L416.0 1651.0L413.7 1656.4L411.7 1661.8L409.9 1667.3L408.3 1672.8L403.8 1676.9L399.5 1681.2L395.3 1685.7L391.2 1690.3L384.9 1692.7L378.6 1695.4L372.3 1698.3L369.9 1703.6L367.7 1708.9L365.7 1714.3L363.8 1719.7L361.9 1726.0L360.2 1732.4L358.7 1738.8L357.5 1745.2L359.5 1751.0L361.7 1756.7L364.1 1762.3L377.0 1764.8L389.9 1767.2L374.4 1772.0L359.0 1777.9L360.5 1783.2L362.2 1788.4L364.1 1793.5L362.5 1799.3L361.0 1805.1L350.1 1805.9L339.0 1806.6L332.4 1801.3L325.9 1795.6L319.6 1789.6L312.6 1782.9L305.9 1775.8L299.3 1768.3L293.0 1760.4L275.1 1756.8L256.3 1765.4L254.5 1772.9L252.9 1780.4L251.6 1788.1L246.4 1796.0L241.4 1804.3L240.8 1811.5L240.3 1818.8L222.0 1823.0L206.5 1834.2L210.9 1842.4L222.5 1840.2L234.0 1838.0L254.4 1844.5L265.0 1839.5L275.7 1834.7L293.5 1830.9L311.5 1829.2L311.5 1835.6L311.6 1842.0L312.0 1848.5L309.6 1856.0L307.5 1863.6L298.6 1868.0L289.6 1872.6L291.3 1880.8L293.3 1889.0L311.1 1888.5L304.2 1898.2L297.7 1908.3L289.9 1918.1L282.4 1928.3L278.5 1939.9L275.0 1951.9L266.4 1964.4L259.6 1960.1L252.9 1955.6L239.2 1953.2L233.3 1942.5L227.8 1931.6L222.6 1920.5L207.1 1913.6L209.9 1922.7L212.9 1931.8L198.5 1942.2L199.4 1954.8L200.6 1967.6L190.9 1963.1L181.2 1958.2L172.8 1952.4L164.6 1946.3L176.4 1941.1L171.8 1935.4L161.8 1928.0L151.9 1920.2L135.9 1920.4L134.8 1926.4L128.2 1916.7L120.9 1908.9L113.7 1901.0L103.3 1902.3L85.5 1896.2L74.3 1894.7L59.5 1901.1L46.4 1892.5L28.8 1877.8"/><path d="M72.2 1536.0L90.3 1532.2L97.2 1525.2L104.3 1518.5L118.0 1519.6L131.6 1520.9L142.7 1522.9L157.0 1524.9L171.0 1527.1L183.1 1533.8L195.0 1540.6L207.6 1550.5L220.1 1560.2L230.3 1564.3L240.4 1568.4L232.7 1576.5L238.5 1581.7L246.3 1578.6L254.1 1575.7L265.3 1572.5L276.4 1569.7L291.9 1572.8L307.1 1576.5L320.2 1579.2L333.1 1582.2L343.2 1581.6L353.1 1581.4L364.1 1579.3L374.9 1577.7L382.6 1572.7L390.3 1567.9L399.0 1564.6L407.8 1561.6L411.7 1552.9L416.0 1544.2L414.7 1531.5L420.2 1523.6L426.2 1515.8L430.2 1509.1L434.4 1502.4L441.3 1494.8L448.5 1487.4L454.5 1484.1L460.5 1480.9L453.3 1489.3L446.5 1497.9L443.2 1511.3L440.6 1524.6L450.2 1523.3L459.9 1522.4L471.4 1528.4L477.6 1538.4L483.6 1548.4L478.8 1554.4L474.3 1560.4L470.1 1566.5L477.2 1566.5L484.3 1566.7L491.9 1569.3"/><path d="M447.2 1807.2L452.9 1808.3L458.6 1809.1L464.3 1809.6L470.7 1810.1L476.9 1810.1L483.1 1809.7L485.2 1811.0L487.4 1812.3L489.6 1813.4L491.8 1814.4L494.0 1815.4L496.2 1816.2L498.4 1816.9L500.6 1817.5L502.8 1818.0L504.3 1819.1L505.8 1820.1L507.4 1821.1L508.9 1822.1L510.5 1823.0L512.1 1823.8L513.8 1824.5L514.3 1827.4L515.1 1830.2L516.0 1833.1L517.1 1835.9L518.3 1838.7L519.7 1841.5L521.6 1843.3L523.6 1845.0L525.7 1846.7L527.9 1848.3L524.5 1851.9L520.7 1855.3L516.7 1858.5L512.6 1868.4L508.4 1878.2L505.4 1888.5L502.4 1898.8L494.3 1909.7L485.4 1920.1L480.6 1932.2L471.7 1937.9L462.3 1943.2L455.9 1941.6L449.5 1939.7L443.1 1937.6L434.8 1940.2L426.2 1942.5L417.4 1944.4L411.2 1943.5L404.9 1942.4L392.3 1951.2L379.3 1959.6L365.9 1967.7L359.4 1961.4L357.9 1953.4L356.7 1945.5L362.7 1931.8L369.1 1918.6L376.6 1906.7L384.5 1895.1L392.8 1887.9L401.2 1880.9L413.7 1868.4L421.1 1860.1L428.7 1852.0L433.6 1843.6L438.9 1835.6L437.2 1832.4L435.6 1829.1L434.0 1825.8L432.6 1822.5L437.5 1817.3L442.6 1812.4z"/><path d="M491.1 2270.8L508.1 2275.5L525.4 2279.7L540.0 2274.3L554.3 2268.5L568.3 2262.3L583.0 2260.0L597.5 2257.2L611.9 2254.0L626.2 2250.4L632.5 2261.6L639.1 2272.9L632.3 2285.1L642.8 2292.0L661.7 2292.5L680.7 2292.2"/><path d="M725.4 2279.3L737.7 2272.3L749.7 2265.0"/><path d="M465.7 2294.8L482.0 2288.2"/><path d="M470.1 2237.3L468.2 2255.0L478.7 2259.2L489.3 2263.2L495.6 2269.2L510.9 2266.7L525.9 2263.7L542.9 2243.0L540.5 2234.7L554.1 2221.7L567.0 2208.5L568.4 2195.3L577.7 2196.1L586.9 2196.8L595.9 2188.6L604.5 2180.4L619.7 2192.0L635.4 2202.2L650.1 2207.7L665.1 2212.7L673.1 2232.0L678.0 2219.7L672.1 2213.9L685.6 2204.3L680.3 2200.6L662.3 2194.4L646.0 2191.4L630.1 2177.7L627.7 2167.0L636.3 2161.0L637.2 2167.9L648.0 2170.2L658.6 2175.0L669.5 2179.6L687.9 2187.3L691.9 2201.0L711.1 2216.0L722.2 2228.6L733.7 2227.3L729.0 2212.1L735.0 2209.5L719.9 2199.0L721.8 2189.3L722.9 2182.1L737.3 2176.5L743.0 2182.8L755.0 2194.2L765.9 2206.3L774.8 2205.1L791.8 2200.4L808.1 2194.1L815.0 2185.2L821.7 2176.1L834.4 2176.2L841.0 2191.2L846.0 2204.4L850.9 2217.7"/><path d="M996.2 1515.6L985.4 1529.6L967.2 1530.0L958.7 1524.1L950.2 1518.4L950.5 1533.0L962.5 1545.3L956.2 1560.0L947.1 1558.4L934.0 1553.0L920.9 1548.0L936.0 1535.1L926.0 1529.1L916.0 1523.4L929.9 1506.9L931.1 1490.6L942.3 1483.5L953.6 1476.2L945.6 1470.0L937.5 1464.0L923.7 1464.0L912.5 1475.4L907.8 1488.7L902.9 1501.7L890.7 1500.3L878.6 1499.2L863.0 1499.6L852.4 1489.3L839.9 1488.6L827.6 1488.2L812.7 1491.1L798.2 1494.4L779.8 1504.0L762.0 1514.0L753.1 1520.2L744.4 1526.4L745.2 1536.8L750.4 1541.3L755.5 1545.9L757.6 1552.9L759.4 1559.9L746.1 1561.2L733.0 1563.0L722.8 1563.5L712.8 1564.4L702.9 1565.6L695.1 1560.6L687.1 1555.9L678.9 1551.5L673.0 1545.5L666.9 1539.6L659.7 1538.5L652.4 1537.6L648.8 1555.9L642.6 1554.0L636.3 1552.3L633.0 1546.1L629.5 1540.0L619.7 1545.1L610.2 1550.6L611.9 1537.1L624.5 1526.8L637.9 1516.9L647.5 1515.7L657.3 1514.8L668.6 1499.6L672.7 1483.5L676.7 1467.2L661.7 1476.4L648.9 1486.5L637.3 1487.4L629.3 1499.5L621.8 1511.6L613.6 1518.7L605.7 1526.1L599.1 1524.5L592.4 1523.1L585.7 1521.9L579.2 1527.8L572.9 1533.7L563.9 1537.3L555.3 1541.2L550.6 1540.1L545.8 1539.1L548.3 1549.0L550.5 1558.9L544.8 1563.2L539.2 1567.6L533.5 1563.4L527.6 1559.3L521.8 1558.9L516.0 1558.6L511.0 1564.6L506.4 1570.8L506.4 1577.1L511.0 1579.9L515.5 1582.8L520.7 1583.4L526.0 1584.2L531.9 1588.2L537.5 1592.3L542.9 1596.6L549.1 1601.1L554.9 1605.8L561.2 1604.0L567.6 1602.4L574.1 1601.1L578.8 1609.1L584.7 1610.3L590.6 1611.6L596.4 1613.2L602.2 1615.0L606.8 1619.7L611.1 1624.7L615.2 1629.7L619.0 1634.8L622.9 1639.4L626.5 1644.1L629.9 1648.9L633.1 1653.8L636.0 1658.7L638.7 1663.7L644.4 1665.2L650.1 1666.9L655.7 1668.9L661.4 1671.2L667.1 1673.7L657.0 1688.8L659.3 1693.3L661.5 1697.9L663.5 1702.6L665.3 1707.2L666.9 1712.0L668.4 1716.7L669.6 1721.5L661.0 1726.5L652.4 1731.4L650.5 1736.6L648.5 1741.6L646.2 1746.3L643.7 1750.9L647.8 1753.0L651.8 1755.4L655.8 1758.0L658.2 1761.4L660.5 1764.9L662.7 1768.6L664.8 1772.4L666.7 1776.4L668.6 1780.4L670.2 1784.6L674.3 1788.8L678.2 1793.3L681.9 1798.1L685.5 1803.0L694.0 1804.5L691.7 1808.6L689.4 1812.6L686.9 1816.5L693.8 1824.0L703.9 1827.9L714.1 1831.9L724.2 1833.3L734.4 1834.6L732.8 1839.6L731.2 1844.6L729.3 1849.5L723.7 1841.9L717.8 1834.7L713.6 1840.0L709.3 1845.1L691.9 1841.8L706.9 1850.9L705.6 1857.2L704.0 1863.5L702.2 1869.8L699.9 1875.4L697.4 1880.8L694.8 1886.2L696.8 1893.8L692.3 1897.8L687.7 1901.6L683.1 1905.2L678.3 1908.7L682.9 1922.8L683.7 1932.9L684.1 1943.2L682.2 1950.0L680.1 1956.7L672.2 1955.9L664.5 1954.9L651.7 1945.4L657.2 1942.7L662.7 1939.9L668.2 1936.8L673.5 1933.6L669.3 1923.3L662.7 1923.2L656.1 1922.8L650.1 1923.7L644.2 1924.4L638.3 1924.8L631.7 1923.8L625.3 1922.5L619.0 1921.0L614.8 1925.4L610.5 1929.7L605.9 1933.8L602.2 1940.8L598.1 1947.8L593.6 1954.7L591.7 1966.6L589.2 1978.5L584.7 1993.0L581.1 2000.5L577.3 2007.9L570.8 2013.3L563.9 2018.5L564.9 2029.7L565.9 2041.0L576.7 2053.6L583.7 2050.8L588.1 2045.0L592.3 2039.2L596.4 2045.8L601.3 2055.1L606.4 2064.3L610.8 2071.9L617.2 2069.3L623.8 2059.9L623.6 2048.5L626.0 2038.1L628.0 2027.9L617.0 2017.2L614.8 1999.1L618.5 1989.8L621.9 1980.4L621.4 1970.2L626.6 1969.4L631.8 1968.5L635.4 1973.6L632.1 1983.9L628.1 1994.3L634.7 2011.0L644.3 2016.8L649.8 2012.4L655.1 2007.9L663.9 2005.5L672.7 2002.7L666.9 2011.1L658.9 2015.7L650.7 2020.0L653.6 2032.6L660.7 2036.5L654.5 2037.7L648.3 2038.8L649.0 2054.4L648.9 2069.3L640.7 2070.2L634.0 2074.6L627.1 2078.9L620.1 2083.0L611.6 2085.0L603.0 2086.8L595.2 2080.7L594.8 2068.0L594.3 2055.5L589.1 2058.7L583.8 2061.9L587.0 2080.1L590.8 2090.8L581.8 2094.9L575.7 2098.0L569.5 2100.9L563.5 2115.5L552.5 2122.7L544.1 2134.3L534.8 2134.2L531.4 2143.7L522.1 2144.3L512.8 2144.6L524.4 2156.1L534.7 2169.2L533.0 2181.5L531.3 2193.9L517.5 2193.3L506.7 2191.8L495.9 2190.0L485.3 2188.0L475.6 2193.6L475.4 2214.1L470.9 2224.8L466.3 2235.6"/><path d="M747.7 2163.1L755.9 2162.2L764.2 2157.4L772.5 2152.5L781.6 2141.9L790.3 2131.2L802.4 2128.6L814.7 2125.7L823.5 2115.3L832.0 2104.7L819.2 2095.8L801.6 2097.4L787.1 2096.2L780.4 2076.5L774.1 2087.5L767.4 2098.5L780.4 2098.8L775.9 2110.6L767.1 2116.6L756.0 2106.1L741.9 2109.1L740.5 2127.1L741.5 2143.6z"/><path d="M903.4 2091.3L919.8 2083.1L926.9 2072.5L933.6 2061.8L921.8 2055.7L910.1 2049.6L899.5 2046.6L898.1 2031.3L885.0 2040.4L873.0 2031.2L858.6 2033.5L861.7 2018.2L850.0 2009.3L843.4 2016.9L836.7 2024.4L836.0 2035.0L835.1 2045.6L844.2 2054.0L853.4 2062.4L867.8 2065.3L882.4 2067.9L891.6 2081.0z"/><path d="M509.1 2128.8L519.7 2126.6L530.2 2124.0L540.5 2121.1L550.6 2118.0L552.6 2104.7L544.6 2102.0L534.9 2083.2L532.6 2073.9L533.1 2058.2L523.3 2057.7L528.7 2049.8L519.2 2049.1L512.9 2063.2L514.1 2077.3L520.4 2080.6L526.9 2083.8L526.1 2097.8L517.6 2099.1L518.5 2110.5L512.5 2111.9L518.8 2114.3L525.1 2116.6L517.3 2122.8z"/><path d="M508.2 2107.7L510.0 2090.9L506.0 2078.3L497.4 2082.2L488.6 2086.0L486.6 2097.1L484.7 2108.2L496.0 2111.9z"/><path d="M457.4 1970.0L467.1 1965.5L473.8 1967.8L480.6 1969.8L487.4 1971.6L489.9 1979.1L492.8 1986.7L487.1 1989.8L481.3 1992.9L473.0 1993.1L464.6 1993.1L460.4 1989.1L456.3 1985.0z"/><path d="M929.7 1429.7L920.4 1419.6L910.9 1409.9L891.7 1406.4L877.2 1396.1L856.8 1393.0L848.5 1401.9L840.2 1410.8L824.1 1417.9L816.3 1436.6L829.9 1435.8L846.3 1422.6L859.2 1423.5L872.3 1424.7L885.7 1422.9L896.8 1430.1L907.7 1437.7L929.1 1442.2L941.6 1443.4L950.8 1435.6"/><path d="M823.4 1443.7L805.1 1448.3L797.0 1457.2L789.1 1466.1L783.3 1453.0L777.0 1439.9L780.3 1432.5L790.4 1432.2L800.6 1432.1L806.0 1439.4L811.1 1446.7z"/><path d="M783.8 1469.5L770.9 1478.1L758.3 1486.8L751.0 1499.3L743.6 1511.5L737.8 1520.7L731.9 1529.8L742.4 1522.5L751.1 1511.4L759.9 1500.1L771.8 1484.9z"/><path d="M669.8 1878.8L658.5 1865.0L653.7 1856.9L648.6 1849.2L647.5 1844.1L646.2 1839.1L644.7 1834.3L645.1 1830.3L645.4 1826.3L645.6 1822.3L645.6 1818.3L650.6 1823.1L655.5 1828.0L657.5 1833.8L659.3 1839.8L660.8 1846.0L662.0 1852.3L670.8 1858.6L679.6 1865.0L678.8 1868.7L677.8 1872.4L673.8 1875.7z"/><path d="M560.7 1869.5L562.9 1864.6L564.8 1859.8L567.0 1858.3L569.0 1856.7L571.0 1855.1L573.4 1854.4L575.8 1853.7L578.2 1852.8L580.6 1851.9L580.7 1857.8L580.6 1863.8L580.1 1869.9L579.2 1877.6L577.8 1885.3L574.6 1884.9L571.5 1884.5L565.8 1877.1z"/><path d="M406.3 1802.0L403.4 1807.5L400.8 1813.3L397.3 1819.6L394.1 1826.2L391.2 1833.1L388.6 1840.2L381.6 1849.7L375.0 1859.8L368.9 1870.4L362.0 1876.1L347.2 1876.5L332.1 1876.2L327.2 1870.6L322.4 1864.8L325.3 1855.7L328.6 1846.8L332.2 1838.3L332.4 1830.4L332.9 1822.5L340.0 1827.2L347.2 1831.6L354.4 1835.5L366.1 1828.6L369.0 1822.3L372.0 1816.3L375.2 1810.5L374.2 1804.6L373.4 1798.7L372.8 1792.8L378.9 1786.5L385.2 1780.7L394.0 1785.7L403.0 1790.1L404.0 1794.1L405.1 1798.1z"/><path d="M428.3 1777.9L428.3 1781.9L428.5 1785.9L428.9 1789.9L429.4 1793.9L430.0 1797.8L430.8 1801.7L439.8 1802.7L448.7 1803.1L453.7 1805.2L458.7 1806.9L463.8 1808.3L468.8 1809.3L473.8 1810.1L480.4 1809.1L486.8 1807.7L486.8 1805.3L486.8 1802.9L487.0 1800.5L487.2 1798.2L485.8 1796.5L484.3 1794.7L482.9 1792.8L481.6 1790.9L480.4 1788.9L479.2 1786.9L478.1 1784.7L477.0 1782.5L476.1 1780.2L475.2 1777.9L466.7 1775.2L461.0 1777.4L455.3 1779.9L449.8 1782.8L439.0 1780.6z"/><path d="M382.9 1696.4L379.5 1701.7L376.3 1707.2L373.3 1712.8L370.4 1718.5L367.7 1724.3L365.3 1730.3L368.0 1737.5L371.0 1744.5L385.0 1741.4L398.9 1739.3L400.6 1735.1L402.3 1730.9L404.3 1726.7L406.3 1722.7L407.8 1717.7L409.4 1712.8L411.3 1707.9L397.2 1702.1z"/><path d="M417.2 1689.9L413.3 1693.8L409.5 1697.8L405.9 1701.9L402.3 1706.3L413.1 1711.8L423.9 1717.3L425.8 1713.7L427.8 1710.1L430.0 1706.6L432.2 1703.2L424.7 1696.6z"/><path d="M219.9 1969.7L223.5 1982.1L227.7 1994.6L232.9 2001.1L238.2 2007.5L251.0 2000.3L251.5 1988.8L252.4 1977.6L264.9 1969.0L249.6 1964.8L234.9 1967.4z"/></g>
<g stroke="#000" stroke-width="1.9" fill="none"><circle cx="542.9" cy="1777.9" r="127.5"/><circle cx="542.9" cy="1777.9" r="259.5"/><circle cx="542.9" cy="1777.9" r="401.2"/><path d="M542.9 1314.4L542.9 2241.4"/><path d="M141.5 1546.2L944.3 2009.7"/><path d="M141.5 2009.7L944.3 1546.2"/></g>
<circle cx="542.9" cy="1777.9" r="2.2" fill="#fff"/>
<circle cx="542.9" cy="1777.9" r="463.5" fill="none" stroke="#000" stroke-width="3.2"/>
<g clip-path="url(#cs)">
<g filter="url(#fs)"><path fill="rgb(0,0,0)" d="M1243.0 1623.4h31.4v31.4h-31.4zM1212.1 1654.3h62.3v31.4h-62.3zM1582.9 2210.5h31.4v93.2h-31.4z"/>
<path fill="rgb(14,14,14)" d="M1181.2 1499.8h31.4v31.4h-31.4zM1212.1 1623.4h31.4v31.4h-31.4zM1706.5 1654.3h31.4v31.4h-31.4zM1737.4 1808.8h31.4v31.4h-31.4zM1706.5 1901.5h31.4v31.4h-31.4zM2015.5 2148.7h93.2v31.4h-93.2zM1552.0 2210.5h31.4v93.2h-31.4z"/>
<path fill="rgb(28,28,28)" d="M2015.5 2179.6h93.2v31.4h-93.2zM2015.5 2210.5h93.2v93.2h-93.2z"/>
<path fill="rgb(42,42,42)" d="M1212.1 1468.9h31.4v31.4h-31.4zM1212.1 1499.8h31.4v31.4h-31.4zM1397.5 1561.6h31.4v31.4h-31.4zM1428.4 1592.5h31.4v31.4h-31.4zM1737.4 1747.0h31.4v31.4h-31.4zM1737.4 1839.7h31.4v31.4h-31.4zM1706.5 1870.6h31.4v31.4h-31.4zM1922.8 2025.1h31.4v31.4h-31.4zM2015.5 2117.8h93.2v31.4h-93.2zM1768.3 2148.7h31.4v31.4h-31.4zM1984.6 2179.6h31.4v31.4h-31.4z"/>
<path fill="rgb(57,57,57)" d="M1057.6 1252.6h93.2v93.2h-93.2zM1675.6 1685.2h31.4v31.4h-31.4zM1984.6 2210.5h31.4v93.2h-31.4z"/>
<path fill="rgb(71,71,71)" d="M1212.1 1530.7h31.4v31.4h-31.4zM1243.0 1561.6h31.4v31.4h-31.4zM1675.6 1592.5h31.4v31.4h-31.4zM1675.6 1623.4h62.3v31.4h-62.3zM1273.9 1654.3h31.4v31.4h-31.4zM1768.3 1716.1h31.4v31.4h-31.4zM1706.5 1747.0h31.4v31.4h-31.4zM1768.3 1747.0h31.4v31.4h-31.4zM1397.5 1777.9h31.4v31.4h-31.4zM1613.8 1777.9h31.4v31.4h-31.4zM1706.5 1808.8h31.4v31.4h-31.4zM1150.3 1870.6h31.4v31.4h-31.4zM1675.6 1901.5h31.4v31.4h-31.4zM1799.2 2025.1h31.4v31.4h-31.4zM1891.9 2025.1h31.4v31.4h-31.4zM1243.0 2056.0h31.4v31.4h-31.4zM1984.6 2148.7h31.4v31.4h-31.4zM1953.7 2210.5h31.4v93.2h-31.4z"/>
<path fill="rgb(85,85,85)" d="M1675.6 1747.0h31.4v31.4h-31.4zM1459.3 1777.9h31.4v31.4h-31.4zM1644.7 1777.9h31.4v31.4h-31.4zM1675.6 1808.8h31.4v31.4h-31.4zM2015.5 2086.9h93.2v31.4h-93.2z"/>
<path fill="rgb(99,99,99)" d="M1150.3 1252.6h31.4v93.2h-31.4zM1057.6 1345.3h93.2v31.4h-93.2zM1644.7 1716.1h31.4v31.4h-31.4zM1644.7 1747.0h31.4v31.4h-31.4zM1582.9 1777.9h31.4v31.4h-31.4zM1675.6 1777.9h31.4v31.4h-31.4zM1613.8 1808.8h31.4v31.4h-31.4zM1644.7 1839.7h31.4v31.4h-31.4zM1644.7 1870.6h62.3v31.4h-62.3zM1984.6 2117.8h31.4v31.4h-31.4zM1922.8 2210.5h31.4v93.2h-31.4z"/>
<path fill="rgb(113,113,113)" d="M1521.1 1252.6h31.4v93.2h-31.4zM1243.0 1407.1h62.3v31.4h-62.3zM1212.1 1438.0h62.3v31.4h-62.3zM1243.0 1468.9h31.4v31.4h-31.4zM1243.0 1499.8h31.4v31.4h-31.4zM1397.5 1499.8h31.4v31.4h-31.4zM1922.8 1499.8h31.4v31.4h-31.4zM1212.1 1561.6h31.4v31.4h-31.4zM1243.0 1592.5h31.4v31.4h-31.4zM1304.8 1654.3h31.4v31.4h-31.4zM1644.7 1654.3h62.3v31.4h-62.3zM1737.4 1654.3h31.4v31.4h-31.4zM1613.8 1685.2h62.3v31.4h-62.3zM1613.8 1716.1h31.4v31.4h-31.4zM1706.5 1716.1h62.3v31.4h-62.3zM1582.9 1747.0h62.3v31.4h-62.3zM1428.4 1777.9h31.4v31.4h-31.4zM1706.5 1777.9h93.2v31.4h-93.2zM1552.0 1870.6h31.4v31.4h-31.4zM1552.0 1932.4h31.4v31.4h-31.4zM1552.0 1963.3h31.4v31.4h-31.4zM1830.1 1994.2h31.4v31.4h-31.4zM1212.1 2056.0h31.4v31.4h-31.4zM1922.8 2056.0h62.3v31.4h-62.3zM2015.5 2056.0h93.2v31.4h-93.2zM1212.1 2086.9h62.3v31.4h-62.3zM1243.0 2179.6h31.4v31.4h-31.4zM1768.3 2179.6h31.4v31.4h-31.4zM1953.7 2179.6h31.4v31.4h-31.4zM1273.9 2210.5h31.4v93.2h-31.4zM1521.1 2210.5h31.4v93.2h-31.4zM1799.2 2210.5h31.4v93.2h-31.4zM1891.9 2210.5h31.4v93.2h-31.4z"/>
<path fill="rgb(128,128,128)" d="M1768.3 1252.6h31.4v93.2h-31.4zM2015.5 1252.6h93.2v93.2h-93.2zM1181.2 1468.9h31.4v31.4h-31.4zM1644.7 1623.4h31.4v31.4h-31.4zM1706.5 1685.2h31.4v31.4h-31.4zM1490.2 1777.9h31.4v31.4h-31.4zM1706.5 1839.7h31.4v31.4h-31.4zM1552.0 1901.5h31.4v31.4h-31.4zM1057.6 1963.3h93.2v31.4h-93.2zM1181.2 2056.0h31.4v31.4h-31.4zM1953.7 2148.7h31.4v31.4h-31.4zM1273.9 2179.6h31.4v31.4h-31.4zM1057.6 2210.5h93.2v93.2h-93.2zM1768.3 2210.5h31.4v93.2h-31.4z"/>
<path fill="rgb(142,142,142)" d="M1181.2 1252.6h31.4v93.2h-31.4zM1799.2 1252.6h62.3v93.2h-62.3zM1150.3 1345.3h31.4v31.4h-31.4zM1891.9 1345.3h31.4v31.4h-31.4zM1304.8 1376.2h31.4v31.4h-31.4zM1861.0 1376.2h93.2v31.4h-93.2zM1304.8 1407.1h31.4v31.4h-31.4zM1273.9 1438.0h31.4v31.4h-31.4zM1922.8 1468.9h31.4v31.4h-31.4zM1273.9 1499.8h62.3v31.4h-62.3zM1521.1 1499.8h31.4v31.4h-31.4zM1243.0 1530.7h31.4v31.4h-31.4zM1922.8 1530.7h31.4v31.4h-31.4zM1428.4 1561.6h31.4v31.4h-31.4zM1861.0 1561.6h31.4v31.4h-31.4zM1459.3 1592.5h31.4v31.4h-31.4zM1706.5 1592.5h31.4v31.4h-31.4zM1861.0 1592.5h62.3v31.4h-62.3zM1459.3 1623.4h31.4v31.4h-31.4zM1891.9 1623.4h31.4v31.4h-31.4zM1243.0 1685.2h31.4v31.4h-31.4zM1737.4 1685.2h62.3v31.4h-62.3zM1675.6 1716.1h31.4v31.4h-31.4zM1768.3 1808.8h31.4v31.4h-31.4zM1953.7 1839.7h31.4v31.4h-31.4zM1057.6 1870.6h93.2v31.4h-93.2zM1428.4 1870.6h31.4v31.4h-31.4zM1737.4 1870.6h31.4v31.4h-31.4zM1057.6 1901.5h124.1v31.4h-124.1zM1861.0 1901.5h31.4v31.4h-31.4zM1521.1 1932.4h31.4v31.4h-31.4zM1675.6 1932.4h31.4v31.4h-31.4zM1521.1 1963.3h31.4v31.4h-31.4zM1582.9 1963.3h31.4v31.4h-31.4zM1057.6 1994.2h93.2v31.4h-93.2zM1273.9 1994.2h31.4v31.4h-31.4zM1582.9 1994.2h31.4v31.4h-31.4zM1644.7 1994.2h31.4v31.4h-31.4zM1768.3 2025.1h31.4v31.4h-31.4zM1830.1 2025.1h31.4v31.4h-31.4zM1953.7 2025.1h31.4v31.4h-31.4zM1984.6 2056.0h31.4v31.4h-31.4zM1181.2 2086.9h31.4v31.4h-31.4zM1582.9 2086.9h31.4v31.4h-31.4zM1953.7 2086.9h62.3v31.4h-62.3zM1181.2 2117.8h62.3v31.4h-62.3zM1428.4 2117.8h31.4v31.4h-31.4zM1799.2 2117.8h31.4v31.4h-31.4zM1953.7 2117.8h31.4v31.4h-31.4zM1212.1 2148.7h93.2v31.4h-93.2zM1428.4 2148.7h31.4v31.4h-31.4zM1737.4 2148.7h31.4v31.4h-31.4zM1397.5 2179.6h62.3v31.4h-62.3zM1922.8 2179.6h31.4v31.4h-31.4zM1304.8 2210.5h31.4v93.2h-31.4zM1613.8 2210.5h31.4v93.2h-31.4zM1830.1 2210.5h62.3v93.2h-62.3z"/>
<path fill="rgb(156,156,156)" d="M1861.0 1345.3h31.4v31.4h-31.4zM1922.8 1345.3h31.4v31.4h-31.4zM2015.5 1345.3h93.2v31.4h-93.2zM1057.6 1376.2h93.2v31.4h-93.2zM1273.9 1376.2h31.4v31.4h-31.4zM1922.8 1407.1h31.4v31.4h-31.4zM1644.7 1808.8h31.4v31.4h-31.4zM1552.0 1839.7h31.4v31.4h-31.4zM1613.8 1839.7h31.4v31.4h-31.4zM1675.6 1839.7h31.4v31.4h-31.4zM1057.6 2179.6h93.2v31.4h-93.2zM1212.1 2179.6h31.4v31.4h-31.4zM1304.8 2179.6h31.4v31.4h-31.4zM1799.2 2179.6h31.4v31.4h-31.4zM1891.9 2179.6h31.4v31.4h-31.4zM1243.0 2210.5h31.4v93.2h-31.4z"/>
<path fill="rgb(170,170,170)" d="M1212.1 1252.6h31.4v93.2h-31.4zM1490.2 1252.6h31.4v93.2h-31.4zM1861.0 1252.6h62.3v93.2h-62.3zM1984.6 1252.6h31.4v93.2h-31.4zM1304.8 1345.3h31.4v31.4h-31.4zM1490.2 1345.3h31.4v31.4h-31.4zM1830.1 1345.3h31.4v31.4h-31.4zM1335.7 1376.2h31.4v31.4h-31.4zM1953.7 1376.2h155.0v31.4h-155.0zM1335.7 1407.1h31.4v31.4h-31.4zM1830.1 1407.1h62.3v31.4h-62.3zM1953.7 1407.1h155.0v31.4h-155.0zM1304.8 1438.0h31.4v31.4h-31.4zM1830.1 1438.0h62.3v31.4h-62.3zM1953.7 1438.0h155.0v31.4h-155.0zM1273.9 1468.9h31.4v31.4h-31.4zM1366.6 1468.9h62.3v31.4h-62.3zM1582.9 1468.9h31.4v31.4h-31.4zM1861.0 1468.9h62.3v31.4h-62.3zM2015.5 1468.9h93.2v31.4h-93.2zM1335.7 1499.8h62.3v31.4h-62.3zM1490.2 1499.8h31.4v31.4h-31.4zM1799.2 1499.8h62.3v31.4h-62.3zM1891.9 1499.8h31.4v31.4h-31.4zM1181.2 1530.7h31.4v31.4h-31.4zM1304.8 1530.7h31.4v31.4h-31.4zM1521.1 1530.7h31.4v31.4h-31.4zM1830.1 1530.7h31.4v31.4h-31.4zM1891.9 1530.7h31.4v31.4h-31.4zM1273.9 1561.6h31.4v31.4h-31.4zM1675.6 1561.6h31.4v31.4h-31.4zM1830.1 1561.6h31.4v31.4h-31.4zM1922.8 1561.6h31.4v31.4h-31.4zM1212.1 1592.5h31.4v31.4h-31.4zM1830.1 1592.5h31.4v31.4h-31.4zM1273.9 1623.4h31.4v31.4h-31.4zM1861.0 1623.4h31.4v31.4h-31.4zM1891.9 1654.3h31.4v31.4h-31.4zM1150.3 1685.2h31.4v31.4h-31.4zM1212.1 1685.2h31.4v31.4h-31.4zM1273.9 1685.2h31.4v31.4h-31.4zM1891.9 1685.2h31.4v31.4h-31.4zM1891.9 1716.1h31.4v31.4h-31.4zM1212.1 1747.0h62.3v31.4h-62.3zM1181.2 1777.9h31.4v31.4h-31.4zM2015.5 1777.9h93.2v31.4h-93.2zM1304.8 1808.8h31.4v31.4h-31.4zM1984.6 1808.8h124.1v31.4h-124.1zM1150.3 1839.7h31.4v31.4h-31.4zM1273.9 1839.7h31.4v31.4h-31.4zM1922.8 1839.7h31.4v31.4h-31.4zM1984.6 1839.7h124.1v31.4h-124.1zM1273.9 1870.6h62.3v31.4h-62.3zM1861.0 1870.6h62.3v31.4h-62.3zM1953.7 1870.6h62.3v31.4h-62.3zM1830.1 1901.5h31.4v31.4h-31.4zM1891.9 1901.5h31.4v31.4h-31.4zM1953.7 1901.5h62.3v31.4h-62.3zM1057.6 1932.4h124.1v31.4h-124.1zM1644.7 1932.4h31.4v31.4h-31.4zM1706.5 1932.4h31.4v31.4h-31.4zM1150.3 1963.3h31.4v31.4h-31.4zM1243.0 1963.3h62.3v31.4h-62.3zM1459.3 1963.3h31.4v31.4h-31.4zM1675.6 1963.3h62.3v31.4h-62.3zM1150.3 1994.2h31.4v31.4h-31.4zM1304.8 1994.2h31.4v31.4h-31.4zM1459.3 1994.2h31.4v31.4h-31.4zM1861.0 1994.2h93.2v31.4h-93.2zM1181.2 2025.1h62.3v31.4h-62.3zM1273.9 2025.1h31.4v31.4h-31.4zM1459.3 2025.1h31.4v31.4h-31.4zM1552.0 2025.1h62.3v31.4h-62.3zM1737.4 2025.1h31.4v31.4h-31.4zM1861.0 2025.1h31.4v31.4h-31.4zM1273.9 2056.0h31.4v31.4h-31.4zM1366.6 2056.0h62.3v31.4h-62.3zM1582.9 2056.0h31.4v31.4h-31.4zM1706.5 2056.0h31.4v31.4h-31.4zM1891.9 2056.0h31.4v31.4h-31.4zM1273.9 2086.9h62.3v31.4h-62.3zM1428.4 2086.9h31.4v31.4h-31.4zM1922.8 2086.9h31.4v31.4h-31.4zM1243.0 2117.8h31.4v31.4h-31.4zM1397.5 2117.8h31.4v31.4h-31.4zM1181.2 2148.7h31.4v31.4h-31.4zM1304.8 2148.7h31.4v31.4h-31.4zM1397.5 2148.7h31.4v31.4h-31.4zM1799.2 2148.7h31.4v31.4h-31.4zM1335.7 2179.6h62.3v31.4h-62.3zM1459.3 2179.6h31.4v31.4h-31.4zM1737.4 2179.6h31.4v31.4h-31.4zM1335.7 2210.5h62.3v93.2h-62.3z"/>
<path fill="rgb(184,184,184)" d="M1922.8 1252.6h31.4v93.2h-31.4zM1181.2 1345.3h31.4v31.4h-31.4zM1953.7 1345.3h62.3v31.4h-62.3zM1150.3 1376.2h31.4v31.4h-31.4zM1953.7 1468.9h62.3v31.4h-62.3zM2015.5 1499.8h93.2v31.4h-93.2zM2015.5 1530.7h93.2v31.4h-93.2zM1490.2 1654.3h31.4v31.4h-31.4zM1459.3 1839.7h31.4v31.4h-31.4zM1644.7 1901.5h31.4v31.4h-31.4zM1150.3 2025.1h31.4v31.4h-31.4zM1984.6 2025.1h124.1v31.4h-124.1zM1150.3 2056.0h31.4v31.4h-31.4zM1150.3 2117.8h31.4v31.4h-31.4zM1922.8 2117.8h31.4v31.4h-31.4zM1150.3 2148.7h31.4v31.4h-31.4zM1922.8 2148.7h31.4v31.4h-31.4zM1861.0 2179.6h31.4v31.4h-31.4zM1150.3 2210.5h31.4v93.2h-31.4zM1737.4 2210.5h31.4v93.2h-31.4z"/>
<path fill="rgb(198,198,198)" d="M1953.7 1252.6h31.4v93.2h-31.4zM1181.2 1438.0h31.4v31.4h-31.4zM1150.3 1499.8h31.4v31.4h-31.4zM1984.6 1499.8h31.4v31.4h-31.4zM2015.5 1963.3h93.2v31.4h-93.2zM1057.6 2025.1h93.2v31.4h-93.2zM1150.3 2086.9h31.4v31.4h-31.4zM1057.6 2117.8h93.2v31.4h-93.2zM1057.6 2148.7h93.2v31.4h-93.2zM1891.9 2148.7h31.4v31.4h-31.4zM1181.2 2179.6h31.4v31.4h-31.4zM1830.1 2179.6h31.4v31.4h-31.4zM1212.1 2210.5h31.4v93.2h-31.4z"/>
<path fill="rgb(212,212,212)" d="M1243.0 1252.6h31.4v93.2h-31.4zM1304.8 1252.6h62.3v93.2h-62.3zM1552.0 1252.6h31.4v93.2h-31.4zM1273.9 1345.3h31.4v31.4h-31.4zM1521.1 1345.3h31.4v31.4h-31.4zM1768.3 1345.3h31.4v31.4h-31.4zM1243.0 1376.2h31.4v31.4h-31.4zM1830.1 1376.2h31.4v31.4h-31.4zM1057.6 1407.1h93.2v31.4h-93.2zM1212.1 1407.1h31.4v31.4h-31.4zM1582.9 1407.1h31.4v31.4h-31.4zM1891.9 1407.1h31.4v31.4h-31.4zM1335.7 1438.0h31.4v31.4h-31.4zM1891.9 1438.0h31.4v31.4h-31.4zM1150.3 1468.9h31.4v31.4h-31.4zM1304.8 1468.9h62.3v31.4h-62.3zM1428.4 1468.9h31.4v31.4h-31.4zM1830.1 1468.9h31.4v31.4h-31.4zM1582.9 1499.8h31.4v31.4h-31.4zM1861.0 1499.8h31.4v31.4h-31.4zM1953.7 1499.8h31.4v31.4h-31.4zM1273.9 1530.7h31.4v31.4h-31.4zM1335.7 1530.7h31.4v31.4h-31.4zM1397.5 1530.7h31.4v31.4h-31.4zM1490.2 1530.7h31.4v31.4h-31.4zM1861.0 1530.7h31.4v31.4h-31.4zM1304.8 1561.6h31.4v31.4h-31.4zM1521.1 1561.6h31.4v31.4h-31.4zM1799.2 1561.6h31.4v31.4h-31.4zM1891.9 1561.6h31.4v31.4h-31.4zM2015.5 1561.6h93.2v31.4h-93.2zM1181.2 1592.5h31.4v31.4h-31.4zM1273.9 1592.5h31.4v31.4h-31.4zM1181.2 1623.4h31.4v31.4h-31.4zM1304.8 1623.4h31.4v31.4h-31.4zM1428.4 1623.4h31.4v31.4h-31.4zM1737.4 1623.4h31.4v31.4h-31.4zM1459.3 1654.3h31.4v31.4h-31.4zM1861.0 1654.3h31.4v31.4h-31.4zM1984.6 1654.3h31.4v31.4h-31.4zM1057.6 1685.2h93.2v31.4h-93.2zM1490.2 1685.2h31.4v31.4h-31.4zM1057.6 1716.1h124.1v31.4h-124.1zM1212.1 1716.1h62.3v31.4h-62.3zM1521.1 1716.1h31.4v31.4h-31.4zM1922.8 1716.1h31.4v31.4h-31.4zM1181.2 1747.0h31.4v31.4h-31.4zM1273.9 1747.0h31.4v31.4h-31.4zM1397.5 1747.0h31.4v31.4h-31.4zM1552.0 1747.0h31.4v31.4h-31.4zM1922.8 1747.0h31.4v31.4h-31.4zM1212.1 1777.9h31.4v31.4h-31.4zM1366.6 1777.9h31.4v31.4h-31.4zM1552.0 1777.9h31.4v31.4h-31.4zM1273.9 1808.8h31.4v31.4h-31.4zM1521.1 1808.8h62.3v31.4h-62.3zM1057.6 1839.7h93.2v31.4h-93.2zM1304.8 1839.7h31.4v31.4h-31.4zM1490.2 1839.7h31.4v31.4h-31.4zM1181.2 1870.6h31.4v31.4h-31.4zM1459.3 1870.6h31.4v31.4h-31.4zM1922.8 1870.6h31.4v31.4h-31.4zM2015.5 1870.6h93.2v31.4h-93.2zM1181.2 1901.5h31.4v31.4h-31.4zM1273.9 1901.5h31.4v31.4h-31.4zM1397.5 1901.5h31.4v31.4h-31.4zM1521.1 1901.5h31.4v31.4h-31.4zM1922.8 1901.5h31.4v31.4h-31.4zM1243.0 1932.4h62.3v31.4h-62.3zM1953.7 1932.4h155.0v31.4h-155.0zM1304.8 1963.3h31.4v31.4h-31.4zM1490.2 1963.3h31.4v31.4h-31.4zM1644.7 1963.3h31.4v31.4h-31.4zM1181.2 1994.2h93.2v31.4h-93.2zM1490.2 1994.2h31.4v31.4h-31.4zM1953.7 1994.2h31.4v31.4h-31.4zM1243.0 2025.1h31.4v31.4h-31.4zM1304.8 2025.1h31.4v31.4h-31.4zM1428.4 2025.1h31.4v31.4h-31.4zM1521.1 2025.1h31.4v31.4h-31.4zM1304.8 2056.0h31.4v31.4h-31.4zM1521.1 2056.0h62.3v31.4h-62.3zM1737.4 2056.0h31.4v31.4h-31.4zM1861.0 2056.0h31.4v31.4h-31.4zM1057.6 2086.9h93.2v31.4h-93.2zM1366.6 2086.9h62.3v31.4h-62.3zM1552.0 2086.9h31.4v31.4h-31.4zM1675.6 2086.9h31.4v31.4h-31.4zM1366.6 2117.8h31.4v31.4h-31.4zM1861.0 2117.8h31.4v31.4h-31.4zM1366.6 2148.7h31.4v31.4h-31.4zM1459.3 2148.7h31.4v31.4h-31.4zM1830.1 2148.7h31.4v31.4h-31.4zM1150.3 2179.6h31.4v31.4h-31.4zM1552.0 2179.6h31.4v31.4h-31.4zM1397.5 2210.5h62.3v93.2h-62.3z"/>
<path fill="rgb(227,227,227)" d="M1273.9 1252.6h31.4v93.2h-31.4zM1212.1 1345.3h31.4v31.4h-31.4zM1181.2 1376.2h31.4v31.4h-31.4zM1150.3 1407.1h31.4v31.4h-31.4zM1057.6 1499.8h93.2v31.4h-93.2zM1057.6 1530.7h93.2v31.4h-93.2zM1613.8 1654.3h31.4v31.4h-31.4zM1613.8 1870.6h31.4v31.4h-31.4zM1057.6 2056.0h93.2v31.4h-93.2zM1891.9 2117.8h31.4v31.4h-31.4zM1181.2 2210.5h31.4v93.2h-31.4z"/>
<path fill="rgb(241,241,241)" d="M1366.6 1252.6h31.4v93.2h-31.4zM1459.3 1252.6h31.4v93.2h-31.4zM1675.6 1252.6h31.4v93.2h-31.4zM1335.7 1345.3h62.3v31.4h-62.3zM1552.0 1345.3h62.3v31.4h-62.3zM1737.4 1345.3h31.4v31.4h-31.4zM1212.1 1376.2h31.4v31.4h-31.4zM1366.6 1376.2h31.4v31.4h-31.4zM1521.1 1376.2h93.2v31.4h-93.2zM1799.2 1376.2h31.4v31.4h-31.4zM1181.2 1407.1h31.4v31.4h-31.4zM1366.6 1407.1h31.4v31.4h-31.4zM1799.2 1407.1h31.4v31.4h-31.4zM1057.6 1438.0h124.1v31.4h-124.1zM1366.6 1438.0h62.3v31.4h-62.3zM1552.0 1438.0h62.3v31.4h-62.3zM1799.2 1438.0h31.4v31.4h-31.4zM1922.8 1438.0h31.4v31.4h-31.4zM1459.3 1468.9h31.4v31.4h-31.4zM1799.2 1468.9h31.4v31.4h-31.4zM1428.4 1499.8h62.3v31.4h-62.3zM1552.0 1499.8h31.4v31.4h-31.4zM1768.3 1499.8h31.4v31.4h-31.4zM1150.3 1530.7h31.4v31.4h-31.4zM1459.3 1530.7h31.4v31.4h-31.4zM1552.0 1530.7h31.4v31.4h-31.4zM1799.2 1530.7h31.4v31.4h-31.4zM1953.7 1530.7h31.4v31.4h-31.4zM1057.6 1561.6h93.2v31.4h-93.2zM1335.7 1561.6h31.4v31.4h-31.4zM1459.3 1561.6h62.3v31.4h-62.3zM1706.5 1561.6h31.4v31.4h-31.4zM1984.6 1561.6h31.4v31.4h-31.4zM1057.6 1592.5h124.1v31.4h-124.1zM1397.5 1592.5h31.4v31.4h-31.4zM1490.2 1592.5h93.2v31.4h-93.2zM1922.8 1592.5h31.4v31.4h-31.4zM1984.6 1592.5h31.4v31.4h-31.4zM1150.3 1623.4h31.4v31.4h-31.4zM1335.7 1623.4h31.4v31.4h-31.4zM1521.1 1623.4h62.3v31.4h-62.3zM1830.1 1623.4h31.4v31.4h-31.4zM1953.7 1623.4h31.4v31.4h-31.4zM1181.2 1654.3h31.4v31.4h-31.4zM1366.6 1654.3h62.3v31.4h-62.3zM1521.1 1654.3h62.3v31.4h-62.3zM1768.3 1654.3h31.4v31.4h-31.4zM1181.2 1685.2h31.4v31.4h-31.4zM1459.3 1685.2h31.4v31.4h-31.4zM1521.1 1685.2h62.3v31.4h-62.3zM1861.0 1685.2h31.4v31.4h-31.4zM1922.8 1685.2h62.3v31.4h-62.3zM1181.2 1716.1h31.4v31.4h-31.4zM1273.9 1716.1h31.4v31.4h-31.4zM1552.0 1716.1h31.4v31.4h-31.4zM1953.7 1716.1h31.4v31.4h-31.4zM1150.3 1747.0h31.4v31.4h-31.4zM1304.8 1747.0h31.4v31.4h-31.4zM1366.6 1747.0h31.4v31.4h-31.4zM1428.4 1747.0h31.4v31.4h-31.4zM1891.9 1747.0h31.4v31.4h-31.4zM1273.9 1777.9h93.2v31.4h-93.2zM1057.6 1808.8h124.1v31.4h-124.1zM1335.7 1808.8h31.4v31.4h-31.4zM1459.3 1808.8h31.4v31.4h-31.4zM1582.9 1808.8h31.4v31.4h-31.4zM1799.2 1808.8h31.4v31.4h-31.4zM1953.7 1808.8h31.4v31.4h-31.4zM1366.6 1839.7h31.4v31.4h-31.4zM1521.1 1839.7h31.4v31.4h-31.4zM1582.9 1839.7h31.4v31.4h-31.4zM1768.3 1839.7h62.3v31.4h-62.3zM1891.9 1839.7h31.4v31.4h-31.4zM1397.5 1870.6h31.4v31.4h-31.4zM1490.2 1870.6h62.3v31.4h-62.3zM1582.9 1870.6h31.4v31.4h-31.4zM1768.3 1870.6h31.4v31.4h-31.4zM1830.1 1870.6h31.4v31.4h-31.4zM1243.0 1901.5h31.4v31.4h-31.4zM1304.8 1901.5h31.4v31.4h-31.4zM1428.4 1901.5h31.4v31.4h-31.4zM1582.9 1901.5h62.3v31.4h-62.3zM1737.4 1901.5h31.4v31.4h-31.4zM1799.2 1901.5h31.4v31.4h-31.4zM2015.5 1901.5h93.2v31.4h-93.2zM1181.2 1932.4h31.4v31.4h-31.4zM1428.4 1932.4h31.4v31.4h-31.4zM1582.9 1932.4h31.4v31.4h-31.4zM1861.0 1932.4h31.4v31.4h-31.4zM1922.8 1932.4h31.4v31.4h-31.4zM1212.1 1963.3h31.4v31.4h-31.4zM1428.4 1963.3h31.4v31.4h-31.4zM1613.8 1963.3h31.4v31.4h-31.4zM1552.0 1994.2h31.4v31.4h-31.4zM1613.8 1994.2h31.4v31.4h-31.4zM1675.6 1994.2h62.3v31.4h-62.3zM1799.2 1994.2h31.4v31.4h-31.4zM1984.6 1994.2h31.4v31.4h-31.4zM1397.5 2025.1h31.4v31.4h-31.4zM1644.7 2025.1h31.4v31.4h-31.4zM1706.5 2025.1h31.4v31.4h-31.4zM1335.7 2056.0h31.4v31.4h-31.4zM1490.2 2056.0h31.4v31.4h-31.4zM1644.7 2056.0h62.3v31.4h-62.3zM1768.3 2056.0h31.4v31.4h-31.4zM1891.9 2086.9h31.4v31.4h-31.4zM1273.9 2117.8h31.4v31.4h-31.4zM1335.7 2117.8h31.4v31.4h-31.4zM1459.3 2117.8h31.4v31.4h-31.4zM1521.1 2117.8h62.3v31.4h-62.3zM1768.3 2117.8h31.4v31.4h-31.4zM1830.1 2117.8h31.4v31.4h-31.4zM1335.7 2148.7h31.4v31.4h-31.4zM1861.0 2148.7h31.4v31.4h-31.4zM1582.9 2179.6h31.4v31.4h-31.4zM1459.3 2210.5h62.3v93.2h-62.3z"/>
<path fill="rgb(255,255,255)" d="M1397.5 1252.6h62.3v93.2h-62.3zM1582.9 1252.6h93.2v93.2h-93.2zM1706.5 1252.6h62.3v93.2h-62.3zM1243.0 1345.3h31.4v31.4h-31.4zM1397.5 1345.3h93.2v31.4h-93.2zM1613.8 1345.3h124.1v31.4h-124.1zM1799.2 1345.3h31.4v31.4h-31.4zM1397.5 1376.2h124.1v31.4h-124.1zM1613.8 1376.2h185.9v31.4h-185.9zM1397.5 1407.1h185.9v31.4h-185.9zM1613.8 1407.1h185.9v31.4h-185.9zM1428.4 1438.0h124.1v31.4h-124.1zM1613.8 1438.0h185.9v31.4h-185.9zM1057.6 1468.9h93.2v31.4h-93.2zM1490.2 1468.9h93.2v31.4h-93.2zM1613.8 1468.9h185.9v31.4h-185.9zM1613.8 1499.8h155.0v31.4h-155.0zM1366.6 1530.7h31.4v31.4h-31.4zM1428.4 1530.7h31.4v31.4h-31.4zM1582.9 1530.7h216.8v31.4h-216.8zM1984.6 1530.7h31.4v31.4h-31.4zM1150.3 1561.6h62.3v31.4h-62.3zM1366.6 1561.6h31.4v31.4h-31.4zM1552.0 1561.6h124.1v31.4h-124.1zM1737.4 1561.6h62.3v31.4h-62.3zM1953.7 1561.6h31.4v31.4h-31.4zM1304.8 1592.5h93.2v31.4h-93.2zM1582.9 1592.5h93.2v31.4h-93.2zM1737.4 1592.5h93.2v31.4h-93.2zM1953.7 1592.5h31.4v31.4h-31.4zM2015.5 1592.5h93.2v31.4h-93.2zM1057.6 1623.4h93.2v31.4h-93.2zM1366.6 1623.4h62.3v31.4h-62.3zM1490.2 1623.4h31.4v31.4h-31.4zM1582.9 1623.4h62.3v31.4h-62.3zM1768.3 1623.4h62.3v31.4h-62.3zM1922.8 1623.4h31.4v31.4h-31.4zM1984.6 1623.4h124.1v31.4h-124.1zM1057.6 1654.3h124.1v31.4h-124.1zM1335.7 1654.3h31.4v31.4h-31.4zM1428.4 1654.3h31.4v31.4h-31.4zM1582.9 1654.3h31.4v31.4h-31.4zM1799.2 1654.3h62.3v31.4h-62.3zM1922.8 1654.3h62.3v31.4h-62.3zM2015.5 1654.3h93.2v31.4h-93.2zM1304.8 1685.2h155.0v31.4h-155.0zM1582.9 1685.2h31.4v31.4h-31.4zM1799.2 1685.2h62.3v31.4h-62.3zM1984.6 1685.2h124.1v31.4h-124.1zM1304.8 1716.1h216.8v31.4h-216.8zM1582.9 1716.1h31.4v31.4h-31.4zM1799.2 1716.1h93.2v31.4h-93.2zM1984.6 1716.1h124.1v31.4h-124.1zM1057.6 1747.0h93.2v31.4h-93.2zM1335.7 1747.0h31.4v31.4h-31.4zM1459.3 1747.0h93.2v31.4h-93.2zM1799.2 1747.0h93.2v31.4h-93.2zM1953.7 1747.0h155.0v31.4h-155.0zM1057.6 1777.9h124.1v31.4h-124.1zM1243.0 1777.9h31.4v31.4h-31.4zM1521.1 1777.9h31.4v31.4h-31.4zM1799.2 1777.9h216.8v31.4h-216.8zM1181.2 1808.8h93.2v31.4h-93.2zM1366.6 1808.8h93.2v31.4h-93.2zM1490.2 1808.8h31.4v31.4h-31.4zM1830.1 1808.8h124.1v31.4h-124.1zM1181.2 1839.7h93.2v31.4h-93.2zM1335.7 1839.7h31.4v31.4h-31.4zM1397.5 1839.7h62.3v31.4h-62.3zM1830.1 1839.7h62.3v31.4h-62.3zM1212.1 1870.6h62.3v31.4h-62.3zM1335.7 1870.6h62.3v31.4h-62.3zM1799.2 1870.6h31.4v31.4h-31.4zM1212.1 1901.5h31.4v31.4h-31.4zM1335.7 1901.5h62.3v31.4h-62.3zM1459.3 1901.5h62.3v31.4h-62.3zM1768.3 1901.5h31.4v31.4h-31.4zM1212.1 1932.4h31.4v31.4h-31.4zM1304.8 1932.4h124.1v31.4h-124.1zM1459.3 1932.4h62.3v31.4h-62.3zM1613.8 1932.4h31.4v31.4h-31.4zM1737.4 1932.4h124.1v31.4h-124.1zM1891.9 1932.4h31.4v31.4h-31.4zM1181.2 1963.3h31.4v31.4h-31.4zM1335.7 1963.3h93.2v31.4h-93.2zM1737.4 1963.3h278.6v31.4h-278.6zM1335.7 1994.2h124.1v31.4h-124.1zM1521.1 1994.2h31.4v31.4h-31.4zM1737.4 1994.2h62.3v31.4h-62.3zM2015.5 1994.2h93.2v31.4h-93.2zM1335.7 2025.1h62.3v31.4h-62.3zM1490.2 2025.1h31.4v31.4h-31.4zM1613.8 2025.1h31.4v31.4h-31.4zM1675.6 2025.1h31.4v31.4h-31.4zM1428.4 2056.0h62.3v31.4h-62.3zM1613.8 2056.0h31.4v31.4h-31.4zM1799.2 2056.0h62.3v31.4h-62.3zM1335.7 2086.9h31.4v31.4h-31.4zM1459.3 2086.9h93.2v31.4h-93.2zM1613.8 2086.9h62.3v31.4h-62.3zM1706.5 2086.9h185.9v31.4h-185.9zM1304.8 2117.8h31.4v31.4h-31.4zM1490.2 2117.8h31.4v31.4h-31.4zM1582.9 2117.8h185.9v31.4h-185.9zM1490.2 2148.7h247.7v31.4h-247.7zM1490.2 2179.6h62.3v31.4h-62.3zM1613.8 2179.6h124.1v31.4h-124.1zM1644.7 2210.5h93.2v93.2h-93.2z"/></g>
<path fill="#808080" d="M1580.8 1575.8L1584.2 1576.9L1584.2 1597.7L1610.8 1601.2L1666.2 1595.4L1655.8 1620.8L1686.9 1625.4L1691.5 1639.2L1714.6 1660.0L1740.0 1690.0L1758.5 1708.5L1753.8 1731.5L1756.2 1747.7L1772.3 1782.3L1776.9 1793.8L1753.8 1812.3L1749.2 1863.1L1746.9 1886.2L1721.5 1886.2L1693.8 1930.0L1663.8 1936.9L1645.4 1943.8L1610.8 1955.4L1594.6 1978.5L1583.1 1978.5L1580.8 1950.8L1518.5 1953.1L1506.9 1932.3L1426.2 1867.7L1407.7 1840.0L1412.3 1816.9L1400.8 1789.2L1386.9 1747.7L1389.2 1731.5L1412.3 1736.2L1421.5 1683.1L1426.2 1655.4L1449.2 1669.2L1458.5 1650.8L1476.9 1616.2L1490.8 1597.7L1509.2 1620.8L1527.7 1606.9z"/>
</g>
<g clip-path="url(#cs)" fill="none" stroke="#000" stroke-width="1.8" stroke-linejoin="round"><path d="M1162.7 1452.6L1168.9 1471.6L1165.9 1483.2L1163.1 1494.7L1153.9 1500.9L1144.7 1507.3L1159.2 1509.5L1173.4 1512.0L1184.9 1529.2L1179.6 1545.1L1175.0 1561.0L1192.1 1572.7L1187.3 1582.0L1182.8 1591.3L1203.5 1590.4L1213.9 1608.2L1217.5 1618.3L1221.3 1628.1L1241.5 1625.9L1249.7 1639.9L1258.2 1653.3L1275.7 1655.6L1289.4 1651.8L1303.1 1648.6L1303.5 1657.0L1304.0 1665.2L1293.7 1672.7L1283.6 1680.6L1272.6 1684.5L1261.5 1688.8L1242.4 1686.7L1222.9 1684.8L1205.3 1675.0L1187.7 1664.6L1175.9 1660.1L1164.1 1655.4L1149.5 1650.6L1134.8 1645.7L1119.9 1640.7L1102.0 1626.3L1084.2 1611.0"/><path d="M1834.9 1313.8L1821.7 1314.2L1808.7 1315.0L1791.9 1308.4L1775.0 1302.4L1756.1 1302.1L1745.5 1289.2L1750.6 1267.9"/><path d="M2066.7 2010.7L2056.7 2002.4L2046.7 1994.2L2037.5 2004.6L2028.1 2014.6L2028.9 2035.4L2024.3 2053.7L2018.9 2072.0L2014.6 2091.5L2008.9 2104.7"/><path d="M1977.9 2139.9L1963.6 2145.5L1949.9 2143.0L1936.6 2140.3L1938.2 2165.6L1927.4 2157.1L1916.7 2148.6L1898.7 2150.2L1883.4 2142.4L1871.2 2146.9L1858.9 2151.0L1852.7 2163.2L1839.2 2162.3L1833.2 2178.5L1822.8 2193.4L1830.8 2210.8L1832.8 2234.4"/><path d="M1839.7 2140.7L1827.9 2148.1L1815.9 2155.2L1811.0 2145.1L1806.1 2135.1L1815.0 2122.1L1827.9 2130.4z"/><path d="M1647.8 2284.4L1638.6 2274.2L1629.7 2263.9L1616.2 2254.4L1605.8 2254.0L1595.3 2253.3L1606.8 2234.1L1612.8 2222.9L1618.6 2211.7L1623.4 2214.4L1622.3 2227.8L1632.6 2235.1L1627.0 2253.5L1637.1 2269.0z"/><path d="M1639.6 2220.8L1626.0 2210.0L1630.5 2198.9L1634.7 2187.8L1641.3 2175.8L1647.5 2163.9L1654.3 2159.7L1661.1 2155.3L1674.7 2160.3L1666.3 2180.5L1658.1 2189.7L1649.6 2198.8z"/><path d="M1389.2 1654.2L1391.5 1664.6L1403.1 1687.7L1419.2 1699.2L1437.7 1699.2L1456.2 1706.2L1467.7 1717.7L1472.3 1736.2L1474.6 1752.3L1481.5 1747.7L1490.8 1756.9L1504.6 1754.6L1518.5 1747.7L1532.3 1746.5L1530.0 1729.2L1539.2 1717.7L1541.5 1706.2L1536.9 1699.2L1527.7 1701.5L1525.4 1687.7L1530.0 1673.8L1541.5 1660.0L1546.2 1648.5L1543.8 1641.5L1550.8 1630.0L1553.1 1620.8L1564.6 1616.2L1580.8 1619.6L1606.2 1608.1L1613.1 1615.0L1629.2 1612.7L1645.4 1625.4L1666.2 1627.7L1686.9 1625.4L1691.5 1639.2L1721.5 1646.2L1746.9 1653.1L1753.8 1662.3L1749.2 1678.5L1756.2 1690.0L1758.5 1708.5L1735.4 1717.7L1726.2 1722.3L1728.5 1726.9L1744.6 1729.2L1760.8 1740.8L1774.6 1754.6L1779.2 1770.8L1786.2 1773.1L1776.9 1789.2L1783.8 1816.9L1786.2 1826.2L1772.3 1837.7L1770.0 1849.2L1772.3 1863.1L1753.8 1872.3L1749.2 1876.9L1746.9 1888.5L1737.7 1906.9L1730.8 1920.8L1733.1 1927.7L1721.5 1923.1L1696.2 1939.2L1689.2 1936.9L1663.8 1936.9L1661.5 1941.5L1643.1 1939.2L1633.8 1936.9L1615.4 1936.9L1607.3 1932.3L1606.2 1918.5L1610.8 1906.9L1615.4 1895.4L1613.1 1881.5L1605.0 1872.3L1610.8 1863.1L1608.5 1846.9L1596.9 1835.4L1588.8 1826.2L1576.2 1827.3L1569.2 1814.6L1563.5 1810.0L1556.5 1814.6L1557.7 1823.8L1550.8 1837.7L1536.9 1846.9L1539.2 1858.5L1543.8 1863.1L1541.5 1879.2L1534.6 1872.3L1518.5 1873.5L1511.5 1881.5L1495.4 1874.6L1481.5 1865.4L1470.0 1851.5L1460.8 1837.7L1458.5 1819.2L1456.2 1800.8L1449.2 1805.4L1440.0 1812.3L1437.7 1800.8L1442.3 1789.2L1435.4 1775.4L1445.8 1752.3L1449.2 1738.5L1445.8 1724.6L1435.4 1717.7L1416.9 1715.4L1403.1 1699.2L1391.5 1680.8L1386.9 1666.9z"/></g>
<g stroke="#000" stroke-width="1.9" fill="none"><circle cx="1582.9" cy="1777.9" r="127.5"/><circle cx="1582.9" cy="1777.9" r="259.5"/><circle cx="1582.9" cy="1777.9" r="401.2"/><path d="M1582.9 1314.4L1582.9 2241.4"/><path d="M1181.5 1546.2L1984.3 2009.7"/><path d="M1181.5 2009.7L1984.3 1546.2"/></g>
<circle cx="1582.9" cy="1777.9" r="2.2" fill="#fff"/>
<circle cx="1582.9" cy="1777.9" r="463.5" fill="none" stroke="#000" stroke-width="3.2"/>
<rect x="557.9" y="1024.2" width="1010.0000000000001" height="36.5" fill="url(#vg)"/>
<path d="M557.9 1024.2L507.4 1042.45L557.9 1060.7z" fill="#c0c0c0"/>
<path d="M1567.9 1024.2L1618.4 1042.45L1567.9 1060.7z" fill="#404040"/>
<path d="M557.9 1024.2H1567.9L1618.4 1042.45L1567.9 1060.7H557.9L507.4 1042.45z" fill="none" stroke="#000" stroke-width="3.2" stroke-linejoin="miter"/>
<path d="M557.9 1060.7V1085.8M759.9 1060.7V1085.8M961.9 1060.7V1085.8M1163.9 1060.7V1085.8M1365.9 1060.7V1085.8M1567.9 1060.7V1085.8" stroke="#000" stroke-width="3.4" fill="none"/>
<text x="557.9" y="1134.3" font-size="43.2" text-anchor="middle" textLength="61" lengthAdjust="spacingAndGlyphs">0.0</text>
<text x="759.9" y="1134.3" font-size="43.2" text-anchor="middle" textLength="61" lengthAdjust="spacingAndGlyphs">0.2</text>
<text x="961.9" y="1134.3" font-size="43.2" text-anchor="middle" textLength="61" lengthAdjust="spacingAndGlyphs">0.4</text>
<text x="1163.9" y="1134.3" font-size="43.2" text-anchor="middle" textLength="61" lengthAdjust="spacingAndGlyphs">0.6</text>
<text x="1365.9" y="1134.3" font-size="43.2" text-anchor="middle" textLength="61" lengthAdjust="spacingAndGlyphs">0.8</text>
<text x="1567.9" y="1134.3" font-size="43.2" text-anchor="middle" textLength="61" lengthAdjust="spacingAndGlyphs">1.0</text>
<text x="1062.3" y="1192.6" font-size="43.2" text-anchor="middle" textLength="727" lengthAdjust="spacingAndGlyphs">VIIRS cloud mask confidently cloud</text>
<text x="1062" y="82.4" font-size="51.5" text-anchor="middle" textLength="286" lengthAdjust="spacingAndGlyphs">2025-07-27</text>
</svg></body></html>
